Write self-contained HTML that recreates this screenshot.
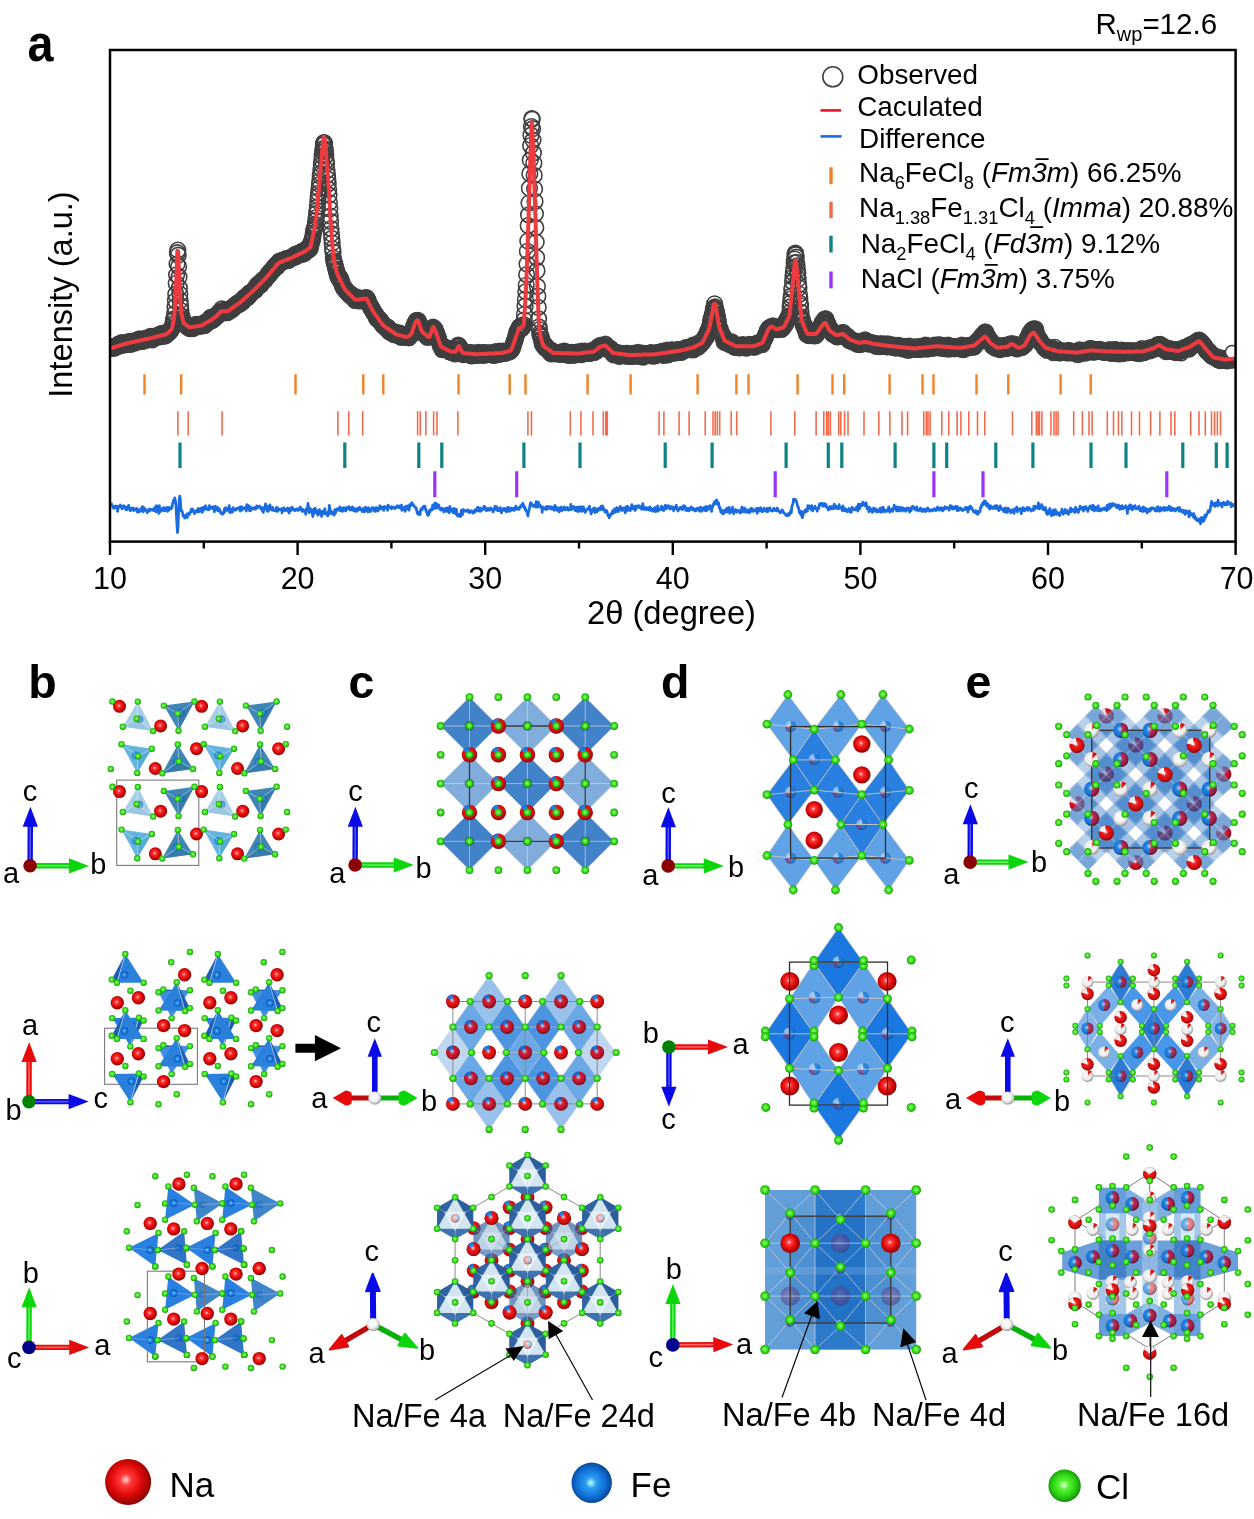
<!DOCTYPE html>
<html><head><meta charset="utf-8"><title>figure</title><style>html,body{margin:0;padding:0;background:#fff}svg{display:block;will-change:transform}</style></head>
<body>
<svg width="1254" height="1519" viewBox="0 0 1254 1519">
<defs>
<radialGradient id="na" cx="45%" cy="45%" r="55%"><stop offset="0" stop-color="#ffd8d8"/><stop offset=".22" stop-color="#ff3a3a"/><stop offset=".6" stop-color="#e20a0a"/><stop offset="1" stop-color="#8e0000"/></radialGradient>
<radialGradient id="cl" cx="48%" cy="48%" r="54%"><stop offset="0" stop-color="#f2ffe2"/><stop offset=".25" stop-color="#5cf53a"/><stop offset=".65" stop-color="#2cd412"/><stop offset="1" stop-color="#15860a"/></radialGradient>
<radialGradient id="fe" cx="48%" cy="50%" r="54%"><stop offset="0" stop-color="#c8ffff"/><stop offset=".25" stop-color="#2b9cf2"/><stop offset=".65" stop-color="#0f6fd6"/><stop offset="1" stop-color="#073f8e"/></radialGradient>
<radialGradient id="wh" cx="45%" cy="42%" r="58%"><stop offset="0" stop-color="#ffffff"/><stop offset=".55" stop-color="#f2f2f2"/><stop offset=".85" stop-color="#c4c4c4"/><stop offset="1" stop-color="#8a8a8a"/></radialGradient>
<radialGradient id="pu" cx="45%" cy="45%" r="55%"><stop offset="0" stop-color="#8a6aa8"/><stop offset=".6" stop-color="#63408a"/><stop offset="1" stop-color="#43306e"/></radialGradient>
<radialGradient id="sh" cx="45%" cy="42%" r="58%"><stop offset="0" stop-color="#fff" stop-opacity=".75"/><stop offset=".3" stop-color="#fff" stop-opacity=".12"/><stop offset=".62" stop-color="#000" stop-opacity="0"/><stop offset="1" stop-color="#000" stop-opacity=".42"/></radialGradient>
</defs>
<rect width="1254" height="1519" fill="#fff"/>
<marker id="om" markerWidth="22" markerHeight="22" refX="11" refY="11" markerUnits="userSpaceOnUse"><circle cx="11" cy="11" r="7.8" fill="none" stroke="#3f3f3f" stroke-width="1.6"/></marker>
<clipPath id="plotclip"><rect x="110" y="50" width="1126" height="491"/></clipPath><g clip-path="url(#plotclip)">
<polyline points="111.0,348.2 111.4,348.4 111.8,347.7 112.2,347.0 112.6,347.3 113.0,346.7 113.4,347.5 113.8,348.5 114.2,346.8 114.6,346.5 115.0,347.4 115.4,347.2 115.8,346.8 116.2,345.8 116.6,346.4 117.0,347.0 117.4,345.0 117.8,345.7 118.2,344.3 118.6,344.7 119.0,344.1 119.4,345.4 119.8,344.3 120.2,345.6 120.6,345.4 121.0,344.9 121.4,342.7 121.8,344.4 122.2,344.7 122.6,344.7 123.0,343.1 123.4,343.9 123.8,343.3 124.2,343.4 124.6,344.9 125.0,343.1 125.4,343.7 125.8,344.4 126.2,343.0 126.6,343.4 127.0,343.5 127.4,343.3 127.8,342.1 128.2,343.2 128.6,344.2 129.0,341.5 129.4,343.6 129.8,342.9 130.2,342.1 130.6,344.4 131.0,343.2 131.4,341.3 131.8,342.4 132.2,342.7 132.6,342.0 133.0,342.7 133.4,341.9 133.8,342.5 134.2,343.1 134.6,341.1 135.0,341.8 135.4,341.1 135.8,341.6 136.2,340.3 136.6,340.7 137.0,341.0 137.4,341.9 137.8,342.0 138.2,339.7 138.6,340.1 139.0,341.3 139.4,338.9 139.8,340.1 140.2,340.4 140.6,341.5 141.0,340.9 141.4,339.9 141.8,339.8 142.2,339.8 142.6,341.3 143.0,339.5 143.4,339.5 143.8,340.0 144.2,339.5 144.6,339.3 145.0,338.4 145.4,339.3 145.8,338.8 146.2,340.2 146.6,339.7 147.0,339.0 147.4,339.5 147.8,338.5 148.2,339.7 148.6,338.6 149.0,339.1 149.4,337.3 149.8,338.7 150.2,336.8 150.6,336.4 151.0,337.8 151.4,337.2 151.8,338.0 152.2,339.8 152.6,337.0 153.0,337.0 153.4,337.7 153.8,337.8 154.2,337.1 154.6,337.0 155.0,337.7 155.4,337.5 155.8,336.0 156.2,336.7 156.6,336.7 157.0,335.7 157.4,336.7 157.8,335.6 158.2,337.2 158.6,336.4 159.0,336.2 159.4,335.5 159.8,335.8 160.2,334.0 160.6,334.7 161.0,335.9 161.4,333.6 161.8,336.2 162.2,333.7 162.6,335.9 163.0,334.4 163.4,335.7 163.8,335.0 164.2,333.4 164.6,335.8 165.0,335.9 165.4,334.5 165.8,334.2 166.2,334.1 166.6,333.1 167.0,334.6 167.4,332.8 167.8,332.9 168.2,331.8 168.6,331.6 169.0,330.6 169.4,332.5 169.8,330.9 170.2,331.5 170.6,330.3 171.0,329.3 171.4,329.3 171.8,328.5 172.2,327.8 172.6,325.5 173.0,323.5 173.4,320.5 173.8,319.0 174.2,319.2 174.6,313.8 175.0,307.2 175.4,300.8 175.8,294.2 176.2,283.3 176.6,274.8 177.0,264.1 177.4,252.7 177.8,250.0 178.2,255.2 178.6,266.6 179.0,277.0 179.4,287.9 179.8,294.2 180.2,300.5 180.6,305.6 181.0,310.6 181.4,316.0 181.8,316.1 182.2,318.3 182.6,319.5 183.0,320.8 183.4,322.1 183.8,323.9 184.2,323.4 184.6,323.8 185.0,324.2 185.4,325.5 185.8,325.4 186.2,325.4 186.6,324.8 187.0,324.4 187.4,326.8 187.8,327.1 188.2,326.4 188.6,327.4 189.0,327.9 189.4,328.1 189.8,328.2 190.2,326.8 190.6,328.6 191.0,326.0 191.4,327.8 191.8,327.5 192.2,327.7 192.6,328.6 193.0,328.2 193.4,325.7 193.8,325.2 194.2,327.4 194.6,325.7 195.0,326.5 195.4,327.2 195.8,324.9 196.2,324.4 196.6,326.5 197.0,326.2 197.4,325.9 197.8,326.1 198.2,325.2 198.6,324.6 199.0,325.7 199.4,324.9 199.8,324.3 200.2,326.1 200.6,325.6 201.0,325.9 201.4,324.6 201.8,324.8 202.2,324.4 202.6,324.2 203.0,325.0 203.4,323.9 203.8,324.6 204.2,324.4 204.6,325.7 205.0,322.3 205.4,324.2 205.8,323.0 206.2,322.9 206.6,321.3 207.0,322.0 207.4,322.8 207.8,321.8 208.2,321.7 208.6,321.2 209.0,322.2 209.4,320.9 209.8,318.7 210.2,319.8 210.6,318.5 211.0,317.1 211.4,319.3 211.8,320.7 212.2,319.3 212.6,318.0 213.0,317.9 213.4,319.6 213.8,318.4 214.2,318.1 214.6,317.8 215.0,317.5 215.4,317.8 215.8,317.2 216.2,316.5 216.6,315.0 217.0,316.0 217.4,314.5 217.8,315.7 218.2,313.2 218.6,313.8 219.0,313.5 219.4,311.9 219.8,314.2 220.2,313.6 220.6,311.5 221.0,312.2 221.4,311.7 221.8,308.9 222.2,311.5 222.6,311.2 223.0,311.4 223.4,310.3 223.8,311.1 224.2,311.1 224.6,312.4 225.0,311.6 225.4,311.3 225.8,312.7 226.2,310.8 226.6,310.9 227.0,309.7 227.4,312.7 227.8,312.0 228.2,311.7 228.6,311.2 229.0,310.4 229.4,310.2 229.8,309.5 230.2,309.3 230.6,309.2 231.0,310.3 231.4,309.1 231.8,308.3 232.2,307.6 232.6,307.2 233.0,309.0 233.4,307.7 233.8,307.0 234.2,306.4 234.6,305.4 235.0,306.1 235.4,306.6 235.8,305.2 236.2,305.1 236.6,304.8 237.0,304.8 237.4,303.0 237.8,303.9 238.2,303.1 238.6,304.4 239.0,302.6 239.4,303.6 239.8,304.1 240.2,302.2 240.6,301.6 241.0,301.9 241.4,301.4 241.8,300.2 242.2,301.1 242.6,302.1 243.0,299.7 243.4,299.4 243.8,298.3 244.2,299.2 244.6,297.4 245.0,297.2 245.4,299.0 245.8,296.6 246.2,298.1 246.6,298.1 247.0,296.6 247.4,296.5 247.8,297.4 248.2,295.1 248.6,294.4 249.0,293.4 249.4,294.3 249.8,295.2 250.2,294.4 250.6,292.3 251.0,292.0 251.4,292.0 251.8,292.3 252.2,291.5 252.6,291.5 253.0,291.2 253.4,290.3 253.8,290.2 254.2,290.0 254.6,289.3 255.0,289.5 255.4,290.3 255.8,288.7 256.2,287.9 256.6,285.9 257.0,287.3 257.4,284.8 257.8,284.9 258.2,286.6 258.6,286.0 259.0,284.9 259.4,283.1 259.8,283.9 260.2,283.2 260.6,284.0 261.0,285.0 261.4,282.8 261.8,281.5 262.2,280.7 262.6,281.3 263.0,280.8 263.4,279.6 263.8,280.3 264.2,278.8 264.6,280.4 265.0,280.0 265.4,279.6 265.8,277.8 266.2,278.2 266.6,277.1 267.0,276.4 267.4,276.0 267.8,274.6 268.2,274.0 268.6,275.6 269.0,274.2 269.4,274.1 269.8,274.3 270.2,271.4 270.6,271.8 271.0,272.1 271.4,271.9 271.8,270.7 272.2,271.5 272.6,270.3 273.0,268.5 273.4,268.3 273.8,269.4 274.2,268.6 274.6,266.0 275.0,268.4 275.4,267.3 275.8,267.5 276.2,265.4 276.6,265.0 277.0,263.8 277.4,266.6 277.8,263.7 278.2,264.8 278.6,262.4 279.0,262.9 279.4,261.1 279.8,262.1 280.2,263.1 280.6,261.0 281.0,262.9 281.4,262.1 281.8,260.7 282.2,261.0 282.6,260.9 283.0,261.1 283.4,260.5 283.8,260.1 284.2,260.4 284.6,259.6 285.0,259.2 285.4,260.1 285.8,260.8 286.2,258.5 286.6,259.7 287.0,259.0 287.4,258.5 287.8,260.0 288.2,258.6 288.6,260.3 289.0,258.1 289.4,258.9 289.8,258.2 290.2,257.6 290.6,258.6 291.0,257.8 291.4,258.3 291.8,257.6 292.2,256.5 292.6,257.2 293.0,257.1 293.4,257.7 293.8,255.9 294.2,256.5 294.6,254.8 295.0,256.7 295.4,255.0 295.8,254.1 296.2,255.5 296.6,256.4 297.0,253.8 297.4,254.0 297.8,254.2 298.2,253.6 298.6,254.8 299.0,253.5 299.4,253.4 299.8,254.4 300.2,253.0 300.6,253.9 301.0,252.5 301.4,252.1 301.8,251.3 302.2,254.5 302.6,252.3 303.0,252.6 303.4,252.2 303.8,252.2 304.2,251.9 304.6,253.3 305.0,250.3 305.4,249.6 305.8,249.8 306.2,249.3 306.6,250.9 307.0,250.6 307.4,248.8 307.8,248.1 308.2,248.8 308.6,250.1 309.0,246.0 309.4,248.7 309.8,247.0 310.2,248.6 310.6,245.8 311.0,244.9 311.4,241.9 311.8,240.5 312.2,240.7 312.6,238.3 313.0,235.4 313.4,233.1 313.8,230.3 314.2,229.8 314.6,228.3 315.0,226.4 315.4,224.3 315.8,220.4 316.2,217.5 316.6,213.4 317.0,210.5 317.4,206.9 317.8,201.0 318.2,196.4 318.6,193.1 319.0,188.6 319.4,184.5 319.8,181.0 320.2,176.0 320.6,173.4 321.0,168.7 321.4,164.9 321.8,160.4 322.2,155.8 322.6,151.7 323.0,148.7 323.4,144.9 323.8,142.9 324.2,142.6 324.6,144.0 325.0,148.8 325.4,151.1 325.8,155.8 326.2,160.6 326.6,163.7 327.0,170.3 327.4,174.9 327.8,179.2 328.2,183.8 328.6,189.4 329.0,195.2 329.4,202.5 329.8,208.8 330.2,216.0 330.6,221.4 331.0,228.6 331.4,233.7 331.8,238.4 332.2,243.0 332.6,248.8 333.0,251.8 333.4,258.0 333.8,260.6 334.2,262.4 334.6,264.0 335.0,264.6 335.4,266.6 335.8,268.9 336.2,270.3 336.6,271.7 337.0,271.7 337.4,274.9 337.8,276.4 338.2,277.0 338.6,277.1 339.0,276.3 339.4,279.3 339.8,279.1 340.2,277.8 340.6,281.2 341.0,280.3 341.4,281.3 341.8,282.7 342.2,285.2 342.6,284.5 343.0,285.9 343.4,288.0 343.8,288.7 344.2,287.9 344.6,288.6 345.0,288.4 345.4,289.4 345.8,290.8 346.2,291.2 346.6,291.3 347.0,292.5 347.4,291.3 347.8,292.3 348.2,293.5 348.6,293.7 349.0,294.6 349.4,294.4 349.8,294.1 350.2,295.1 350.6,294.3 351.0,294.1 351.4,296.5 351.8,296.4 352.2,297.1 352.6,295.7 353.0,297.3 353.4,297.5 353.8,297.6 354.2,296.8 354.6,298.9 355.0,300.4 355.4,300.1 355.8,299.2 356.2,299.7 356.6,300.3 357.0,297.1 357.4,299.5 357.8,300.0 358.2,300.1 358.6,301.0 359.0,300.4 359.4,299.6 359.8,299.6 360.2,300.0 360.6,298.7 361.0,299.2 361.4,300.0 361.8,300.9 362.2,298.9 362.6,299.0 363.0,299.2 363.4,300.1 363.8,298.9 364.2,300.2 364.6,297.9 365.0,298.6 365.4,298.5 365.8,299.4 366.2,299.6 366.6,297.5 367.0,298.6 367.4,300.5 367.8,300.4 368.2,300.4 368.6,303.5 369.0,303.8 369.4,304.6 369.8,304.5 370.2,306.7 370.6,306.3 371.0,308.3 371.4,307.3 371.8,308.2 372.2,309.9 372.6,309.9 373.0,311.8 373.4,312.1 373.8,311.6 374.2,313.0 374.6,313.2 375.0,314.9 375.4,314.0 375.8,314.8 376.2,316.8 376.6,318.3 377.0,318.6 377.4,317.4 377.8,318.1 378.2,319.9 378.6,318.9 379.0,318.7 379.4,320.3 379.8,321.1 380.2,320.5 380.6,320.3 381.0,321.1 381.4,323.5 381.8,322.8 382.2,323.9 382.6,324.8 383.0,325.6 383.4,325.2 383.8,326.3 384.2,325.3 384.6,326.0 385.0,325.7 385.4,327.9 385.8,327.2 386.2,326.8 386.6,327.4 387.0,327.8 387.4,329.0 387.8,327.2 388.2,327.9 388.6,328.8 389.0,331.7 389.4,330.6 389.8,329.9 390.2,330.9 390.6,332.4 391.0,330.6 391.4,330.8 391.8,332.5 392.2,332.1 392.6,332.5 393.0,331.8 393.4,334.2 393.8,334.3 394.2,333.6 394.6,333.9 395.0,331.8 395.4,334.5 395.8,334.0 396.2,334.7 396.6,335.1 397.0,334.3 397.4,333.1 397.8,335.1 398.2,334.2 398.6,334.7 399.0,334.5 399.4,334.9 399.8,333.2 400.2,336.5 400.6,335.7 401.0,336.6 401.4,337.5 401.8,335.8 402.2,334.3 402.6,335.2 403.0,335.1 403.4,335.8 403.8,336.4 404.2,334.7 404.6,336.9 405.0,335.3 405.4,337.0 405.8,336.8 406.2,336.7 406.6,337.0 407.0,336.6 407.4,336.4 407.8,335.1 408.2,336.3 408.6,337.7 409.0,337.6 409.4,336.7 409.8,335.8 410.2,334.3 410.6,335.9 411.0,334.3 411.4,333.8 411.8,332.8 412.2,331.9 412.6,330.3 413.0,329.3 413.4,327.2 413.8,326.6 414.2,327.8 414.6,324.5 415.0,323.2 415.4,322.9 415.8,322.6 416.2,320.5 416.6,321.0 417.0,321.6 417.4,320.6 417.8,320.4 418.2,322.3 418.6,321.4 419.0,323.3 419.4,323.9 419.8,326.9 420.2,325.0 420.6,327.4 421.0,328.7 421.4,330.9 421.8,331.8 422.2,333.0 422.6,330.6 423.0,333.1 423.4,332.5 423.8,332.5 424.2,333.9 424.6,332.9 425.0,332.2 425.4,334.1 425.8,333.4 426.2,334.5 426.6,335.8 427.0,336.0 427.4,337.5 427.8,336.3 428.2,335.4 428.6,336.4 429.0,336.5 429.4,336.0 429.8,336.6 430.2,334.5 430.6,332.1 431.0,333.3 431.4,331.4 431.8,330.6 432.2,329.2 432.6,328.5 433.0,327.1 433.4,328.1 433.8,328.0 434.2,328.9 434.6,329.9 435.0,329.2 435.4,331.3 435.8,332.1 436.2,333.5 436.6,333.0 437.0,336.7 437.4,336.5 437.8,336.5 438.2,337.3 438.6,339.7 439.0,341.1 439.4,341.8 439.8,343.7 440.2,344.2 440.6,346.4 441.0,345.9 441.4,346.9 441.8,348.0 442.2,349.6 442.6,346.6 443.0,347.3 443.4,347.1 443.8,348.8 444.2,347.3 444.6,348.1 445.0,348.7 445.4,348.0 445.8,348.2 446.2,348.9 446.6,347.6 447.0,348.4 447.4,349.5 447.8,350.2 448.2,350.1 448.6,348.9 449.0,350.3 449.4,351.6 449.8,351.6 450.2,351.2 450.6,350.7 451.0,352.2 451.4,351.2 451.8,350.6 452.2,351.0 452.6,353.0 453.0,351.9 453.4,352.7 453.8,351.3 454.2,352.5 454.6,351.2 455.0,351.6 455.4,353.9 455.8,352.3 456.2,350.8 456.6,350.4 457.0,349.8 457.4,349.6 457.8,347.1 458.2,345.0 458.6,345.7 459.0,346.1 459.4,346.9 459.8,348.8 460.2,348.7 460.6,349.9 461.0,349.0 461.4,351.6 461.8,353.5 462.2,353.0 462.6,353.1 463.0,353.2 463.4,354.7 463.8,352.3 464.2,353.1 464.6,353.6 465.0,353.9 465.4,352.9 465.8,353.6 466.2,353.1 466.6,353.5 467.0,353.3 467.4,352.4 467.8,353.5 468.2,354.3 468.6,352.7 469.0,353.4 469.4,354.2 469.8,352.7 470.2,353.9 470.6,352.8 471.0,354.8 471.4,355.9 471.8,355.7 472.2,353.7 472.6,354.6 473.0,354.1 473.4,354.1 473.8,355.4 474.2,352.9 474.6,355.1 475.0,354.1 475.4,355.5 475.8,354.4 476.2,353.7 476.6,354.5 477.0,354.9 477.4,354.3 477.8,354.7 478.2,353.7 478.6,352.3 479.0,355.0 479.4,354.8 479.8,354.3 480.2,354.2 480.6,355.0 481.0,353.7 481.4,353.4 481.8,353.9 482.2,355.1 482.6,352.7 483.0,355.0 483.4,353.4 483.8,352.9 484.2,355.0 484.6,353.8 485.0,352.7 485.4,353.5 485.8,354.7 486.2,354.9 486.6,353.4 487.0,354.1 487.4,354.4 487.8,353.1 488.2,354.0 488.6,353.7 489.0,353.2 489.4,353.2 489.8,353.7 490.2,353.6 490.6,353.1 491.0,353.2 491.4,354.5 491.8,353.7 492.2,354.3 492.6,354.6 493.0,354.0 493.4,355.5 493.8,352.7 494.2,354.1 494.6,353.1 495.0,355.0 495.4,354.9 495.8,351.6 496.2,352.4 496.6,353.9 497.0,354.0 497.4,353.9 497.8,353.2 498.2,353.6 498.6,353.8 499.0,353.1 499.4,354.1 499.8,351.1 500.2,353.7 500.6,352.1 501.0,353.9 501.4,352.8 501.8,352.2 502.2,353.3 502.6,352.0 503.0,351.9 503.4,351.2 503.8,352.5 504.2,352.8 504.6,353.2 505.0,352.0 505.4,353.0 505.8,352.0 506.2,351.7 506.6,352.2 507.0,352.6 507.4,351.2 507.8,351.2 508.2,351.1 508.6,351.2 509.0,350.2 509.4,351.9 509.8,350.5 510.2,351.1 510.6,349.9 511.0,350.6 511.4,349.8 511.8,348.0 512.2,349.1 512.6,346.5 513.0,346.7 513.4,344.9 513.8,342.4 514.2,341.6 514.6,341.2 515.0,339.8 515.4,338.6 515.8,337.1 516.2,334.5 516.6,334.8 517.0,331.8 517.4,333.0 517.8,330.8 518.2,329.6 518.6,329.1 519.0,329.0 519.4,327.2 519.8,326.7 520.2,327.1 520.6,326.0 521.0,326.8 521.4,328.9 521.8,326.3 522.2,327.6 522.6,325.6 523.0,326.9 523.4,326.1 523.8,324.5 524.2,320.0 524.6,314.3 525.0,306.2 525.4,299.3 525.8,291.6 526.2,285.3 526.6,274.6 527.0,264.0 527.4,251.3 527.8,241.0 528.2,225.6 528.6,214.9 529.0,203.0 529.4,188.2 529.8,173.7 530.2,160.0 530.6,145.6 531.0,135.2 531.4,126.5 531.8,118.6 532.2,119.2 532.6,128.7 533.0,140.1 533.4,152.9 533.8,163.2 534.2,175.4 534.6,189.0 535.0,201.4 535.4,213.8 535.8,227.6 536.2,242.1 536.6,257.6 537.0,270.7 537.4,286.4 537.8,296.2 538.2,307.4 538.6,318.9 539.0,326.9 539.4,329.6 539.8,333.6 540.2,335.5 540.6,335.4 541.0,336.8 541.4,339.2 541.8,339.5 542.2,343.9 542.6,341.9 543.0,344.2 543.4,345.5 543.8,345.9 544.2,346.5 544.6,346.9 545.0,346.8 545.4,348.3 545.8,345.6 546.2,347.9 546.6,347.5 547.0,348.6 547.4,349.0 547.8,348.2 548.2,348.8 548.6,350.4 549.0,350.3 549.4,349.6 549.8,352.4 550.2,352.9 550.6,349.8 551.0,351.7 551.4,354.0 551.8,352.7 552.2,352.5 552.6,352.4 553.0,352.4 553.4,352.8 553.8,352.5 554.2,353.7 554.6,352.7 555.0,352.6 555.4,352.0 555.8,353.0 556.2,352.3 556.6,352.9 557.0,354.0 557.4,353.4 557.8,353.5 558.2,353.4 558.6,353.2 559.0,353.0 559.4,352.8 559.8,353.8 560.2,352.2 560.6,354.4 561.0,353.2 561.4,352.5 561.8,352.7 562.2,352.6 562.6,353.3 563.0,352.5 563.4,354.2 563.8,352.5 564.2,351.2 564.6,352.6 565.0,351.4 565.4,353.2 565.8,354.2 566.2,353.8 566.6,352.1 567.0,352.6 567.4,354.9 567.8,353.6 568.2,353.3 568.6,354.3 569.0,355.5 569.4,354.5 569.8,353.5 570.2,353.7 570.6,353.9 571.0,352.8 571.4,352.4 571.8,353.4 572.2,352.5 572.6,353.3 573.0,353.5 573.4,355.5 573.8,352.6 574.2,353.3 574.6,353.3 575.0,353.8 575.4,354.4 575.8,353.0 576.2,352.7 576.6,352.0 577.0,352.6 577.4,354.0 577.8,353.5 578.2,352.6 578.6,353.2 579.0,353.5 579.4,353.9 579.8,352.8 580.2,353.1 580.6,351.6 581.0,352.2 581.4,354.6 581.8,351.2 582.2,352.8 582.6,353.2 583.0,352.6 583.4,352.2 583.8,352.8 584.2,352.8 584.6,352.7 585.0,351.1 585.4,352.6 585.8,351.9 586.2,352.1 586.6,352.8 587.0,353.1 587.4,353.3 587.8,352.0 588.2,353.2 588.6,353.4 589.0,353.3 589.4,353.5 589.8,352.1 590.2,352.0 590.6,352.8 591.0,350.8 591.4,352.2 591.8,351.5 592.2,351.6 592.6,350.3 593.0,351.0 593.4,351.7 593.8,352.5 594.2,352.3 594.6,351.1 595.0,350.7 595.4,349.8 595.8,350.5 596.2,349.6 596.6,350.1 597.0,350.8 597.4,348.9 597.8,347.2 598.2,347.5 598.6,346.6 599.0,346.6 599.4,348.5 599.8,347.2 600.2,345.4 600.6,347.1 601.0,347.6 601.4,346.0 601.8,345.6 602.2,345.8 602.6,346.3 603.0,346.5 603.4,346.9 603.8,346.9 604.2,346.7 604.6,346.8 605.0,346.1 605.4,344.1 605.8,345.7 606.2,346.5 606.6,346.2 607.0,347.8 607.4,347.0 607.8,346.9 608.2,349.5 608.6,349.2 609.0,349.2 609.4,350.2 609.8,350.7 610.2,350.4 610.6,348.3 611.0,350.3 611.4,350.9 611.8,350.8 612.2,352.3 612.6,353.6 613.0,352.4 613.4,352.0 613.8,354.9 614.2,352.7 614.6,352.1 615.0,353.4 615.4,353.7 615.8,352.7 616.2,354.1 616.6,353.0 617.0,352.6 617.4,353.7 617.8,354.3 618.2,353.0 618.6,354.0 619.0,353.6 619.4,356.3 619.8,353.2 620.2,355.1 620.6,353.9 621.0,353.8 621.4,354.7 621.8,354.9 622.2,355.2 622.6,354.4 623.0,353.7 623.4,353.8 623.8,354.8 624.2,354.9 624.6,355.7 625.0,354.8 625.4,355.4 625.8,355.9 626.2,354.7 626.6,353.3 627.0,353.6 627.4,353.4 627.8,356.2 628.2,354.1 628.6,356.0 629.0,355.5 629.4,356.5 629.8,355.9 630.2,354.9 630.6,354.8 631.0,355.0 631.4,355.1 631.8,354.5 632.2,354.9 632.6,356.4 633.0,353.4 633.4,355.1 633.8,354.1 634.2,355.0 634.6,355.6 635.0,354.8 635.4,355.5 635.8,353.4 636.2,355.8 636.6,354.3 637.0,355.4 637.4,355.0 637.8,352.4 638.2,354.1 638.6,355.0 639.0,356.1 639.4,355.0 639.8,355.0 640.2,353.4 640.6,356.0 641.0,356.3 641.4,354.7 641.8,354.5 642.2,353.2 642.6,355.4 643.0,357.1 643.4,355.3 643.8,355.7 644.2,355.1 644.6,353.7 645.0,355.8 645.4,353.5 645.8,354.4 646.2,354.8 646.6,355.3 647.0,354.9 647.4,354.9 647.8,353.8 648.2,353.3 648.6,354.5 649.0,353.8 649.4,353.3 649.8,353.3 650.2,354.0 650.6,352.8 651.0,353.2 651.4,352.9 651.8,354.6 652.2,354.7 652.6,356.2 653.0,353.0 653.4,353.7 653.8,355.2 654.2,354.1 654.6,354.0 655.0,355.8 655.4,354.0 655.8,353.2 656.2,353.0 656.6,354.4 657.0,354.3 657.4,352.7 657.8,353.0 658.2,354.3 658.6,354.3 659.0,353.2 659.4,354.2 659.8,354.1 660.2,352.0 660.6,353.2 661.0,353.8 661.4,352.9 661.8,351.4 662.2,353.0 662.6,353.9 663.0,354.6 663.4,351.1 663.8,355.4 664.2,351.9 664.6,353.8 665.0,354.0 665.4,353.7 665.8,352.9 666.2,351.6 666.6,353.2 667.0,351.9 667.4,350.2 667.8,355.0 668.2,353.0 668.6,353.9 669.0,351.4 669.4,353.5 669.8,353.6 670.2,353.5 670.6,352.0 671.0,350.9 671.4,351.7 671.8,349.8 672.2,350.2 672.6,351.8 673.0,350.8 673.4,351.4 673.8,351.4 674.2,353.2 674.6,352.6 675.0,351.3 675.4,352.4 675.8,350.5 676.2,350.9 676.6,351.9 677.0,349.9 677.4,350.7 677.8,349.7 678.2,351.0 678.6,352.3 679.0,350.1 679.4,350.9 679.8,349.8 680.2,349.5 680.6,349.4 681.0,351.7 681.4,352.5 681.8,350.7 682.2,349.5 682.6,350.7 683.0,349.6 683.4,350.6 683.8,350.0 684.2,349.9 684.6,350.1 685.0,348.9 685.4,349.0 685.8,347.7 686.2,348.8 686.6,347.8 687.0,348.8 687.4,348.0 687.8,348.9 688.2,349.1 688.6,347.3 689.0,347.7 689.4,347.5 689.8,349.0 690.2,349.7 690.6,348.8 691.0,347.7 691.4,349.2 691.8,346.4 692.2,349.0 692.6,347.0 693.0,345.0 693.4,349.8 693.8,348.6 694.2,346.1 694.6,346.9 695.0,346.4 695.4,346.5 695.8,344.9 696.2,345.4 696.6,346.2 697.0,345.8 697.4,346.5 697.8,345.2 698.2,347.1 698.6,344.1 699.0,344.8 699.4,342.6 699.8,343.0 700.2,345.2 700.6,342.9 701.0,344.0 701.4,343.3 701.8,342.2 702.2,342.5 702.6,341.8 703.0,341.1 703.4,341.4 703.8,340.5 704.2,338.6 704.6,337.5 705.0,337.8 705.4,336.6 705.8,336.8 706.2,337.5 706.6,335.1 707.0,333.5 707.4,332.6 707.8,331.2 708.2,330.4 708.6,329.6 709.0,329.1 709.4,327.5 709.8,326.6 710.2,323.7 710.6,322.0 711.0,319.2 711.4,320.0 711.8,317.1 712.2,316.4 712.6,313.7 713.0,312.6 713.4,309.2 713.8,308.3 714.2,308.3 714.6,303.8 715.0,306.9 715.4,309.1 715.8,309.8 716.2,311.8 716.6,314.1 717.0,314.4 717.4,317.8 717.8,319.1 718.2,321.8 718.6,324.4 719.0,327.0 719.4,328.7 719.8,329.9 720.2,329.1 720.6,333.1 721.0,333.2 721.4,333.7 721.8,333.6 722.2,334.7 722.6,336.3 723.0,337.1 723.4,336.1 723.8,339.3 724.2,342.2 724.6,338.6 725.0,341.7 725.4,341.4 725.8,341.1 726.2,342.7 726.6,340.6 727.0,342.0 727.4,343.4 727.8,342.1 728.2,342.0 728.6,342.7 729.0,342.4 729.4,344.5 729.8,342.4 730.2,344.2 730.6,342.5 731.0,344.4 731.4,343.9 731.8,341.8 732.2,344.4 732.6,343.6 733.0,344.4 733.4,346.4 733.8,344.2 734.2,344.4 734.6,346.9 735.0,345.9 735.4,347.4 735.8,346.4 736.2,345.4 736.6,346.1 737.0,347.3 737.4,347.1 737.8,346.2 738.2,346.2 738.6,346.1 739.0,345.7 739.4,348.0 739.8,346.2 740.2,345.2 740.6,345.8 741.0,346.9 741.4,346.8 741.8,346.1 742.2,345.6 742.6,346.2 743.0,344.7 743.4,345.0 743.8,346.9 744.2,345.8 744.6,346.5 745.0,347.3 745.4,346.8 745.8,346.2 746.2,348.2 746.6,346.8 747.0,345.9 747.4,346.9 747.8,346.6 748.2,345.4 748.6,346.3 749.0,346.0 749.4,344.4 749.8,346.0 750.2,345.9 750.6,345.8 751.0,344.7 751.4,345.9 751.8,346.2 752.2,346.3 752.6,345.1 753.0,346.8 753.4,345.1 753.8,345.9 754.2,347.2 754.6,345.2 755.0,345.2 755.4,346.6 755.8,345.1 756.2,345.0 756.6,345.3 757.0,345.9 757.4,342.8 757.8,343.9 758.2,343.6 758.6,343.4 759.0,343.4 759.4,343.3 759.8,344.2 760.2,343.0 760.6,343.8 761.0,343.9 761.4,342.7 761.8,343.3 762.2,344.6 762.6,343.0 763.0,341.4 763.4,340.9 763.8,339.2 764.2,339.3 764.6,338.9 765.0,336.4 765.4,336.0 765.8,336.3 766.2,333.8 766.6,333.5 767.0,331.4 767.4,330.7 767.8,330.0 768.2,331.6 768.6,328.7 769.0,328.2 769.4,327.8 769.8,327.7 770.2,328.0 770.6,327.2 771.0,328.5 771.4,326.5 771.8,327.7 772.2,326.9 772.6,327.5 773.0,325.9 773.4,327.4 773.8,327.8 774.2,327.9 774.6,326.5 775.0,329.5 775.4,328.7 775.8,328.9 776.2,329.2 776.6,329.1 777.0,329.6 777.4,328.0 777.8,328.2 778.2,329.1 778.6,328.9 779.0,328.3 779.4,328.0 779.8,327.7 780.2,328.3 780.6,329.3 781.0,327.1 781.4,329.3 781.8,328.6 782.2,327.3 782.6,328.3 783.0,326.2 783.4,325.9 783.8,326.0 784.2,326.1 784.6,325.4 785.0,324.4 785.4,324.2 785.8,321.4 786.2,322.9 786.6,320.4 787.0,320.3 787.4,319.7 787.8,318.2 788.2,317.2 788.6,316.6 789.0,316.7 789.4,315.5 789.8,312.3 790.2,306.9 790.6,303.1 791.0,298.8 791.4,295.9 791.8,289.4 792.2,288.0 792.6,281.9 793.0,276.8 793.4,272.8 793.8,268.4 794.2,262.8 794.6,259.0 795.0,254.0 795.4,253.0 795.8,254.7 796.2,257.2 796.6,262.6 797.0,265.8 797.4,270.2 797.8,273.8 798.2,279.0 798.6,284.8 799.0,287.7 799.4,294.3 799.8,298.8 800.2,303.4 800.6,305.8 801.0,312.2 801.4,317.1 801.8,319.1 802.2,321.5 802.6,320.4 803.0,324.2 803.4,324.0 803.8,326.3 804.2,324.9 804.6,328.1 805.0,328.3 805.4,330.2 805.8,329.6 806.2,330.8 806.6,334.3 807.0,332.5 807.4,333.2 807.8,333.8 808.2,333.1 808.6,335.1 809.0,335.6 809.4,333.4 809.8,332.4 810.2,335.1 810.6,335.0 811.0,334.7 811.4,335.0 811.8,333.2 812.2,333.8 812.6,332.8 813.0,332.7 813.4,334.9 813.8,333.4 814.2,336.0 814.6,334.1 815.0,333.4 815.4,334.7 815.8,335.6 816.2,334.3 816.6,332.3 817.0,333.1 817.4,333.4 817.8,331.1 818.2,330.3 818.6,331.2 819.0,329.8 819.4,328.0 819.8,327.9 820.2,326.8 820.6,327.0 821.0,326.1 821.4,326.2 821.8,325.1 822.2,322.3 822.6,323.4 823.0,323.1 823.4,322.1 823.8,322.0 824.2,319.9 824.6,319.0 825.0,320.5 825.4,319.0 825.8,318.8 826.2,322.5 826.6,321.8 827.0,323.1 827.4,323.1 827.8,324.1 828.2,325.3 828.6,327.0 829.0,328.6 829.4,327.1 829.8,330.5 830.2,329.3 830.6,329.8 831.0,331.7 831.4,331.4 831.8,330.5 832.2,333.8 832.6,331.7 833.0,333.0 833.4,333.3 833.8,334.7 834.2,333.3 834.6,334.8 835.0,333.5 835.4,335.5 835.8,334.1 836.2,334.6 836.6,336.7 837.0,335.3 837.4,335.0 837.8,336.9 838.2,335.1 838.6,334.0 839.0,335.3 839.4,333.5 839.8,335.5 840.2,335.5 840.6,333.9 841.0,333.8 841.4,334.4 841.8,334.2 842.2,333.3 842.6,334.6 843.0,332.3 843.4,333.9 843.8,334.3 844.2,334.7 844.6,335.6 845.0,334.5 845.4,336.5 845.8,336.1 846.2,336.0 846.6,335.7 847.0,336.2 847.4,337.9 847.8,337.1 848.2,338.3 848.6,339.6 849.0,339.9 849.4,340.6 849.8,339.2 850.2,338.7 850.6,340.8 851.0,340.3 851.4,341.2 851.8,340.3 852.2,341.5 852.6,341.4 853.0,341.4 853.4,341.4 853.8,341.4 854.2,341.4 854.6,341.6 855.0,342.4 855.4,341.2 855.8,343.4 856.2,341.9 856.6,343.0 857.0,342.2 857.4,342.2 857.8,344.4 858.2,342.5 858.6,341.7 859.0,342.2 859.4,342.5 859.8,344.6 860.2,342.8 860.6,343.4 861.0,341.6 861.4,342.8 861.8,343.0 862.2,343.9 862.6,341.6 863.0,342.7 863.4,342.4 863.8,341.1 864.2,342.0 864.6,341.7 865.0,339.8 865.4,342.4 865.8,342.4 866.2,341.6 866.6,340.9 867.0,343.6 867.4,342.6 867.8,343.3 868.2,343.8 868.6,342.1 869.0,343.4 869.4,342.6 869.8,342.9 870.2,342.9 870.6,343.1 871.0,344.2 871.4,343.4 871.8,343.3 872.2,343.3 872.6,343.9 873.0,342.9 873.4,343.3 873.8,343.9 874.2,343.5 874.6,343.9 875.0,343.5 875.4,346.0 875.8,345.4 876.2,344.7 876.6,344.2 877.0,346.3 877.4,344.7 877.8,344.4 878.2,344.8 878.6,344.8 879.0,345.9 879.4,344.6 879.8,346.6 880.2,343.9 880.6,345.4 881.0,343.9 881.4,346.5 881.8,344.6 882.2,344.9 882.6,345.9 883.0,346.2 883.4,344.1 883.8,344.9 884.2,344.0 884.6,345.4 885.0,345.2 885.4,345.1 885.8,344.8 886.2,345.1 886.6,344.9 887.0,346.0 887.4,347.0 887.8,343.9 888.2,345.6 888.6,345.4 889.0,346.3 889.4,345.0 889.8,345.8 890.2,345.0 890.6,346.6 891.0,346.2 891.4,346.0 891.8,346.5 892.2,346.0 892.6,344.9 893.0,346.8 893.4,346.6 893.8,346.2 894.2,347.3 894.6,347.6 895.0,345.5 895.4,345.8 895.8,348.0 896.2,347.9 896.6,346.0 897.0,345.6 897.4,346.2 897.8,346.3 898.2,345.4 898.6,346.9 899.0,345.8 899.4,345.9 899.8,347.8 900.2,346.4 900.6,347.0 901.0,347.7 901.4,347.9 901.8,346.9 902.2,347.3 902.6,346.5 903.0,348.9 903.4,348.0 903.8,346.4 904.2,347.5 904.6,348.1 905.0,348.0 905.4,349.2 905.8,348.8 906.2,347.2 906.6,347.6 907.0,346.6 907.4,348.0 907.8,348.0 908.2,350.3 908.6,348.0 909.0,346.1 909.4,347.4 909.8,348.1 910.2,346.9 910.6,347.3 911.0,347.8 911.4,348.5 911.8,348.1 912.2,347.5 912.6,349.0 913.0,347.9 913.4,347.9 913.8,347.2 914.2,347.8 914.6,349.1 915.0,347.0 915.4,348.3 915.8,349.0 916.2,348.0 916.6,348.5 917.0,347.2 917.4,349.4 917.8,349.1 918.2,348.3 918.6,346.5 919.0,347.1 919.4,348.9 919.8,349.5 920.2,348.2 920.6,349.0 921.0,347.3 921.4,347.6 921.8,347.7 922.2,348.1 922.6,346.3 923.0,348.5 923.4,348.8 923.8,346.5 924.2,346.3 924.6,347.8 925.0,346.8 925.4,345.2 925.8,348.1 926.2,347.4 926.6,346.8 927.0,349.1 927.4,347.3 927.8,346.4 928.2,347.2 928.6,346.1 929.0,346.3 929.4,347.3 929.8,346.4 930.2,346.5 930.6,348.3 931.0,347.6 931.4,347.5 931.8,347.2 932.2,347.1 932.6,347.9 933.0,346.6 933.4,348.2 933.8,345.7 934.2,346.2 934.6,345.2 935.0,346.1 935.4,346.8 935.8,347.6 936.2,345.7 936.6,346.2 937.0,345.9 937.4,345.6 937.8,345.2 938.2,346.4 938.6,344.8 939.0,346.5 939.4,346.4 939.8,345.8 940.2,345.5 940.6,345.2 941.0,348.2 941.4,345.3 941.8,348.0 942.2,347.1 942.6,346.3 943.0,345.6 943.4,347.6 943.8,348.3 944.2,345.9 944.6,346.5 945.0,347.7 945.4,347.1 945.8,348.7 946.2,346.4 946.6,347.4 947.0,345.8 947.4,348.9 947.8,346.3 948.2,345.0 948.6,347.0 949.0,347.0 949.4,348.8 949.8,346.8 950.2,347.2 950.6,347.7 951.0,348.7 951.4,347.2 951.8,348.2 952.2,347.8 952.6,347.1 953.0,347.5 953.4,347.4 953.8,346.6 954.2,348.6 954.6,346.3 955.0,348.6 955.4,348.4 955.8,347.5 956.2,346.9 956.6,347.4 957.0,348.1 957.4,348.4 957.8,348.0 958.2,348.7 958.6,347.3 959.0,348.0 959.4,346.4 959.8,348.6 960.2,348.0 960.6,347.4 961.0,348.8 961.4,348.3 961.8,345.1 962.2,347.6 962.6,346.2 963.0,348.4 963.4,349.6 963.8,346.8 964.2,347.3 964.6,346.9 965.0,347.4 965.4,347.6 965.8,348.1 966.2,346.0 966.6,348.2 967.0,345.9 967.4,346.9 967.8,347.7 968.2,347.2 968.6,345.7 969.0,345.8 969.4,345.9 969.8,346.3 970.2,347.3 970.6,345.0 971.0,346.5 971.4,346.6 971.8,346.5 972.2,346.3 972.6,347.2 973.0,346.2 973.4,346.4 973.8,346.1 974.2,347.0 974.6,343.4 975.0,345.9 975.4,344.1 975.8,343.7 976.2,342.7 976.6,341.5 977.0,342.4 977.4,341.7 977.8,342.3 978.2,340.1 978.6,342.3 979.0,340.7 979.4,339.8 979.8,338.9 980.2,338.3 980.6,337.5 981.0,337.5 981.4,337.5 981.8,336.8 982.2,335.2 982.6,335.7 983.0,334.7 983.4,335.2 983.8,336.3 984.2,334.7 984.6,333.5 985.0,332.0 985.4,332.2 985.8,332.4 986.2,335.2 986.6,334.5 987.0,335.9 987.4,336.0 987.8,337.3 988.2,339.2 988.6,338.0 989.0,339.1 989.4,339.4 989.8,341.6 990.2,340.6 990.6,341.1 991.0,341.3 991.4,341.7 991.8,343.8 992.2,346.1 992.6,343.2 993.0,345.3 993.4,345.0 993.8,344.2 994.2,345.2 994.6,345.6 995.0,345.5 995.4,348.1 995.8,345.0 996.2,347.3 996.6,347.5 997.0,347.0 997.4,347.9 997.8,348.6 998.2,347.9 998.6,348.1 999.0,348.3 999.4,345.8 999.8,349.0 1000.2,349.6 1000.6,348.4 1001.0,348.4 1001.4,346.2 1001.8,347.3 1002.2,346.6 1002.6,346.8 1003.0,348.1 1003.4,346.5 1003.8,347.0 1004.2,345.4 1004.6,346.9 1005.0,347.1 1005.4,346.3 1005.8,346.3 1006.2,348.6 1006.6,345.7 1007.0,345.8 1007.4,345.8 1007.8,347.3 1008.2,347.9 1008.6,346.1 1009.0,344.9 1009.4,344.9 1009.8,346.0 1010.2,343.9 1010.6,345.8 1011.0,345.5 1011.4,344.1 1011.8,344.7 1012.2,344.9 1012.6,345.9 1013.0,343.8 1013.4,346.0 1013.8,344.8 1014.2,344.7 1014.6,345.7 1015.0,345.6 1015.4,345.2 1015.8,344.9 1016.2,345.7 1016.6,348.1 1017.0,348.8 1017.4,347.8 1017.8,348.5 1018.2,347.2 1018.6,347.7 1019.0,348.0 1019.4,346.6 1019.8,346.5 1020.2,347.3 1020.6,346.8 1021.0,346.0 1021.4,347.1 1021.8,346.4 1022.2,347.3 1022.6,346.2 1023.0,345.8 1023.4,346.0 1023.8,345.5 1024.2,344.8 1024.6,344.6 1025.0,345.0 1025.4,344.0 1025.8,343.8 1026.2,340.3 1026.6,340.6 1027.0,339.7 1027.4,339.3 1027.8,337.9 1028.2,336.9 1028.6,337.2 1029.0,335.7 1029.4,333.6 1029.8,334.9 1030.2,333.8 1030.6,331.8 1031.0,332.6 1031.4,330.7 1031.8,332.0 1032.2,330.4 1032.6,329.5 1033.0,329.6 1033.4,328.9 1033.8,329.7 1034.2,330.0 1034.6,330.6 1035.0,330.8 1035.4,328.8 1035.8,333.0 1036.2,332.1 1036.6,334.8 1037.0,336.5 1037.4,336.5 1037.8,336.7 1038.2,337.7 1038.6,338.5 1039.0,338.8 1039.4,339.4 1039.8,339.7 1040.2,342.1 1040.6,341.6 1041.0,343.0 1041.4,342.5 1041.8,343.3 1042.2,343.6 1042.6,344.7 1043.0,345.5 1043.4,345.5 1043.8,345.1 1044.2,345.5 1044.6,348.2 1045.0,346.9 1045.4,347.3 1045.8,349.2 1046.2,349.0 1046.6,348.6 1047.0,347.9 1047.4,350.5 1047.8,348.8 1048.2,349.1 1048.6,348.6 1049.0,347.5 1049.4,347.7 1049.8,349.4 1050.2,349.5 1050.6,349.0 1051.0,348.3 1051.4,348.2 1051.8,349.3 1052.2,348.4 1052.6,350.6 1053.0,350.9 1053.4,352.6 1053.8,350.9 1054.2,349.7 1054.6,349.6 1055.0,347.3 1055.4,350.0 1055.8,350.5 1056.2,351.6 1056.6,351.4 1057.0,351.5 1057.4,351.3 1057.8,351.8 1058.2,352.6 1058.6,350.4 1059.0,351.0 1059.4,350.2 1059.8,352.9 1060.2,352.7 1060.6,352.2 1061.0,350.5 1061.4,351.7 1061.8,351.4 1062.2,351.7 1062.6,351.5 1063.0,352.2 1063.4,351.4 1063.8,352.5 1064.2,352.0 1064.6,351.5 1065.0,351.7 1065.4,351.4 1065.8,352.6 1066.2,351.6 1066.6,352.2 1067.0,351.6 1067.4,350.6 1067.8,352.8 1068.2,351.1 1068.6,352.7 1069.0,352.5 1069.4,350.6 1069.8,351.3 1070.2,351.7 1070.6,351.4 1071.0,351.1 1071.4,352.9 1071.8,352.0 1072.2,352.6 1072.6,351.9 1073.0,352.6 1073.4,351.7 1073.8,352.4 1074.2,352.9 1074.6,352.5 1075.0,352.0 1075.4,351.5 1075.8,352.7 1076.2,352.8 1076.6,352.3 1077.0,351.9 1077.4,353.0 1077.8,354.7 1078.2,352.2 1078.6,352.7 1079.0,352.6 1079.4,349.9 1079.8,352.3 1080.2,351.5 1080.6,353.3 1081.0,351.8 1081.4,351.2 1081.8,351.7 1082.2,351.9 1082.6,351.2 1083.0,351.6 1083.4,350.4 1083.8,351.3 1084.2,352.2 1084.6,353.2 1085.0,352.0 1085.4,351.5 1085.8,352.3 1086.2,352.0 1086.6,352.6 1087.0,352.0 1087.4,350.8 1087.8,351.1 1088.2,351.0 1088.6,351.0 1089.0,350.9 1089.4,349.9 1089.8,348.7 1090.2,349.9 1090.6,348.6 1091.0,350.4 1091.4,350.3 1091.8,348.8 1092.2,351.0 1092.6,351.2 1093.0,350.5 1093.4,352.0 1093.8,352.2 1094.2,349.4 1094.6,351.5 1095.0,351.0 1095.4,351.0 1095.8,351.5 1096.2,350.0 1096.6,350.2 1097.0,350.0 1097.4,350.1 1097.8,350.7 1098.2,349.5 1098.6,349.9 1099.0,351.4 1099.4,350.9 1099.8,351.3 1100.2,349.3 1100.6,350.3 1101.0,350.6 1101.4,351.1 1101.8,350.6 1102.2,352.0 1102.6,351.1 1103.0,351.2 1103.4,351.3 1103.8,351.9 1104.2,350.9 1104.6,352.3 1105.0,351.8 1105.4,351.5 1105.8,351.4 1106.2,351.9 1106.6,352.3 1107.0,352.3 1107.4,351.8 1107.8,352.3 1108.2,351.6 1108.6,352.6 1109.0,351.5 1109.4,349.6 1109.8,352.7 1110.2,351.6 1110.6,350.5 1111.0,351.4 1111.4,350.8 1111.8,353.5 1112.2,352.0 1112.6,350.2 1113.0,352.1 1113.4,351.3 1113.8,353.3 1114.2,350.7 1114.6,349.6 1115.0,351.7 1115.4,351.4 1115.8,351.3 1116.2,349.8 1116.6,352.1 1117.0,353.2 1117.4,350.0 1117.8,352.8 1118.2,351.2 1118.6,353.9 1119.0,352.2 1119.4,351.6 1119.8,352.8 1120.2,352.3 1120.6,351.3 1121.0,352.5 1121.4,351.4 1121.8,350.2 1122.2,353.7 1122.6,351.5 1123.0,351.3 1123.4,352.2 1123.8,350.5 1124.2,350.7 1124.6,351.4 1125.0,351.4 1125.4,351.9 1125.8,352.9 1126.2,351.4 1126.6,352.3 1127.0,352.4 1127.4,350.8 1127.8,352.0 1128.2,350.9 1128.6,352.7 1129.0,352.2 1129.4,351.8 1129.8,350.5 1130.2,351.8 1130.6,351.0 1131.0,352.4 1131.4,351.6 1131.8,351.0 1132.2,352.5 1132.6,352.3 1133.0,351.1 1133.4,352.7 1133.8,351.4 1134.2,351.4 1134.6,351.7 1135.0,350.9 1135.4,351.2 1135.8,351.4 1136.2,353.0 1136.6,352.9 1137.0,351.3 1137.4,353.0 1137.8,351.5 1138.2,351.9 1138.6,352.3 1139.0,351.8 1139.4,353.7 1139.8,351.7 1140.2,350.4 1140.6,352.6 1141.0,351.1 1141.4,351.2 1141.8,348.7 1142.2,352.3 1142.6,352.1 1143.0,352.1 1143.4,352.1 1143.8,352.7 1144.2,351.0 1144.6,351.7 1145.0,350.1 1145.4,350.3 1145.8,351.5 1146.2,350.8 1146.6,349.1 1147.0,350.5 1147.4,349.9 1147.8,349.2 1148.2,350.2 1148.6,349.3 1149.0,348.2 1149.4,348.5 1149.8,350.9 1150.2,347.9 1150.6,349.3 1151.0,349.5 1151.4,349.4 1151.8,347.6 1152.2,348.3 1152.6,348.6 1153.0,349.1 1153.4,347.7 1153.8,347.1 1154.2,348.9 1154.6,348.9 1155.0,348.0 1155.4,346.8 1155.8,347.5 1156.2,347.0 1156.6,347.4 1157.0,345.2 1157.4,346.2 1157.8,345.7 1158.2,344.6 1158.6,345.5 1159.0,345.2 1159.4,344.7 1159.8,345.6 1160.2,344.3 1160.6,345.8 1161.0,346.5 1161.4,346.7 1161.8,347.6 1162.2,345.9 1162.6,345.9 1163.0,347.7 1163.4,348.2 1163.8,350.0 1164.2,348.9 1164.6,347.9 1165.0,349.7 1165.4,348.3 1165.8,347.9 1166.2,351.6 1166.6,349.6 1167.0,350.0 1167.4,349.9 1167.8,351.1 1168.2,349.8 1168.6,350.7 1169.0,348.7 1169.4,348.5 1169.8,351.1 1170.2,351.2 1170.6,350.4 1171.0,350.2 1171.4,350.2 1171.8,349.5 1172.2,351.5 1172.6,350.8 1173.0,350.7 1173.4,350.6 1173.8,351.3 1174.2,350.9 1174.6,351.2 1175.0,349.5 1175.4,351.1 1175.8,352.6 1176.2,350.3 1176.6,350.7 1177.0,351.6 1177.4,351.8 1177.8,351.5 1178.2,349.5 1178.6,351.3 1179.0,349.6 1179.4,349.8 1179.8,350.9 1180.2,350.0 1180.6,350.8 1181.0,352.8 1181.4,350.5 1181.8,350.3 1182.2,348.7 1182.6,348.8 1183.0,348.3 1183.4,348.6 1183.8,348.0 1184.2,348.2 1184.6,348.5 1185.0,347.6 1185.4,347.1 1185.8,347.0 1186.2,348.5 1186.6,348.0 1187.0,348.7 1187.4,348.6 1187.8,347.2 1188.2,348.0 1188.6,345.9 1189.0,349.1 1189.4,348.0 1189.8,346.6 1190.2,345.5 1190.6,346.6 1191.0,344.4 1191.4,345.1 1191.8,346.2 1192.2,345.4 1192.6,344.6 1193.0,345.6 1193.4,343.6 1193.8,344.5 1194.2,343.6 1194.6,343.0 1195.0,344.0 1195.4,342.4 1195.8,344.7 1196.2,342.3 1196.6,344.3 1197.0,341.3 1197.4,342.6 1197.8,340.7 1198.2,340.3 1198.6,341.4 1199.0,341.7 1199.4,340.1 1199.8,342.7 1200.2,341.4 1200.6,342.7 1201.0,343.4 1201.4,344.1 1201.8,342.4 1202.2,346.0 1202.6,345.5 1203.0,345.1 1203.4,345.0 1203.8,344.9 1204.2,345.7 1204.6,347.9 1205.0,347.6 1205.4,347.3 1205.8,348.3 1206.2,350.7 1206.6,349.4 1207.0,349.7 1207.4,351.9 1207.8,351.5 1208.2,351.6 1208.6,351.5 1209.0,351.1 1209.4,351.9 1209.8,353.0 1210.2,353.7 1210.6,354.6 1211.0,355.3 1211.4,355.4 1211.8,355.9 1212.2,355.2 1212.6,354.7 1213.0,356.6 1213.4,356.4 1213.8,356.8 1214.2,357.2 1214.6,356.5 1215.0,356.7 1215.4,357.6 1215.8,357.9 1216.2,357.3 1216.6,358.4 1217.0,357.8 1217.4,357.2 1217.8,358.2 1218.2,360.0 1218.6,357.7 1219.0,359.5 1219.4,359.7 1219.8,359.9 1220.2,357.9 1220.6,360.6 1221.0,358.9 1221.4,358.7 1221.8,358.8 1222.2,359.6 1222.6,359.2 1223.0,359.1 1223.4,360.4 1223.8,358.7 1224.2,358.5 1224.6,360.2 1225.0,360.2 1225.4,360.5 1225.8,358.5 1226.2,360.4 1226.6,359.8 1227.0,360.9 1227.4,358.2 1227.8,359.5 1228.2,359.0 1228.6,357.7 1229.0,358.5 1229.4,360.1 1229.8,358.6 1230.2,358.3 1230.6,359.7 1231.0,359.8 1231.4,359.7 1231.8,358.1 1232.2,358.7 1232.6,359.6 1233.0,358.1 1233.4,357.9 1233.8,359.3 1234.2,359.9" fill="none" stroke="none" marker-start="url(#om)" marker-mid="url(#om)" marker-end="url(#om)"/>
<circle cx="1232" cy="352" r="6.5" fill="#fff" stroke="#3f3f3f" stroke-width="1.5"/>
<path d="M111.0 348.2 L111.8 348.0 L112.6 347.7 L113.4 347.5 L114.2 347.2 L115.0 347.0 L115.8 346.7 L116.6 346.5 L117.4 346.2 L118.2 346.0 L119.0 345.7 L119.8 345.5 L120.6 345.2 L121.4 345.0 L122.2 344.7 L123.0 344.5 L123.8 344.2 L124.6 344.0 L125.4 343.7 L126.2 343.5 L127.0 343.4 L127.8 343.2 L128.6 343.0 L129.4 342.8 L130.2 342.7 L131.0 342.5 L131.8 342.3 L132.6 342.1 L133.4 342.0 L134.2 341.8 L135.0 341.6 L135.8 341.4 L136.6 341.3 L137.4 341.1 L138.2 340.9 L139.0 340.7 L139.8 340.6 L140.6 340.4 L141.4 340.2 L142.2 340.0 L143.0 339.9 L143.8 339.7 L144.6 339.5 L145.4 339.3 L146.2 339.2 L147.0 339.0 L147.8 338.8 L148.6 338.6 L149.4 338.5 L150.2 338.3 L151.0 338.1 L151.8 337.9 L152.6 337.7 L153.4 337.5 L154.2 337.3 L155.0 337.1 L155.8 336.9 L156.6 336.7 L157.4 336.5 L158.2 336.3 L159.0 336.1 L159.8 335.9 L160.6 335.7 L161.4 335.5 L162.2 335.3 L163.0 335.1 L163.8 334.9 L164.6 334.7 L165.4 334.5 L166.2 334.3 L167.0 333.6 L167.8 332.9 L168.6 332.2 L169.4 331.4 L170.2 330.7 L171.0 329.9 L171.8 329.0 L172.6 325.8 L173.4 321.5 L174.2 317.2 L175.0 307.0 L175.8 291.0 L176.6 272.2 L177.4 250.7 L178.2 251.3 L179.0 273.8 L179.8 291.4 L180.6 304.1 L181.4 313.1 L182.2 317.0 L183.0 320.7 L183.8 323.1 L184.6 323.8 L185.4 324.4 L186.2 325.0 L187.0 325.7 L187.8 326.3 L188.6 326.9 L189.4 327.3 L190.2 327.3 L191.0 327.1 L191.8 327.0 L192.6 326.9 L193.4 326.8 L194.2 326.6 L195.0 326.5 L195.8 326.4 L196.6 326.3 L197.4 326.1 L198.2 326.0 L199.0 325.9 L199.8 325.7 L200.6 325.6 L201.4 325.5 L202.2 325.3 L203.0 324.8 L203.8 324.3 L204.6 323.8 L205.4 323.4 L206.2 322.9 L207.0 322.4 L207.8 321.9 L208.6 321.4 L209.4 320.9 L210.2 320.5 L211.0 320.0 L211.8 319.5 L212.6 319.0 L213.4 318.5 L214.2 318.1 L215.0 317.5 L215.8 316.7 L216.6 315.9 L217.4 315.1 L218.2 314.3 L219.0 313.5 L219.8 312.7 L220.6 311.9 L221.4 311.3 L222.2 311.3 L223.0 311.3 L223.8 311.3 L224.6 311.3 L225.4 311.3 L226.2 311.3 L227.0 311.3 L227.8 311.1 L228.6 310.6 L229.4 310.0 L230.2 309.5 L231.0 308.9 L231.8 308.4 L232.6 307.8 L233.4 307.2 L234.2 306.7 L235.0 306.1 L235.8 305.6 L236.6 305.0 L237.4 304.4 L238.2 303.9 L239.0 303.3 L239.8 302.8 L240.6 302.1 L241.4 301.4 L242.2 300.7 L243.0 300.0 L243.8 299.3 L244.6 298.5 L245.4 297.8 L246.2 297.1 L247.0 296.4 L247.8 295.7 L248.6 294.9 L249.4 294.2 L250.2 293.5 L251.0 292.8 L251.8 292.1 L252.6 291.3 L253.4 290.6 L254.2 289.8 L255.0 289.0 L255.8 288.2 L256.6 287.4 L257.4 286.6 L258.2 285.8 L259.0 285.0 L259.8 284.2 L260.6 283.4 L261.4 282.6 L262.2 281.8 L263.0 281.0 L263.8 280.2 L264.6 279.4 L265.4 278.6 L266.2 277.7 L267.0 276.8 L267.8 275.8 L268.6 274.9 L269.4 273.9 L270.2 272.9 L271.0 272.0 L271.8 271.0 L272.6 270.1 L273.4 269.1 L274.2 268.2 L275.0 267.2 L275.8 266.2 L276.6 265.3 L277.4 264.3 L278.2 263.4 L279.0 262.7 L279.8 262.4 L280.6 262.1 L281.4 261.8 L282.2 261.5 L283.0 261.1 L283.8 260.8 L284.6 260.5 L285.4 260.2 L286.2 259.9 L287.0 259.6 L287.8 259.2 L288.6 258.9 L289.4 258.6 L290.2 258.3 L291.0 258.0 L291.8 257.6 L292.6 257.2 L293.4 256.9 L294.2 256.5 L295.0 256.1 L295.8 255.8 L296.6 255.4 L297.4 255.0 L298.2 254.6 L299.0 254.3 L299.8 253.9 L300.6 253.5 L301.4 253.2 L302.2 252.8 L303.0 252.4 L303.8 252.0 L304.6 251.6 L305.4 251.0 L306.2 250.5 L307.0 249.9 L307.8 249.4 L308.6 248.8 L309.4 248.3 L310.2 247.6 L311.0 245.1 L311.8 241.3 L312.6 237.5 L313.4 233.7 L314.2 229.9 L315.0 226.1 L315.8 220.9 L316.6 212.6 L317.4 204.0 L318.2 195.4 L319.0 186.8 L319.8 178.0 L320.6 169.1 L321.4 160.2 L322.2 151.4 L323.0 143.3 L323.8 136.8 L324.6 139.3 L325.4 146.4 L326.2 155.4 L327.0 165.3 L327.8 175.1 L328.6 186.2 L329.4 199.9 L330.2 213.7 L331.0 226.8 L331.8 237.4 L332.6 247.5 L333.4 257.1 L334.2 261.8 L335.0 265.0 L335.8 268.3 L336.6 271.5 L337.4 274.3 L338.2 276.1 L339.0 277.7 L339.8 279.3 L340.6 280.9 L341.4 282.4 L342.2 284.0 L343.0 285.6 L343.8 287.2 L344.6 288.8 L345.4 290.0 L346.2 290.8 L347.0 291.6 L347.8 292.4 L348.6 293.2 L349.4 294.0 L350.2 294.8 L351.0 295.6 L351.8 296.4 L352.6 297.2 L353.4 298.0 L354.2 298.8 L355.0 299.5 L355.8 299.7 L356.6 299.7 L357.4 299.6 L358.2 299.5 L359.0 299.4 L359.8 299.3 L360.6 299.2 L361.4 299.1 L362.2 299.1 L363.0 299.0 L363.8 298.9 L364.6 298.8 L365.4 298.7 L366.2 298.6 L367.0 299.4 L367.8 301.0 L368.6 302.6 L369.4 304.2 L370.2 305.7 L371.0 307.3 L371.8 308.9 L372.6 310.5 L373.4 311.9 L374.2 313.0 L375.0 314.1 L375.8 315.2 L376.6 316.3 L377.4 317.4 L378.2 318.5 L379.0 319.6 L379.8 320.7 L380.6 321.8 L381.4 322.9 L382.2 324.0 L383.0 325.1 L383.8 325.8 L384.6 326.4 L385.4 326.9 L386.2 327.5 L387.0 328.0 L387.8 328.6 L388.6 329.2 L389.4 329.7 L390.2 330.3 L391.0 330.8 L391.8 331.4 L392.6 331.9 L393.4 332.5 L394.2 333.0 L395.0 333.6 L395.8 334.1 L396.6 334.5 L397.4 334.7 L398.2 334.9 L399.0 335.1 L399.8 335.3 L400.6 335.5 L401.4 335.7 L402.2 335.9 L403.0 336.1 L403.8 336.4 L404.6 336.6 L405.4 336.8 L406.2 337.0 L407.0 337.1 L407.8 336.6 L408.6 336.1 L409.4 335.5 L410.2 334.9 L411.0 334.4 L411.8 333.0 L412.6 330.6 L413.4 328.2 L414.2 325.8 L415.0 323.4 L415.8 321.9 L416.6 321.1 L417.4 320.4 L418.2 320.9 L419.0 323.2 L419.8 325.6 L420.6 328.0 L421.4 330.3 L422.2 331.7 L423.0 332.4 L423.8 333.1 L424.6 333.7 L425.4 334.4 L426.2 335.1 L427.0 335.8 L427.8 336.4 L428.6 337.1 L429.4 337.1 L430.2 335.0 L431.0 332.7 L431.8 330.3 L432.6 328.0 L433.4 326.9 L434.2 328.6 L435.0 330.5 L435.8 332.4 L436.6 334.3 L437.4 336.4 L438.2 338.8 L439.0 341.2 L439.8 343.6 L440.6 345.9 L441.4 346.9 L442.2 347.3 L443.0 347.7 L443.8 348.1 L444.6 348.5 L445.4 348.9 L446.2 349.3 L447.0 349.7 L447.8 350.1 L448.6 350.5 L449.4 350.9 L450.2 351.3 L451.0 351.7 L451.8 351.7 L452.6 351.7 L453.4 351.7 L454.2 351.7 L455.0 351.7 L455.8 351.6 L456.6 350.5 L457.4 348.5 L458.2 346.6 L459.0 346.1 L459.8 347.6 L460.6 349.2 L461.4 350.8 L462.2 352.4 L463.0 353.0 L463.8 353.1 L464.6 353.2 L465.4 353.3 L466.2 353.3 L467.0 353.4 L467.8 353.5 L468.6 353.6 L469.4 353.6 L470.2 353.7 L471.0 353.8 L471.8 353.9 L472.6 353.9 L473.4 354.0 L474.2 354.1 L475.0 354.2 L475.8 354.2 L476.6 354.3 L477.4 354.3 L478.2 354.2 L479.0 354.2 L479.8 354.1 L480.6 354.1 L481.4 354.1 L482.2 354.0 L483.0 354.0 L483.8 353.9 L484.6 353.9 L485.4 353.8 L486.2 353.8 L487.0 353.8 L487.8 353.7 L488.6 353.7 L489.4 353.6 L490.2 353.6 L491.0 353.6 L491.8 353.5 L492.6 353.5 L493.4 353.4 L494.2 353.4 L495.0 353.4 L495.8 353.3 L496.6 353.3 L497.4 353.2 L498.2 353.2 L499.0 353.2 L499.8 353.1 L500.6 353.1 L501.4 353.0 L502.2 352.9 L503.0 352.7 L503.8 352.5 L504.6 352.3 L505.4 352.1 L506.2 351.8 L507.0 351.6 L507.8 351.4 L508.6 351.2 L509.4 350.9 L510.2 350.7 L511.0 350.3 L511.8 348.4 L512.6 346.2 L513.4 344.1 L514.2 341.9 L515.0 339.7 L515.8 337.4 L516.6 335.0 L517.4 332.6 L518.2 330.3 L519.0 328.7 L519.8 328.2 L520.6 327.8 L521.4 327.4 L522.2 327.0 L523.0 326.6 L523.8 324.6 L524.6 312.7 L525.4 299.3 L526.2 284.8 L527.0 263.5 L527.8 240.0 L528.6 216.3 L529.4 190.7 L530.2 163.6 L531.0 139.5 L531.8 122.5 L532.6 134.3 L533.4 155.9 L534.2 178.8 L535.0 202.2 L535.8 229.5 L536.6 258.6 L537.4 285.8 L538.2 307.1 L539.0 325.8 L539.8 332.8 L540.6 336.1 L541.4 339.3 L542.2 342.6 L543.0 345.2 L543.8 346.1 L544.6 346.7 L545.4 347.3 L546.2 347.9 L547.0 348.5 L547.8 349.1 L548.6 349.6 L549.4 350.2 L550.2 350.8 L551.0 351.4 L551.8 352.0 L552.6 352.6 L553.4 353.0 L554.2 353.0 L555.0 353.0 L555.8 353.1 L556.6 353.1 L557.4 353.1 L558.2 353.1 L559.0 353.1 L559.8 353.1 L560.6 353.1 L561.4 353.2 L562.2 353.2 L563.0 353.2 L563.8 353.2 L564.6 353.2 L565.4 353.2 L566.2 353.3 L567.0 353.3 L567.8 353.3 L568.6 353.3 L569.4 353.3 L570.2 353.3 L571.0 353.4 L571.8 353.4 L572.6 353.4 L573.4 353.4 L574.2 353.4 L575.0 353.4 L575.8 353.4 L576.6 353.5 L577.4 353.5 L578.2 353.5 L579.0 353.5 L579.8 353.4 L580.6 353.3 L581.4 353.2 L582.2 353.1 L583.0 353.0 L583.8 352.9 L584.6 352.8 L585.4 352.7 L586.2 352.6 L587.0 352.5 L587.8 352.4 L588.6 352.3 L589.4 352.2 L590.2 352.1 L591.0 352.0 L591.8 351.9 L592.6 351.9 L593.4 351.8 L594.2 351.4 L595.0 350.8 L595.8 350.2 L596.6 349.5 L597.4 348.9 L598.2 348.3 L599.0 347.6 L599.8 347.0 L600.6 346.5 L601.4 346.3 L602.2 346.2 L603.0 346.0 L603.8 345.8 L604.6 345.6 L605.4 345.5 L606.2 346.2 L607.0 347.0 L607.8 347.8 L608.6 348.6 L609.4 349.3 L610.2 350.1 L611.0 350.9 L611.8 351.7 L612.6 352.5 L613.4 353.0 L614.2 353.1 L615.0 353.2 L615.8 353.3 L616.6 353.4 L617.4 353.5 L618.2 353.6 L619.0 353.7 L619.8 353.8 L620.6 353.9 L621.4 354.0 L622.2 354.1 L623.0 354.2 L623.8 354.3 L624.6 354.4 L625.4 354.5 L626.2 354.6 L627.0 354.7 L627.8 354.8 L628.6 354.9 L629.4 355.0 L630.2 355.0 L631.0 355.0 L631.8 354.9 L632.6 354.9 L633.4 354.9 L634.2 354.9 L635.0 354.9 L635.8 354.8 L636.6 354.8 L637.4 354.8 L638.2 354.8 L639.0 354.7 L639.8 354.7 L640.6 354.7 L641.4 354.7 L642.2 354.7 L643.0 354.6 L643.8 354.6 L644.6 354.6 L645.4 354.6 L646.2 354.5 L647.0 354.5 L647.8 354.5 L648.6 354.5 L649.4 354.5 L650.2 354.4 L651.0 354.4 L651.8 354.4 L652.6 354.4 L653.4 354.3 L654.2 354.3 L655.0 354.3 L655.8 354.2 L656.6 354.1 L657.4 354.0 L658.2 353.9 L659.0 353.7 L659.8 353.6 L660.6 353.5 L661.4 353.4 L662.2 353.3 L663.0 353.1 L663.8 353.0 L664.6 352.9 L665.4 352.8 L666.2 352.7 L667.0 352.5 L667.8 352.4 L668.6 352.3 L669.4 352.2 L670.2 352.1 L671.0 351.9 L671.8 351.8 L672.6 351.7 L673.4 351.6 L674.2 351.5 L675.0 351.3 L675.8 351.2 L676.6 351.1 L677.4 351.0 L678.2 350.9 L679.0 350.8 L679.8 350.6 L680.6 350.5 L681.4 350.3 L682.2 350.1 L683.0 349.9 L683.8 349.7 L684.6 349.5 L685.4 349.4 L686.2 349.2 L687.0 349.0 L687.8 348.8 L688.6 348.6 L689.4 348.4 L690.2 348.2 L691.0 348.0 L691.8 347.8 L692.6 347.6 L693.4 347.4 L694.2 347.0 L695.0 346.6 L695.8 346.2 L696.6 345.8 L697.4 345.4 L698.2 345.0 L699.0 344.6 L699.8 344.2 L700.6 343.8 L701.4 343.4 L702.2 342.8 L703.0 341.5 L703.8 339.9 L704.6 338.3 L705.4 336.7 L706.2 335.1 L707.0 333.5 L707.8 331.9 L708.6 330.3 L709.4 327.5 L710.2 323.5 L711.0 319.5 L711.8 315.5 L712.6 311.5 L713.4 307.7 L714.2 303.9 L715.0 303.8 L715.8 307.5 L716.6 311.2 L717.4 316.0 L718.2 321.3 L719.0 326.3 L719.8 329.0 L720.6 330.9 L721.4 332.8 L722.2 334.7 L723.0 336.6 L723.8 338.5 L724.6 340.3 L725.4 341.0 L726.2 341.4 L727.0 341.8 L727.8 342.2 L728.6 342.6 L729.4 343.0 L730.2 343.4 L731.0 343.8 L731.8 344.2 L732.6 344.6 L733.4 345.0 L734.2 345.4 L735.0 345.8 L735.8 346.2 L736.6 346.2 L737.4 346.2 L738.2 346.2 L739.0 346.2 L739.8 346.2 L740.6 346.2 L741.4 346.2 L742.2 346.2 L743.0 346.2 L743.8 346.2 L744.6 346.2 L745.4 346.2 L746.2 346.2 L747.0 346.2 L747.8 346.2 L748.6 346.2 L749.4 346.2 L750.2 346.2 L751.0 346.2 L751.8 346.2 L752.6 346.2 L753.4 346.2 L754.2 346.0 L755.0 345.7 L755.8 345.4 L756.6 345.1 L757.4 344.8 L758.2 344.5 L759.0 344.2 L759.8 343.9 L760.6 343.6 L761.4 343.3 L762.2 343.0 L763.0 341.9 L763.8 340.0 L764.6 338.1 L765.4 336.2 L766.2 334.3 L767.0 332.4 L767.8 330.5 L768.6 329.1 L769.4 328.3 L770.2 327.4 L771.0 326.6 L771.8 326.4 L772.6 326.9 L773.4 327.5 L774.2 328.1 L775.0 328.7 L775.8 329.3 L776.6 329.3 L777.4 329.1 L778.2 328.9 L779.0 328.7 L779.8 328.4 L780.6 328.2 L781.4 328.0 L782.2 327.8 L783.0 327.5 L783.8 327.1 L784.6 325.7 L785.4 324.1 L786.2 322.5 L787.0 320.9 L787.8 319.3 L788.6 317.7 L789.4 315.4 L790.2 308.5 L791.0 300.9 L791.8 293.3 L792.6 285.6 L793.4 277.1 L794.2 268.3 L795.0 260.6 L795.8 260.6 L796.6 268.0 L797.4 275.9 L798.2 283.9 L799.0 292.2 L799.8 300.6 L800.6 309.0 L801.4 317.2 L802.2 321.8 L803.0 323.7 L803.8 325.6 L804.6 327.5 L805.4 329.5 L806.2 331.4 L807.0 333.2 L807.8 334.0 L808.6 334.0 L809.4 334.0 L810.2 334.0 L811.0 334.0 L811.8 334.0 L812.6 334.0 L813.4 334.0 L814.2 334.0 L815.0 334.0 L815.8 334.0 L816.6 333.4 L817.4 332.3 L818.2 331.2 L819.0 330.0 L819.8 328.9 L820.6 327.8 L821.4 326.7 L822.2 325.6 L823.0 324.7 L823.8 323.8 L824.6 322.9 L825.4 322.9 L826.2 324.3 L827.0 325.8 L827.8 327.3 L828.6 328.8 L829.4 330.2 L830.2 331.0 L831.0 331.5 L831.8 332.1 L832.6 332.6 L833.4 333.2 L834.2 333.7 L835.0 334.2 L835.8 334.8 L836.6 335.0 L837.4 334.9 L838.2 334.8 L839.0 334.7 L839.8 334.5 L840.6 334.4 L841.4 334.3 L842.2 334.1 L843.0 334.1 L843.8 334.7 L844.6 335.3 L845.4 336.0 L846.2 336.6 L847.0 337.3 L847.8 337.9 L848.6 338.6 L849.4 339.2 L850.2 339.7 L851.0 340.0 L851.8 340.3 L852.6 340.6 L853.4 340.9 L854.2 341.2 L855.0 341.5 L855.8 341.8 L856.6 342.1 L857.4 342.4 L858.2 342.7 L859.0 342.8 L859.8 342.7 L860.6 342.6 L861.4 342.4 L862.2 342.3 L863.0 342.2 L863.8 342.0 L864.6 341.9 L865.4 341.9 L866.2 342.0 L867.0 342.2 L867.8 342.4 L868.6 342.6 L869.4 342.8 L870.2 343.0 L871.0 343.2 L871.8 343.4 L872.6 343.6 L873.4 343.8 L874.2 344.0 L875.0 344.1 L875.8 344.2 L876.6 344.3 L877.4 344.4 L878.2 344.5 L879.0 344.6 L879.8 344.7 L880.6 344.8 L881.4 344.9 L882.2 345.0 L883.0 345.1 L883.8 345.2 L884.6 345.3 L885.4 345.4 L886.2 345.5 L887.0 345.6 L887.8 345.7 L888.6 345.8 L889.4 345.9 L890.2 346.0 L891.0 346.1 L891.8 346.2 L892.6 346.3 L893.4 346.3 L894.2 346.4 L895.0 346.5 L895.8 346.6 L896.6 346.7 L897.4 346.7 L898.2 346.8 L899.0 346.9 L899.8 347.0 L900.6 347.1 L901.4 347.2 L902.2 347.2 L903.0 347.3 L903.8 347.4 L904.6 347.5 L905.4 347.6 L906.2 347.7 L907.0 347.7 L907.8 347.8 L908.6 347.9 L909.4 348.0 L910.2 348.1 L911.0 348.1 L911.8 348.2 L912.6 348.3 L913.4 348.4 L914.2 348.5 L915.0 348.4 L915.8 348.4 L916.6 348.3 L917.4 348.2 L918.2 348.1 L919.0 348.0 L919.8 347.9 L920.6 347.9 L921.4 347.8 L922.2 347.7 L923.0 347.6 L923.8 347.5 L924.6 347.5 L925.4 347.4 L926.2 347.3 L927.0 347.2 L927.8 347.1 L928.6 347.0 L929.4 347.0 L930.2 346.9 L931.0 346.8 L931.8 346.7 L932.6 346.6 L933.4 346.5 L934.2 346.5 L935.0 346.4 L935.8 346.3 L936.6 346.2 L937.4 346.2 L938.2 346.3 L939.0 346.4 L939.8 346.4 L940.6 346.5 L941.4 346.5 L942.2 346.6 L943.0 346.7 L943.8 346.7 L944.6 346.8 L945.4 346.8 L946.2 346.9 L947.0 346.9 L947.8 347.0 L948.6 347.1 L949.4 347.1 L950.2 347.2 L951.0 347.2 L951.8 347.3 L952.6 347.4 L953.4 347.4 L954.2 347.5 L955.0 347.5 L955.8 347.6 L956.6 347.7 L957.4 347.7 L958.2 347.8 L959.0 347.8 L959.8 347.9 L960.6 347.8 L961.4 347.7 L962.2 347.5 L963.0 347.4 L963.8 347.3 L964.6 347.1 L965.4 347.0 L966.2 346.9 L967.0 346.8 L967.8 346.6 L968.6 346.5 L969.4 346.4 L970.2 346.2 L971.0 346.1 L971.8 346.0 L972.6 345.8 L973.4 345.7 L974.2 345.5 L975.0 344.8 L975.8 344.2 L976.6 343.5 L977.4 342.8 L978.2 342.1 L979.0 341.5 L979.8 340.8 L980.6 340.1 L981.4 339.5 L982.2 338.8 L983.0 338.1 L983.8 337.4 L984.6 336.8 L985.4 336.5 L986.2 337.4 L987.0 338.5 L987.8 339.6 L988.6 340.6 L989.4 341.7 L990.2 342.8 L991.0 343.5 L991.8 344.1 L992.6 344.6 L993.4 345.1 L994.2 345.7 L995.0 346.2 L995.8 346.8 L996.6 347.3 L997.4 347.8 L998.2 347.8 L999.0 347.7 L999.8 347.6 L1000.6 347.5 L1001.4 347.4 L1002.2 347.3 L1003.0 347.3 L1003.8 347.2 L1004.6 347.1 L1005.4 347.0 L1006.2 346.9 L1007.0 346.7 L1007.8 346.2 L1008.6 345.8 L1009.4 345.3 L1010.2 344.8 L1011.0 344.3 L1011.8 344.1 L1012.6 344.5 L1013.4 344.9 L1014.2 345.4 L1015.0 345.8 L1015.8 346.3 L1016.6 346.8 L1017.4 347.2 L1018.2 347.7 L1019.0 347.7 L1019.8 347.4 L1020.6 347.1 L1021.4 346.8 L1022.2 346.5 L1023.0 346.2 L1023.8 345.9 L1024.6 345.3 L1025.4 344.0 L1026.2 342.5 L1027.0 341.0 L1027.8 339.6 L1028.6 338.1 L1029.4 336.6 L1030.2 335.3 L1031.0 334.5 L1031.8 333.8 L1032.6 333.2 L1033.4 332.6 L1034.2 332.7 L1035.0 334.0 L1035.8 335.3 L1036.6 336.6 L1037.4 337.9 L1038.2 339.2 L1039.0 340.3 L1039.8 341.2 L1040.6 342.1 L1041.4 343.0 L1042.2 344.0 L1043.0 344.9 L1043.8 345.8 L1044.6 346.7 L1045.4 347.6 L1046.2 348.1 L1047.0 348.3 L1047.8 348.5 L1048.6 348.7 L1049.4 348.9 L1050.2 349.1 L1051.0 349.4 L1051.8 349.6 L1052.6 349.8 L1053.4 350.0 L1054.2 350.2 L1055.0 350.5 L1055.8 350.7 L1056.6 350.9 L1057.4 351.1 L1058.2 351.3 L1059.0 351.4 L1059.8 351.5 L1060.6 351.5 L1061.4 351.6 L1062.2 351.6 L1063.0 351.7 L1063.8 351.7 L1064.6 351.8 L1065.4 351.8 L1066.2 351.9 L1067.0 351.9 L1067.8 352.0 L1068.6 352.0 L1069.4 352.1 L1070.2 352.2 L1071.0 352.2 L1071.8 352.3 L1072.6 352.3 L1073.4 352.4 L1074.2 352.4 L1075.0 352.5 L1075.8 352.5 L1076.6 352.6 L1077.4 352.6 L1078.2 352.4 L1079.0 352.3 L1079.8 352.2 L1080.6 352.0 L1081.4 351.9 L1082.2 351.8 L1083.0 351.7 L1083.8 351.5 L1084.6 351.4 L1085.4 351.3 L1086.2 351.1 L1087.0 351.0 L1087.8 350.9 L1088.6 350.7 L1089.4 350.6 L1090.2 350.5 L1091.0 350.4 L1091.8 350.3 L1092.6 350.4 L1093.4 350.5 L1094.2 350.5 L1095.0 350.6 L1095.8 350.7 L1096.6 350.7 L1097.4 350.8 L1098.2 350.8 L1099.0 350.9 L1099.8 351.0 L1100.6 351.0 L1101.4 351.1 L1102.2 351.2 L1103.0 351.2 L1103.8 351.3 L1104.6 351.3 L1105.4 351.4 L1106.2 351.4 L1107.0 351.4 L1107.8 351.5 L1108.6 351.5 L1109.4 351.5 L1110.2 351.5 L1111.0 351.5 L1111.8 351.6 L1112.6 351.6 L1113.4 351.6 L1114.2 351.6 L1115.0 351.7 L1115.8 351.7 L1116.6 351.7 L1117.4 351.7 L1118.2 351.7 L1119.0 351.8 L1119.8 351.8 L1120.6 351.8 L1121.4 351.8 L1122.2 351.8 L1123.0 351.9 L1123.8 351.9 L1124.6 351.9 L1125.4 351.9 L1126.2 351.8 L1127.0 351.8 L1127.8 351.8 L1128.6 351.8 L1129.4 351.8 L1130.2 351.7 L1131.0 351.7 L1131.8 351.7 L1132.6 351.7 L1133.4 351.7 L1134.2 351.6 L1135.0 351.6 L1135.8 351.6 L1136.6 351.6 L1137.4 351.5 L1138.2 351.5 L1139.0 351.5 L1139.8 351.5 L1140.6 351.5 L1141.4 351.4 L1142.2 351.4 L1143.0 351.3 L1143.8 351.1 L1144.6 350.9 L1145.4 350.7 L1146.2 350.4 L1147.0 350.2 L1147.8 349.9 L1148.6 349.7 L1149.4 349.5 L1150.2 349.2 L1151.0 349.0 L1151.8 348.7 L1152.6 348.5 L1153.4 348.3 L1154.2 348.0 L1155.0 347.6 L1155.8 347.1 L1156.6 346.6 L1157.4 346.1 L1158.2 345.6 L1159.0 345.1 L1159.8 345.3 L1160.6 345.8 L1161.4 346.4 L1162.2 347.0 L1163.0 347.5 L1163.8 348.1 L1164.6 348.7 L1165.4 349.1 L1166.2 349.2 L1167.0 349.4 L1167.8 349.5 L1168.6 349.6 L1169.4 349.7 L1170.2 349.8 L1171.0 350.0 L1171.8 350.1 L1172.6 350.2 L1173.4 350.3 L1174.2 350.4 L1175.0 350.5 L1175.8 350.7 L1176.6 350.8 L1177.4 350.9 L1178.2 350.9 L1179.0 350.7 L1179.8 350.4 L1180.6 350.1 L1181.4 349.8 L1182.2 349.5 L1183.0 349.2 L1183.8 349.0 L1184.6 348.7 L1185.4 348.4 L1186.2 348.1 L1187.0 347.8 L1187.8 347.5 L1188.6 347.2 L1189.4 346.9 L1190.2 346.5 L1191.0 346.0 L1191.8 345.5 L1192.6 345.0 L1193.4 344.5 L1194.2 344.0 L1195.0 343.5 L1195.8 343.0 L1196.6 342.5 L1197.4 342.0 L1198.2 341.5 L1199.0 341.1 L1199.8 341.6 L1200.6 342.6 L1201.4 343.6 L1202.2 344.5 L1203.0 345.5 L1203.8 346.5 L1204.6 347.4 L1205.4 348.4 L1206.2 349.3 L1207.0 350.2 L1207.8 351.1 L1208.6 352.0 L1209.4 352.9 L1210.2 353.9 L1211.0 354.8 L1211.8 355.7 L1212.6 356.6 L1213.4 357.3 L1214.2 357.5 L1215.0 357.7 L1215.8 357.8 L1216.6 358.0 L1217.4 358.1 L1218.2 358.3 L1219.0 358.4 L1219.8 358.6 L1220.6 358.7 L1221.4 358.9 L1222.2 359.1 L1223.0 359.2 L1223.8 359.4 L1224.6 359.5 L1225.4 359.6 L1226.2 359.5 L1227.0 359.4 L1227.8 359.3 L1228.6 359.2 L1229.4 359.1 L1230.2 359.0 L1231.0 358.9 L1231.8 358.8 L1232.6 358.7 L1233.4 358.6 L1234.2 358.5" fill="none" stroke="#ee3b40" stroke-width="4" stroke-linejoin="round"/>
</g>
<path d="M144.5 374.2V394.6M181.2 374.2V394.6M295.5 374.2V394.6M363.3 374.2V394.6M383.3 374.2V394.6M458.5 374.2V394.6M509.7 374.2V394.6M525.5 374.2V394.6M587.6 374.2V394.6M630.6 374.2V394.6M697.6 374.2V394.6M736.4 374.2V394.6M748.5 374.2V394.6M797.6 374.2V394.6M832.5 374.2V394.6M844.2 374.2V394.6M889.6 374.2V394.6M922.5 374.2V394.6M933.5 374.2V394.6M976.5 374.2V394.6M1008.3 374.2V394.6M1060.6 374.2V394.6M1090.7 374.2V394.6" stroke="#f08228" stroke-width="2.4" fill="none"/>
<path d="M177.9 411.2V435.6M188.2 411.2V435.6M222.1 411.2V435.6M337.9 411.2V435.6M348.8 411.2V435.6M362.7 411.2V435.6M417.6 411.2V435.6M420.3 411.2V435.6M425.8 411.2V435.6M433.6 411.2V435.6M437.0 411.2V435.6M457.9 411.2V435.6M527.9 411.2V435.6M531.5 411.2V435.6M570.3 411.2V435.6M580.9 411.2V435.6M593.0 411.2V435.6M603.3 411.2V435.6M605.8 411.2V435.6M607.3 411.2V435.6M659.1 411.2V435.6M663.9 411.2V435.6M679.1 411.2V435.6M689.1 411.2V435.6M705.2 411.2V435.6M713.0 411.2V435.6M715.2 411.2V435.6M717.3 411.2V435.6M719.7 411.2V435.6M731.2 411.2V435.6M736.7 411.2V435.6M770.9 411.2V435.6M794.8 411.2V435.6M816.1 411.2V435.6M823.8 411.2V435.6M826.6 411.2V435.6M828.3 411.2V435.6M830.4 411.2V435.6M838.7 411.2V435.6M840.8 411.2V435.6M844.6 411.2V435.6M848.0 411.2V435.6M864.0 411.2V435.6M878.8 411.2V435.6M889.9 411.2V435.6M902.0 411.2V435.6M907.6 411.2V435.6M923.8 411.2V435.6M926.3 411.2V435.6M928.0 411.2V435.6M930.1 411.2V435.6M941.8 411.2V435.6M948.8 411.2V435.6M957.1 411.2V435.6M960.9 411.2V435.6M968.8 411.2V435.6M977.5 411.2V435.6M984.8 411.2V435.6M1012.5 411.2V435.6M1031.8 411.2V435.6M1036.3 411.2V435.6M1038.1 411.2V435.6M1039.5 411.2V435.6M1041.9 411.2V435.6M1050.9 411.2V435.6M1054.0 411.2V435.6M1056.1 411.2V435.6M1058.1 411.2V435.6M1073.7 411.2V435.6M1082.4 411.2V435.6M1089.0 411.2V435.6M1092.1 411.2V435.6M1107.3 411.2V435.6M1113.5 411.2V435.6M1118.4 411.2V435.6M1121.8 411.2V435.6M1131.5 411.2V435.6M1139.5 411.2V435.6M1150.6 411.2V435.6M1159.9 411.2V435.6M1171.0 411.2V435.6M1174.8 411.2V435.6M1190.7 411.2V435.6M1199.0 411.2V435.6M1205.3 411.2V435.6M1211.5 411.2V435.6M1214.6 411.2V435.6M1217.4 411.2V435.6M1220.5 411.2V435.6" stroke="#f4684a" stroke-width="1.55" fill="none"/>
<path d="M180.0 442.5V468M344.8 442.5V468M418.8 442.5V468M441.8 442.5V468M523.9 442.5V468M580.0 442.5V468M665.2 442.5V468M712.1 442.5V468M786.1 442.5V468M828.3 442.5V468M841.8 442.5V468M895.1 442.5V468M933.9 442.5V468M946.7 442.5V468M995.8 442.5V468M1032.9 442.5V468M1091.0 442.5V468M1126.0 442.5V468M1182.8 442.5V468M1216.3 442.5V468M1227.1 442.5V468" stroke="#0f8282" stroke-width="3.2" fill="none"/>
<path d="M434.8 471.3V497.3M516.7 471.3V497.3M775.2 471.3V497.3M933.9 471.3V497.3M983.0 471.3V497.3M1166.8 471.3V497.3" stroke="#9b33ff" stroke-width="3.2" fill="none"/>
<path d="M111.0 506.0 L111.5 503.8 L112.1 505.5 L112.6 506.1 L113.2 507.3 L113.7 508.4 L114.3 507.3 L114.8 506.4 L115.4 507.7 L115.9 506.0 L116.5 507.3 L117.0 506.4 L117.6 511.4 L118.1 508.6 L118.7 506.2 L119.2 505.9 L119.8 506.8 L120.3 505.0 L120.9 506.4 L121.4 506.4 L122.0 508.9 L122.5 507.0 L123.1 506.5 L123.6 505.7 L124.2 506.0 L124.7 507.7 L125.3 507.6 L125.8 509.7 L126.4 507.1 L126.9 509.7 L127.5 508.6 L128.0 508.3 L128.6 505.3 L129.1 506.5 L129.7 509.6 L130.2 510.7 L130.8 509.0 L131.3 509.9 L131.9 508.2 L132.4 508.4 L133.0 508.0 L133.5 510.6 L134.1 509.7 L134.6 508.9 L135.2 508.8 L135.7 510.2 L136.3 510.0 L136.8 508.3 L137.4 512.2 L137.9 510.0 L138.5 509.7 L139.0 512.0 L139.6 511.3 L140.1 509.7 L140.7 510.7 L141.2 508.3 L141.8 509.0 L142.3 506.6 L142.9 511.8 L143.4 507.2 L144.0 511.1 L144.5 508.8 L145.1 508.6 L145.6 509.8 L146.2 510.4 L146.7 511.0 L147.3 512.7 L147.8 510.5 L148.4 511.3 L148.9 509.1 L149.5 511.0 L150.0 510.2 L150.6 509.2 L151.1 509.7 L151.7 509.7 L152.2 510.1 L152.8 510.4 L153.3 509.0 L153.9 508.6 L154.4 510.8 L155.0 507.1 L155.5 508.7 L156.1 511.9 L156.6 505.5 L157.2 508.5 L157.7 510.5 L158.3 507.0 L158.8 513.3 L159.4 505.5 L159.9 511.6 L160.5 511.7 L161.0 510.8 L161.6 509.1 L162.1 509.9 L162.7 508.0 L163.2 510.6 L163.8 507.7 L164.3 509.0 L164.9 510.9 L165.4 507.8 L166.0 508.9 L166.5 509.8 L167.1 507.5 L167.6 511.3 L168.2 510.1 L168.7 507.4 L169.3 509.6 L169.8 508.4 L170.4 508.4 L170.9 509.0 L171.5 506.8 L172.0 507.7 L172.6 503.1 L173.1 503.2 L173.7 499.5 L174.2 499.7 L174.8 497.9 L175.3 500.2 L175.9 504.2 L176.4 515.4 L177.0 525.8 L177.5 532.6 L178.1 526.3 L178.6 512.2 L179.2 499.6 L179.7 496.2 L180.3 499.0 L180.8 507.4 L181.4 511.2 L181.9 510.9 L182.5 512.2 L183.0 516.2 L183.6 515.4 L184.1 515.4 L184.7 518.2 L185.2 516.4 L185.8 516.8 L186.3 516.5 L186.9 513.9 L187.4 517.6 L188.0 513.8 L188.5 513.9 L189.1 512.9 L189.6 514.3 L190.2 512.5 L190.7 512.1 L191.3 509.2 L191.8 511.3 L192.4 509.0 L192.9 511.5 L193.5 511.5 L194.0 510.8 L194.6 513.8 L195.1 511.5 L195.7 511.5 L196.2 510.8 L196.8 510.2 L197.3 511.8 L197.9 512.0 L198.4 508.3 L199.0 511.7 L199.5 510.8 L200.1 511.4 L200.6 510.6 L201.2 508.0 L201.7 508.0 L202.3 512.4 L202.8 510.0 L203.4 507.4 L203.9 510.0 L204.5 508.8 L205.0 506.5 L205.6 505.8 L206.1 506.8 L206.7 509.5 L207.2 509.0 L207.8 508.6 L208.3 509.4 L208.9 509.8 L209.4 505.7 L210.0 508.4 L210.5 507.6 L211.1 506.9 L211.6 508.0 L212.2 508.6 L212.7 508.3 L213.3 506.6 L213.8 508.0 L214.4 511.8 L214.9 507.2 L215.5 506.2 L216.0 509.2 L216.6 509.8 L217.1 509.7 L217.7 507.5 L218.2 511.0 L218.8 508.8 L219.3 508.8 L219.9 510.3 L220.4 511.7 L221.0 513.6 L221.5 513.8 L222.1 513.0 L222.6 514.3 L223.2 512.6 L223.7 513.2 L224.3 509.1 L224.8 508.3 L225.4 511.3 L225.9 507.7 L226.5 509.1 L227.0 509.3 L227.6 508.7 L228.1 508.7 L228.7 511.4 L229.2 505.6 L229.8 510.7 L230.3 512.8 L230.9 509.4 L231.4 509.3 L232.0 510.4 L232.5 512.1 L233.1 507.5 L233.6 509.4 L234.2 509.0 L234.7 510.1 L235.3 509.4 L235.8 510.2 L236.4 508.5 L236.9 509.2 L237.5 508.0 L238.0 508.0 L238.6 508.7 L239.1 508.7 L239.7 507.1 L240.2 511.1 L240.8 508.5 L241.3 506.6 L241.9 510.2 L242.4 507.4 L243.0 509.2 L243.5 508.3 L244.1 508.7 L244.6 508.5 L245.2 507.3 L245.7 508.1 L246.3 511.1 L246.8 504.6 L247.4 508.0 L247.9 508.5 L248.5 506.2 L249.0 505.6 L249.6 510.9 L250.1 507.0 L250.7 510.7 L251.2 508.3 L251.8 507.6 L252.3 508.1 L252.9 508.3 L253.4 509.1 L254.0 508.0 L254.5 507.5 L255.1 507.6 L255.6 509.3 L256.2 508.5 L256.7 505.8 L257.3 506.4 L257.8 507.8 L258.4 506.4 L258.9 506.8 L259.5 506.0 L260.0 507.1 L260.6 508.1 L261.1 509.0 L261.7 507.6 L262.2 510.8 L262.8 507.6 L263.3 512.5 L263.9 509.3 L264.4 508.6 L265.0 507.2 L265.5 503.8 L266.1 507.9 L266.6 508.4 L267.2 511.1 L267.7 506.3 L268.3 511.3 L268.8 508.1 L269.4 509.6 L269.9 504.8 L270.5 508.9 L271.0 508.3 L271.6 509.9 L272.1 509.1 L272.7 507.3 L273.2 510.5 L273.8 510.2 L274.3 510.1 L274.9 510.8 L275.4 511.0 L276.0 509.3 L276.5 507.4 L277.1 507.4 L277.6 511.5 L278.2 510.6 L278.7 509.7 L279.3 509.0 L279.8 509.7 L280.4 509.7 L280.9 509.2 L281.5 508.6 L282.0 512.9 L282.6 510.0 L283.1 508.8 L283.7 507.7 L284.2 508.6 L284.8 510.7 L285.3 510.8 L285.9 509.3 L286.4 509.7 L287.0 509.1 L287.5 507.9 L288.1 511.5 L288.6 510.1 L289.2 513.2 L289.7 508.3 L290.3 509.2 L290.8 510.7 L291.4 509.0 L291.9 507.2 L292.5 507.9 L293.0 509.4 L293.6 509.8 L294.1 509.1 L294.7 510.7 L295.2 510.7 L295.8 509.6 L296.3 509.2 L296.9 508.7 L297.4 509.9 L298.0 510.5 L298.5 509.2 L299.1 509.8 L299.6 508.6 L300.2 507.0 L300.7 507.6 L301.3 510.3 L301.8 509.8 L302.4 511.5 L302.9 509.3 L303.5 510.5 L304.0 511.2 L304.6 510.8 L305.1 511.1 L305.7 514.3 L306.2 509.1 L306.8 508.6 L307.3 510.1 L307.9 503.4 L308.4 505.8 L309.0 512.7 L309.5 510.7 L310.1 508.3 L310.6 512.1 L311.2 511.8 L311.7 509.8 L312.3 513.3 L312.8 516.6 L313.4 512.2 L313.9 509.0 L314.5 513.3 L315.0 508.0 L315.6 509.6 L316.1 509.6 L316.7 511.0 L317.2 513.1 L317.8 515.1 L318.3 514.7 L318.9 513.5 L319.4 509.6 L320.0 511.0 L320.5 514.0 L321.1 511.6 L321.6 516.5 L322.2 511.4 L322.7 513.9 L323.3 513.7 L323.8 512.5 L324.4 510.2 L324.9 508.6 L325.5 514.0 L326.0 513.2 L326.6 513.4 L327.1 513.4 L327.7 516.0 L328.2 511.7 L328.8 514.5 L329.3 505.3 L329.9 509.8 L330.4 510.1 L331.0 510.5 L331.5 513.8 L332.1 513.9 L332.6 512.7 L333.2 512.4 L333.7 512.1 L334.3 515.2 L334.8 509.7 L335.4 513.2 L335.9 511.2 L336.5 510.2 L337.0 509.0 L337.6 509.7 L338.1 508.6 L338.7 510.2 L339.2 510.4 L339.8 506.9 L340.3 509.9 L340.9 510.8 L341.4 510.0 L342.0 508.2 L342.5 511.5 L343.1 508.5 L343.6 507.6 L344.2 507.8 L344.7 509.4 L345.3 510.8 L345.8 511.0 L346.4 509.6 L346.9 507.4 L347.5 508.2 L348.0 507.8 L348.6 508.9 L349.1 506.5 L349.7 509.3 L350.2 510.1 L350.8 508.9 L351.3 509.8 L351.9 507.7 L352.4 506.9 L353.0 508.1 L353.5 510.8 L354.1 510.7 L354.6 508.5 L355.2 511.0 L355.7 508.7 L356.3 511.5 L356.8 510.0 L357.4 508.6 L357.9 510.5 L358.5 508.2 L359.0 507.9 L359.6 507.2 L360.1 509.8 L360.7 509.4 L361.2 509.4 L361.8 508.9 L362.3 511.7 L362.9 508.9 L363.4 508.5 L364.0 511.5 L364.5 511.8 L365.1 510.2 L365.6 507.1 L366.2 508.8 L366.7 510.6 L367.3 509.7 L367.8 512.0 L368.4 507.6 L368.9 510.7 L369.5 508.7 L370.0 511.6 L370.6 509.5 L371.1 511.1 L371.7 508.6 L372.2 507.4 L372.8 507.8 L373.3 508.6 L373.9 507.9 L374.4 511.2 L375.0 511.3 L375.5 509.7 L376.1 507.6 L376.6 509.0 L377.2 508.0 L377.7 511.2 L378.3 509.4 L378.8 509.6 L379.4 508.2 L379.9 505.7 L380.5 507.5 L381.0 506.9 L381.6 509.0 L382.1 508.5 L382.7 507.1 L383.2 507.7 L383.8 510.5 L384.3 506.7 L384.9 506.6 L385.4 507.6 L386.0 506.8 L386.5 507.2 L387.1 508.6 L387.6 510.3 L388.2 505.0 L388.7 507.6 L389.3 507.6 L389.8 507.4 L390.4 507.2 L390.9 506.9 L391.5 508.9 L392.0 506.7 L392.6 507.2 L393.1 507.3 L393.7 507.5 L394.2 507.1 L394.8 508.8 L395.3 507.3 L395.9 507.6 L396.4 507.3 L397.0 505.9 L397.5 506.1 L398.1 505.8 L398.6 507.7 L399.2 506.4 L399.7 505.9 L400.3 507.9 L400.8 508.4 L401.4 505.0 L401.9 510.3 L402.5 507.8 L403.0 507.7 L403.6 509.5 L404.1 508.0 L404.7 507.1 L405.2 511.3 L405.8 506.3 L406.3 507.7 L406.9 509.0 L407.4 505.9 L408.0 507.1 L408.5 507.5 L409.1 510.1 L409.6 504.7 L410.2 505.5 L410.7 506.0 L411.3 504.7 L411.8 502.5 L412.4 504.7 L412.9 504.2 L413.5 504.9 L414.0 506.3 L414.6 506.8 L415.1 506.9 L415.7 508.2 L416.2 507.9 L416.8 511.2 L417.3 513.4 L417.9 513.4 L418.4 514.3 L419.0 512.2 L419.5 514.7 L420.1 514.4 L420.6 509.6 L421.2 509.9 L421.7 508.2 L422.3 509.7 L422.8 507.8 L423.4 506.7 L423.9 506.1 L424.5 506.9 L425.0 506.1 L425.6 509.9 L426.1 509.4 L426.7 512.8 L427.2 513.4 L427.8 515.5 L428.3 513.8 L428.9 514.7 L429.4 510.7 L430.0 511.9 L430.5 509.7 L431.1 509.6 L431.6 508.9 L432.2 509.8 L432.7 505.0 L433.3 508.1 L433.8 504.9 L434.4 508.4 L434.9 503.2 L435.5 504.3 L436.0 503.2 L436.6 508.3 L437.1 504.3 L437.7 506.8 L438.2 506.4 L438.8 505.0 L439.3 507.6 L439.9 509.4 L440.4 508.3 L441.0 510.2 L441.5 508.3 L442.1 509.0 L442.6 508.4 L443.2 509.6 L443.7 512.0 L444.3 509.7 L444.8 509.5 L445.4 508.4 L445.9 508.2 L446.5 511.6 L447.0 507.9 L447.6 508.2 L448.1 509.5 L448.7 509.1 L449.2 512.8 L449.8 506.4 L450.3 510.5 L450.9 511.1 L451.4 508.5 L452.0 509.3 L452.5 511.0 L453.1 512.9 L453.6 509.2 L454.2 508.4 L454.7 512.5 L455.3 513.7 L455.8 511.4 L456.4 509.2 L456.9 515.4 L457.5 513.7 L458.0 516.2 L458.6 514.9 L459.1 514.5 L459.7 514.2 L460.2 516.7 L460.8 516.0 L461.3 510.0 L461.9 511.2 L462.4 514.8 L463.0 511.2 L463.5 509.5 L464.1 511.4 L464.6 511.2 L465.2 511.1 L465.7 510.5 L466.3 510.7 L466.8 510.5 L467.4 511.6 L467.9 509.9 L468.5 510.6 L469.0 510.8 L469.6 512.9 L470.1 511.5 L470.7 510.7 L471.2 511.6 L471.8 511.4 L472.3 512.3 L472.9 511.4 L473.4 513.3 L474.0 512.5 L474.5 510.4 L475.1 509.8 L475.6 511.6 L476.2 511.0 L476.7 510.0 L477.3 507.9 L477.8 507.3 L478.4 510.5 L478.9 511.1 L479.5 511.1 L480.0 507.9 L480.6 511.3 L481.1 508.9 L481.7 510.2 L482.2 510.2 L482.8 508.4 L483.3 508.7 L483.9 506.4 L484.4 508.1 L485.0 506.7 L485.5 510.1 L486.1 509.5 L486.6 510.8 L487.2 509.9 L487.7 508.4 L488.3 509.9 L488.8 508.8 L489.4 510.3 L489.9 509.9 L490.5 507.9 L491.0 509.4 L491.6 509.5 L492.1 509.0 L492.7 510.8 L493.2 512.1 L493.8 509.0 L494.3 509.0 L494.9 506.2 L495.4 509.4 L496.0 509.0 L496.5 506.5 L497.1 510.2 L497.6 510.6 L498.2 508.7 L498.7 509.3 L499.3 508.4 L499.8 511.0 L500.4 507.6 L500.9 509.5 L501.5 512.9 L502.0 510.1 L502.6 510.7 L503.1 509.8 L503.7 508.3 L504.2 510.0 L504.8 510.6 L505.3 508.5 L505.9 510.5 L506.4 511.9 L507.0 511.6 L507.5 507.6 L508.1 508.5 L508.6 507.5 L509.2 511.5 L509.7 510.8 L510.3 510.9 L510.8 508.5 L511.4 508.0 L511.9 509.8 L512.5 509.8 L513.0 508.3 L513.6 509.7 L514.1 510.4 L514.7 509.7 L515.2 507.8 L515.8 506.1 L516.3 508.8 L516.9 509.3 L517.4 508.6 L518.0 508.2 L518.5 507.6 L519.1 509.4 L519.6 507.9 L520.2 507.7 L520.7 505.5 L521.3 505.4 L521.8 506.1 L522.4 503.9 L522.9 503.3 L523.5 504.8 L524.0 507.4 L524.6 506.7 L525.1 509.8 L525.7 509.1 L526.2 510.9 L526.8 511.2 L527.3 513.4 L527.9 516.0 L528.4 512.6 L529.0 510.7 L529.5 507.9 L530.1 504.5 L530.6 502.7 L531.2 502.8 L531.7 504.2 L532.3 505.0 L532.8 506.2 L533.4 506.4 L533.9 505.4 L534.5 506.0 L535.0 504.6 L535.6 507.0 L536.1 501.7 L536.7 504.0 L537.2 507.4 L537.8 503.1 L538.3 502.0 L538.9 504.0 L539.4 506.6 L540.0 505.1 L540.5 507.0 L541.1 506.8 L541.6 506.6 L542.2 512.3 L542.7 507.9 L543.3 507.2 L543.8 507.4 L544.4 508.8 L544.9 508.9 L545.5 509.5 L546.0 508.6 L546.6 506.3 L547.1 509.3 L547.7 508.1 L548.2 508.2 L548.8 506.5 L549.3 507.9 L549.9 507.7 L550.4 508.8 L551.0 506.7 L551.5 509.0 L552.1 509.2 L552.6 507.3 L553.2 508.1 L553.7 507.8 L554.3 510.4 L554.8 505.3 L555.4 508.6 L555.9 506.6 L556.5 508.5 L557.0 510.4 L557.6 508.2 L558.1 509.3 L558.7 507.8 L559.2 512.0 L559.8 510.4 L560.3 510.7 L560.9 507.0 L561.4 507.3 L562.0 510.6 L562.5 508.6 L563.1 508.5 L563.6 509.4 L564.2 506.9 L564.7 509.9 L565.3 508.8 L565.8 509.4 L566.4 507.7 L566.9 509.4 L567.5 507.6 L568.0 510.0 L568.6 510.2 L569.1 509.9 L569.7 509.3 L570.2 509.4 L570.8 504.4 L571.3 509.7 L571.9 508.0 L572.4 508.5 L573.0 508.0 L573.5 506.3 L574.1 507.6 L574.6 509.4 L575.2 510.5 L575.7 507.5 L576.3 507.1 L576.8 510.6 L577.4 507.1 L577.9 511.6 L578.5 508.6 L579.0 507.2 L579.6 510.1 L580.1 511.2 L580.7 506.6 L581.2 511.1 L581.8 508.4 L582.3 511.1 L582.9 508.4 L583.4 506.7 L584.0 509.9 L584.5 510.6 L585.1 512.4 L585.6 511.9 L586.2 510.5 L586.7 509.1 L587.3 508.8 L587.8 509.2 L588.4 508.5 L588.9 509.4 L589.5 506.1 L590.0 510.3 L590.6 510.1 L591.1 514.0 L591.7 511.4 L592.2 509.6 L592.8 511.3 L593.3 508.6 L593.9 509.6 L594.4 507.8 L595.0 512.7 L595.5 511.5 L596.1 508.8 L596.6 510.3 L597.2 511.7 L597.7 510.8 L598.3 510.4 L598.8 508.2 L599.4 508.2 L599.9 508.9 L600.5 509.7 L601.0 506.7 L601.6 506.0 L602.1 509.3 L602.7 506.2 L603.2 509.4 L603.8 508.5 L604.3 510.0 L604.9 512.0 L605.4 511.2 L606.0 512.2 L606.5 510.5 L607.1 511.6 L607.6 514.3 L608.2 516.1 L608.7 516.2 L609.3 517.8 L609.8 514.7 L610.4 514.3 L610.9 515.2 L611.5 513.3 L612.0 512.7 L612.6 510.8 L613.1 513.4 L613.7 509.9 L614.2 511.9 L614.8 508.7 L615.3 512.2 L615.9 508.8 L616.4 511.5 L617.0 507.7 L617.5 509.3 L618.1 511.7 L618.6 508.6 L619.2 509.9 L619.7 509.0 L620.3 506.3 L620.8 510.1 L621.4 510.3 L621.9 508.0 L622.5 510.4 L623.0 508.4 L623.6 508.0 L624.1 509.5 L624.7 508.5 L625.2 512.9 L625.8 507.1 L626.3 510.5 L626.9 510.8 L627.4 506.3 L628.0 506.6 L628.5 510.0 L629.1 508.4 L629.6 509.6 L630.2 510.7 L630.7 508.3 L631.3 507.2 L631.8 504.6 L632.4 508.8 L632.9 507.0 L633.5 508.8 L634.0 508.5 L634.6 506.0 L635.1 510.5 L635.7 509.4 L636.2 508.9 L636.8 505.8 L637.3 506.9 L637.9 506.6 L638.4 506.7 L639.0 505.7 L639.5 508.0 L640.1 507.7 L640.6 507.9 L641.2 506.7 L641.7 509.4 L642.3 507.9 L642.8 503.6 L643.4 506.9 L643.9 507.9 L644.5 509.6 L645.0 507.8 L645.6 508.0 L646.1 507.5 L646.7 509.7 L647.2 508.1 L647.8 508.0 L648.3 507.9 L648.9 510.0 L649.4 508.4 L650.0 506.8 L650.5 510.3 L651.1 508.3 L651.6 509.9 L652.2 509.9 L652.7 511.2 L653.3 510.9 L653.8 508.5 L654.4 509.0 L654.9 507.3 L655.5 511.7 L656.0 509.8 L656.6 511.1 L657.1 508.5 L657.7 505.8 L658.2 511.1 L658.8 508.9 L659.3 508.9 L659.9 508.7 L660.4 509.5 L661.0 509.2 L661.5 506.0 L662.1 509.9 L662.6 507.4 L663.2 507.4 L663.7 510.6 L664.3 509.4 L664.8 507.4 L665.4 505.1 L665.9 508.1 L666.5 508.6 L667.0 507.6 L667.6 505.8 L668.1 506.5 L668.7 505.8 L669.2 507.9 L669.8 508.8 L670.3 509.1 L670.9 506.5 L671.4 507.9 L672.0 508.4 L672.5 506.8 L673.1 507.4 L673.6 510.8 L674.2 508.0 L674.7 509.0 L675.3 507.0 L675.8 507.8 L676.4 505.2 L676.9 507.8 L677.5 509.6 L678.0 511.0 L678.6 509.7 L679.1 509.0 L679.7 508.1 L680.2 507.2 L680.8 507.9 L681.3 509.1 L681.9 507.1 L682.4 509.7 L683.0 506.9 L683.5 505.7 L684.1 506.9 L684.6 506.0 L685.2 506.5 L685.7 510.3 L686.3 508.4 L686.8 509.0 L687.4 510.5 L687.9 510.7 L688.5 508.0 L689.0 510.8 L689.6 509.4 L690.1 508.9 L690.7 509.6 L691.2 506.8 L691.8 507.8 L692.3 508.8 L692.9 509.9 L693.4 508.4 L694.0 508.7 L694.5 510.4 L695.1 511.0 L695.6 510.1 L696.2 510.8 L696.7 508.3 L697.3 508.4 L697.8 509.3 L698.4 508.3 L698.9 508.0 L699.5 511.2 L700.0 508.4 L700.6 507.2 L701.1 509.3 L701.7 511.3 L702.2 508.6 L702.8 510.3 L703.3 507.8 L703.9 507.7 L704.4 507.3 L705.0 508.1 L705.5 511.0 L706.1 506.5 L706.6 510.7 L707.2 506.7 L707.7 507.8 L708.3 509.4 L708.8 509.0 L709.4 508.5 L709.9 505.6 L710.5 508.5 L711.0 506.3 L711.6 511.5 L712.1 507.0 L712.7 507.0 L713.2 504.2 L713.8 504.2 L714.3 501.8 L714.9 504.0 L715.4 501.0 L716.0 501.7 L716.5 499.8 L717.1 500.6 L717.6 504.5 L718.2 502.7 L718.7 503.1 L719.3 508.1 L719.8 507.2 L720.4 509.3 L720.9 512.2 L721.5 510.1 L722.0 513.0 L722.6 510.7 L723.1 514.0 L723.7 513.6 L724.2 510.7 L724.8 510.8 L725.3 509.7 L725.9 511.0 L726.4 512.2 L727.0 508.2 L727.5 511.6 L728.1 508.1 L728.6 508.8 L729.2 507.4 L729.7 513.3 L730.3 510.2 L730.8 510.6 L731.4 509.2 L731.9 511.9 L732.5 507.2 L733.0 510.5 L733.6 513.8 L734.1 510.0 L734.7 510.6 L735.2 511.7 L735.8 509.5 L736.3 510.8 L736.9 512.2 L737.4 511.1 L738.0 511.4 L738.5 510.3 L739.1 511.4 L739.6 511.0 L740.2 513.1 L740.7 512.0 L741.3 510.5 L741.8 507.2 L742.4 511.9 L742.9 512.0 L743.5 509.5 L744.0 507.8 L744.6 509.1 L745.1 512.1 L745.7 509.1 L746.2 510.0 L746.8 511.0 L747.3 512.4 L747.9 510.5 L748.4 510.3 L749.0 509.6 L749.5 512.8 L750.1 512.0 L750.6 510.2 L751.2 508.2 L751.7 509.0 L752.3 511.0 L752.8 509.0 L753.4 511.4 L753.9 510.6 L754.5 510.4 L755.0 510.9 L755.6 510.6 L756.1 508.6 L756.7 509.3 L757.2 513.3 L757.8 508.0 L758.3 509.0 L758.9 511.3 L759.4 509.5 L760.0 508.5 L760.5 507.7 L761.1 510.5 L761.6 511.2 L762.2 511.8 L762.7 509.8 L763.3 511.3 L763.8 508.2 L764.4 510.0 L764.9 508.8 L765.5 510.1 L766.0 511.0 L766.6 511.5 L767.1 508.4 L767.7 511.8 L768.2 509.3 L768.8 508.5 L769.3 509.8 L769.9 507.9 L770.4 510.1 L771.0 510.6 L771.5 509.9 L772.1 511.1 L772.6 509.8 L773.2 510.4 L773.7 508.2 L774.3 510.5 L774.8 509.2 L775.4 509.8 L775.9 510.4 L776.5 510.9 L777.0 508.1 L777.6 508.3 L778.1 510.2 L778.7 511.4 L779.2 511.3 L779.8 512.2 L780.3 512.9 L780.9 511.8 L781.4 511.1 L782.0 509.8 L782.5 510.2 L783.1 511.3 L783.6 512.8 L784.2 513.2 L784.7 513.4 L785.3 513.7 L785.8 515.3 L786.4 515.1 L786.9 515.6 L787.5 515.7 L788.0 514.4 L788.6 513.4 L789.1 515.2 L789.7 514.4 L790.2 512.3 L790.8 510.7 L791.3 513.0 L791.9 506.4 L792.4 505.0 L793.0 503.4 L793.5 499.2 L794.1 499.4 L794.6 501.0 L795.2 499.5 L795.7 499.7 L796.3 501.0 L796.8 502.2 L797.4 505.7 L797.9 506.2 L798.5 507.8 L799.0 510.3 L799.6 513.0 L800.1 513.2 L800.7 514.5 L801.2 511.0 L801.8 516.0 L802.3 517.7 L802.9 515.9 L803.4 513.0 L804.0 511.6 L804.5 512.6 L805.1 510.0 L805.6 511.9 L806.2 509.4 L806.7 511.1 L807.3 511.2 L807.8 505.7 L808.4 508.9 L808.9 507.2 L809.5 506.0 L810.0 507.1 L810.6 507.6 L811.1 509.5 L811.7 505.6 L812.2 509.5 L812.8 510.9 L813.3 508.8 L813.9 508.7 L814.4 507.9 L815.0 506.1 L815.5 508.6 L816.1 508.3 L816.6 508.7 L817.2 511.3 L817.7 508.2 L818.3 507.4 L818.8 508.7 L819.4 503.9 L819.9 503.7 L820.5 504.4 L821.0 503.5 L821.6 505.1 L822.1 503.3 L822.7 506.3 L823.2 506.0 L823.8 505.0 L824.3 503.6 L824.9 505.6 L825.4 506.4 L826.0 504.2 L826.5 506.9 L827.1 507.9 L827.6 507.6 L828.2 510.0 L828.7 509.8 L829.3 506.9 L829.8 508.4 L830.4 506.9 L830.9 508.9 L831.5 506.5 L832.0 508.9 L832.6 507.8 L833.1 508.4 L833.7 506.3 L834.2 504.0 L834.8 508.6 L835.3 505.5 L835.9 507.7 L836.4 506.3 L837.0 506.8 L837.5 508.7 L838.1 506.7 L838.6 508.6 L839.2 504.6 L839.7 508.4 L840.3 507.0 L840.8 507.5 L841.4 507.9 L841.9 508.7 L842.5 510.8 L843.0 505.8 L843.6 508.8 L844.1 507.9 L844.7 510.9 L845.2 508.7 L845.8 510.3 L846.3 509.2 L846.9 511.0 L847.4 511.8 L848.0 509.8 L848.5 510.6 L849.1 508.5 L849.6 511.2 L850.2 512.0 L850.7 509.9 L851.3 512.3 L851.8 507.4 L852.4 507.5 L852.9 508.0 L853.5 509.1 L854.0 509.7 L854.6 509.3 L855.1 509.1 L855.7 510.0 L856.2 508.0 L856.8 506.6 L857.3 506.3 L857.9 511.1 L858.4 504.0 L859.0 506.8 L859.5 508.8 L860.1 506.8 L860.6 504.2 L861.2 504.9 L861.7 505.6 L862.3 505.6 L862.8 502.0 L863.4 504.3 L863.9 503.5 L864.5 504.9 L865.0 505.7 L865.6 503.7 L866.1 502.7 L866.7 506.1 L867.2 509.0 L867.8 508.1 L868.3 508.0 L868.9 511.9 L869.4 507.2 L870.0 510.6 L870.5 508.7 L871.1 509.9 L871.6 510.1 L872.2 512.4 L872.7 508.8 L873.3 509.5 L873.8 508.0 L874.4 511.2 L874.9 509.8 L875.5 511.2 L876.0 508.9 L876.6 510.0 L877.1 512.1 L877.7 510.3 L878.2 511.5 L878.8 511.4 L879.3 510.1 L879.9 508.3 L880.4 512.1 L881.0 510.8 L881.5 512.0 L882.1 507.5 L882.6 508.0 L883.2 507.3 L883.7 509.1 L884.3 512.0 L884.8 511.2 L885.4 510.3 L885.9 510.5 L886.5 511.4 L887.0 509.8 L887.6 510.8 L888.1 510.3 L888.7 506.8 L889.2 509.5 L889.8 512.1 L890.3 509.4 L890.9 509.7 L891.4 509.0 L892.0 509.1 L892.5 511.5 L893.1 509.4 L893.6 508.2 L894.2 505.1 L894.7 508.9 L895.3 506.8 L895.8 507.0 L896.4 510.9 L896.9 510.7 L897.5 506.8 L898.0 510.9 L898.6 510.4 L899.1 508.5 L899.7 510.8 L900.2 507.3 L900.8 507.9 L901.3 507.6 L901.9 508.1 L902.4 511.1 L903.0 507.8 L903.5 508.1 L904.1 508.5 L904.6 510.2 L905.2 509.5 L905.7 511.3 L906.3 508.9 L906.8 508.0 L907.4 509.2 L907.9 509.9 L908.5 508.3 L909.0 510.0 L909.6 512.1 L910.1 508.3 L910.7 508.9 L911.2 510.6 L911.8 507.3 L912.3 506.8 L912.9 506.2 L913.4 508.4 L914.0 508.5 L914.5 507.6 L915.1 508.1 L915.6 510.2 L916.2 509.9 L916.7 506.8 L917.3 509.3 L917.8 509.8 L918.4 511.0 L918.9 509.8 L919.5 509.4 L920.0 509.9 L920.6 508.0 L921.1 510.7 L921.7 509.9 L922.2 511.5 L922.8 509.3 L923.3 510.1 L923.9 509.3 L924.4 509.1 L925.0 511.7 L925.5 509.9 L926.1 511.2 L926.6 508.8 L927.2 510.6 L927.7 507.8 L928.3 509.6 L928.8 509.4 L929.4 511.0 L929.9 510.3 L930.5 509.7 L931.0 511.1 L931.6 510.1 L932.1 510.5 L932.7 510.8 L933.2 509.4 L933.8 509.0 L934.3 509.8 L934.9 508.6 L935.4 509.8 L936.0 510.7 L936.5 510.3 L937.1 508.3 L937.6 506.9 L938.2 508.7 L938.7 508.5 L939.3 510.3 L939.8 508.0 L940.4 508.2 L940.9 509.5 L941.5 507.7 L942.0 508.1 L942.6 510.9 L943.1 510.5 L943.7 509.2 L944.2 508.6 L944.8 506.7 L945.3 509.0 L945.9 508.2 L946.4 508.4 L947.0 507.3 L947.5 508.1 L948.1 507.8 L948.6 508.6 L949.2 510.2 L949.7 508.6 L950.3 505.6 L950.8 506.7 L951.4 505.8 L951.9 507.0 L952.5 509.1 L953.0 508.8 L953.6 507.4 L954.1 508.7 L954.7 507.2 L955.2 506.3 L955.8 506.3 L956.3 507.2 L956.9 510.6 L957.4 506.5 L958.0 510.4 L958.5 510.6 L959.1 508.4 L959.6 508.6 L960.2 507.8 L960.7 508.7 L961.3 509.8 L961.8 508.8 L962.4 510.3 L962.9 510.6 L963.5 509.4 L964.0 509.4 L964.6 508.8 L965.1 509.4 L965.7 507.2 L966.2 509.5 L966.8 509.2 L967.3 507.6 L967.9 512.1 L968.4 507.4 L969.0 507.6 L969.5 509.3 L970.1 506.0 L970.6 507.8 L971.2 506.8 L971.7 507.7 L972.3 509.1 L972.8 510.0 L973.4 511.5 L973.9 511.3 L974.5 512.3 L975.0 511.8 L975.6 510.6 L976.1 513.3 L976.7 511.2 L977.2 511.1 L977.8 514.4 L978.3 513.1 L978.9 511.9 L979.4 512.2 L980.0 511.6 L980.5 507.3 L981.1 507.9 L981.6 504.9 L982.2 505.4 L982.7 502.9 L983.3 504.9 L983.8 503.0 L984.4 500.9 L984.9 502.4 L985.5 501.3 L986.0 504.1 L986.6 505.8 L987.1 506.1 L987.7 503.5 L988.2 506.3 L988.8 507.9 L989.3 507.7 L989.9 509.1 L990.4 505.5 L991.0 508.3 L991.5 506.5 L992.1 507.8 L992.6 508.2 L993.2 508.6 L993.7 506.8 L994.3 508.0 L994.8 506.0 L995.4 505.7 L995.9 508.7 L996.5 507.9 L997.0 505.6 L997.6 506.8 L998.1 508.2 L998.7 510.6 L999.2 509.9 L999.8 509.6 L1000.3 505.8 L1000.9 508.4 L1001.4 509.4 L1002.0 509.3 L1002.5 509.5 L1003.1 508.6 L1003.6 511.6 L1004.2 511.3 L1004.7 509.0 L1005.3 507.8 L1005.8 512.4 L1006.4 508.6 L1006.9 511.3 L1007.5 512.4 L1008.0 508.2 L1008.6 510.1 L1009.1 509.2 L1009.7 510.6 L1010.2 510.4 L1010.8 512.8 L1011.3 510.9 L1011.9 510.0 L1012.4 511.7 L1013.0 509.7 L1013.5 509.6 L1014.1 513.5 L1014.6 508.9 L1015.2 509.4 L1015.7 510.2 L1016.3 508.6 L1016.8 507.0 L1017.4 511.8 L1017.9 509.0 L1018.5 509.4 L1019.0 509.6 L1019.6 508.7 L1020.1 508.5 L1020.7 510.3 L1021.2 513.7 L1021.8 511.1 L1022.3 511.1 L1022.9 507.7 L1023.4 509.9 L1024.0 508.1 L1024.5 511.0 L1025.1 509.5 L1025.6 509.9 L1026.2 509.6 L1026.7 508.9 L1027.3 507.4 L1027.8 510.5 L1028.4 507.6 L1028.9 507.8 L1029.5 509.1 L1030.0 508.5 L1030.6 509.9 L1031.1 511.0 L1031.7 509.8 L1032.2 509.7 L1032.8 509.3 L1033.3 510.4 L1033.9 506.2 L1034.4 509.3 L1035.0 507.1 L1035.5 506.4 L1036.1 507.9 L1036.6 506.9 L1037.2 507.9 L1037.7 508.3 L1038.3 502.8 L1038.8 506.0 L1039.4 508.9 L1039.9 507.2 L1040.5 508.2 L1041.0 506.5 L1041.6 504.5 L1042.1 505.5 L1042.7 508.7 L1043.2 509.6 L1043.8 507.6 L1044.3 508.8 L1044.9 510.1 L1045.4 507.5 L1046.0 509.9 L1046.5 513.2 L1047.1 514.3 L1047.6 511.0 L1048.2 514.1 L1048.7 510.7 L1049.3 510.5 L1049.8 508.5 L1050.4 513.4 L1050.9 511.5 L1051.5 515.7 L1052.0 512.8 L1052.6 512.7 L1053.1 509.8 L1053.7 514.9 L1054.2 512.1 L1054.8 512.5 L1055.3 509.5 L1055.9 514.3 L1056.4 514.4 L1057.0 512.1 L1057.5 513.2 L1058.1 513.6 L1058.6 514.5 L1059.2 513.2 L1059.7 515.6 L1060.3 512.7 L1060.8 512.1 L1061.4 512.3 L1061.9 509.1 L1062.5 511.6 L1063.0 514.3 L1063.6 513.1 L1064.1 511.3 L1064.7 513.0 L1065.2 509.3 L1065.8 511.8 L1066.3 512.9 L1066.9 513.0 L1067.4 510.7 L1068.0 513.1 L1068.5 514.4 L1069.1 510.8 L1069.6 512.4 L1070.2 508.8 L1070.7 508.0 L1071.3 511.7 L1071.8 510.7 L1072.4 510.8 L1072.9 509.5 L1073.5 509.8 L1074.0 511.3 L1074.6 512.5 L1075.1 509.5 L1075.7 507.2 L1076.2 511.5 L1076.8 510.4 L1077.3 510.4 L1077.9 509.5 L1078.4 512.6 L1079.0 509.2 L1079.5 509.8 L1080.1 506.1 L1080.6 508.0 L1081.2 507.7 L1081.7 508.7 L1082.3 509.2 L1082.8 507.5 L1083.4 511.2 L1083.9 507.0 L1084.5 507.9 L1085.0 508.9 L1085.6 506.6 L1086.1 509.3 L1086.7 509.4 L1087.2 508.1 L1087.8 511.4 L1088.3 508.6 L1088.9 508.9 L1089.4 507.1 L1090.0 506.0 L1090.5 507.6 L1091.1 508.1 L1091.6 508.0 L1092.2 509.8 L1092.7 505.1 L1093.3 507.0 L1093.8 506.0 L1094.4 510.8 L1094.9 508.0 L1095.5 508.1 L1096.0 507.2 L1096.6 510.3 L1097.1 508.3 L1097.7 509.3 L1098.2 505.9 L1098.8 510.8 L1099.3 509.6 L1099.9 509.9 L1100.4 510.9 L1101.0 508.7 L1101.5 508.8 L1102.1 510.0 L1102.6 509.6 L1103.2 508.5 L1103.7 508.8 L1104.3 507.9 L1104.8 509.5 L1105.4 509.7 L1105.9 508.1 L1106.5 510.7 L1107.0 505.3 L1107.6 507.0 L1108.1 509.6 L1108.7 506.1 L1109.2 504.0 L1109.8 508.3 L1110.3 506.8 L1110.9 504.0 L1111.4 506.8 L1112.0 504.0 L1112.5 503.5 L1113.1 505.3 L1113.6 504.9 L1114.2 504.1 L1114.7 505.3 L1115.3 504.5 L1115.8 506.3 L1116.4 506.4 L1116.9 507.7 L1117.5 506.1 L1118.0 504.9 L1118.6 505.0 L1119.1 506.8 L1119.7 509.5 L1120.2 508.5 L1120.8 506.3 L1121.3 508.8 L1121.9 505.6 L1122.4 508.9 L1123.0 506.8 L1123.5 508.5 L1124.1 508.3 L1124.6 506.9 L1125.2 507.8 L1125.7 505.7 L1126.3 507.2 L1126.8 508.9 L1127.4 513.5 L1127.9 508.4 L1128.5 507.4 L1129.0 505.8 L1129.6 508.9 L1130.1 504.9 L1130.7 506.2 L1131.2 508.0 L1131.8 505.7 L1132.3 509.9 L1132.9 509.2 L1133.4 506.8 L1134.0 506.9 L1134.5 505.8 L1135.1 505.7 L1135.6 508.6 L1136.2 508.9 L1136.7 508.6 L1137.3 508.5 L1137.8 507.4 L1138.4 508.8 L1138.9 506.2 L1139.5 508.5 L1140.0 510.8 L1140.6 510.6 L1141.1 508.0 L1141.7 508.3 L1142.2 510.9 L1142.8 511.6 L1143.3 506.8 L1143.9 508.4 L1144.4 509.5 L1145.0 511.1 L1145.5 508.0 L1146.1 510.3 L1146.6 509.0 L1147.2 513.1 L1147.7 510.2 L1148.3 509.4 L1148.8 509.1 L1149.4 511.3 L1149.9 510.7 L1150.5 508.1 L1151.0 510.1 L1151.6 507.8 L1152.1 508.7 L1152.7 507.9 L1153.2 507.8 L1153.8 508.8 L1154.3 508.4 L1154.9 510.6 L1155.4 511.0 L1156.0 509.5 L1156.5 508.1 L1157.1 511.0 L1157.6 506.7 L1158.2 506.9 L1158.7 510.8 L1159.3 510.7 L1159.8 511.2 L1160.4 509.3 L1160.9 507.7 L1161.5 508.8 L1162.0 510.4 L1162.6 508.4 L1163.1 508.4 L1163.7 507.4 L1164.2 507.7 L1164.8 510.7 L1165.3 510.1 L1165.9 507.6 L1166.4 507.7 L1167.0 508.5 L1167.5 510.1 L1168.1 507.5 L1168.6 509.0 L1169.2 506.0 L1169.7 507.3 L1170.3 509.9 L1170.8 510.6 L1171.4 507.5 L1171.9 508.1 L1172.5 510.4 L1173.0 508.7 L1173.6 508.4 L1174.1 510.1 L1174.7 509.6 L1175.2 511.0 L1175.8 510.6 L1176.3 508.6 L1176.9 509.3 L1177.4 509.4 L1178.0 507.6 L1178.5 508.2 L1179.1 511.2 L1179.6 507.5 L1180.2 511.4 L1180.7 510.5 L1181.3 510.0 L1181.8 511.1 L1182.4 511.2 L1182.9 512.5 L1183.5 510.3 L1184.0 510.7 L1184.6 510.9 L1185.1 514.4 L1185.7 513.2 L1186.2 510.7 L1186.8 511.8 L1187.3 511.5 L1187.9 512.9 L1188.4 513.5 L1189.0 516.9 L1189.5 510.9 L1190.1 515.5 L1190.6 514.8 L1191.2 513.4 L1191.7 514.5 L1192.3 514.2 L1192.8 515.3 L1193.4 517.0 L1193.9 513.6 L1194.5 518.2 L1195.0 516.1 L1195.6 519.4 L1196.1 518.3 L1196.7 520.1 L1197.2 519.6 L1197.8 520.9 L1198.3 519.8 L1198.9 518.9 L1199.4 521.5 L1200.0 521.7 L1200.5 523.9 L1201.1 517.6 L1201.6 520.0 L1202.2 521.5 L1202.7 517.5 L1203.3 518.3 L1203.8 521.1 L1204.4 519.2 L1204.9 514.9 L1205.5 517.5 L1206.0 516.4 L1206.6 515.0 L1207.1 513.7 L1207.7 512.8 L1208.2 510.6 L1208.8 510.7 L1209.3 512.1 L1209.9 510.9 L1210.4 508.2 L1211.0 504.7 L1211.5 501.4 L1212.1 504.3 L1212.6 505.1 L1213.2 505.1 L1213.7 504.6 L1214.3 503.2 L1214.8 506.6 L1215.4 503.2 L1215.9 505.3 L1216.5 503.7 L1217.0 502.3 L1217.6 506.2 L1218.1 500.2 L1218.7 502.7 L1219.2 504.6 L1219.8 503.4 L1220.3 505.0 L1220.9 503.7 L1221.4 503.2 L1222.0 507.1 L1222.5 503.5 L1223.1 503.6 L1223.6 502.2 L1224.2 502.7 L1224.7 504.8 L1225.3 504.7 L1225.8 503.9 L1226.4 502.8 L1226.9 504.9 L1227.5 501.4 L1228.0 503.4 L1228.6 503.6 L1229.1 502.7 L1229.7 504.3 L1230.2 503.1 L1230.8 502.9 L1231.3 506.8 L1231.9 505.3 L1232.4 506.0 L1233.0 504.3 L1233.5 505.7 L1234.1 505.5" fill="none" stroke="#1b6be0" stroke-width="2.7" stroke-linejoin="round"/>
<rect x="110" y="50" width="1125.6" height="491.6" fill="none" stroke="#000" stroke-width="2.5"/>
<path d="M110.0 541.6V555M297.6 541.6V555M485.2 541.6V555M672.8 541.6V555M860.4 541.6V555M1048.0 541.6V555M1235.6 541.6V555M203.8 541.6V548.5M391.4 541.6V548.5M579.0 541.6V548.5M766.6 541.6V548.5M954.2 541.6V548.5M1141.8 541.6V548.5" stroke="#000" stroke-width="2.4" fill="none"/>
<text x="110.0" y="588.7" font-size="30.5" text-anchor="middle" font-family="Liberation Sans, Arial, Helvetica, sans-serif">10</text>
<text x="297.6" y="588.7" font-size="30.5" text-anchor="middle" font-family="Liberation Sans, Arial, Helvetica, sans-serif">20</text>
<text x="485.2" y="588.7" font-size="30.5" text-anchor="middle" font-family="Liberation Sans, Arial, Helvetica, sans-serif">30</text>
<text x="672.8" y="588.7" font-size="30.5" text-anchor="middle" font-family="Liberation Sans, Arial, Helvetica, sans-serif">40</text>
<text x="860.4" y="588.7" font-size="30.5" text-anchor="middle" font-family="Liberation Sans, Arial, Helvetica, sans-serif">50</text>
<text x="1048.0" y="588.7" font-size="30.5" text-anchor="middle" font-family="Liberation Sans, Arial, Helvetica, sans-serif">60</text>
<text x="1236.6" y="588.7" font-size="30.5" text-anchor="middle" font-family="Liberation Sans, Arial, Helvetica, sans-serif">70</text>
<text x="671.5" y="624" font-size="32.7" text-anchor="middle" font-family="Liberation Sans, Arial, Helvetica, sans-serif">2θ (degree)</text>
<text transform="translate(71.8 294.5) rotate(-90)" font-size="32.6" text-anchor="middle" font-family="Liberation Sans, Arial, Helvetica, sans-serif">Intensity (a.u.)</text>
<text x="27.6" y="61" font-size="51.5" textLength="26" lengthAdjust="spacingAndGlyphs" font-weight="bold" font-family="Liberation Sans, Arial, Helvetica, sans-serif">a</text>
<text x="1095.5" y="33.8" font-size="29.5" font-family="Liberation Sans, Arial, Helvetica, sans-serif">R<tspan font-size="20" dy="7">wp</tspan><tspan dy="-7">=12.6</tspan></text>
<circle cx="832.8" cy="76.8" r="10" fill="#fff" stroke="#3f3f3f" stroke-width="1.6"/>
<path d="M820.5 110.4H841" stroke="#f0141e" stroke-width="2.6"/>
<path d="M820.5 136.4H841.6" stroke="#1b6be0" stroke-width="2.6"/>
<path d="M831 167.3V184.1" stroke="#f08228" stroke-width="3.4"/>
<path d="M831 201.7V218.2" stroke="#f4684a" stroke-width="3.4"/>
<path d="M831 235.7V252.5" stroke="#0f8282" stroke-width="3.4"/>
<path d="M831 271.5V288.3" stroke="#9b33ff" stroke-width="3.4"/>
<text x="857.2" y="83.8" font-size="27.9" font-family="Liberation Sans, Arial, Helvetica, sans-serif">Observed</text>
<text x="857.2" y="116.4" font-size="27.9" font-family="Liberation Sans, Arial, Helvetica, sans-serif">Caculated</text>
<text x="859" y="148" font-size="27.9" font-family="Liberation Sans, Arial, Helvetica, sans-serif">Difference</text>
<text x="859" y="182" font-size="27.9" font-family="Liberation Sans, Arial, Helvetica, sans-serif">Na<tspan font-size="18.3" dy="7">6</tspan><tspan dy="-7">FeCl</tspan><tspan font-size="18.3" dy="7">8</tspan><tspan dy="-7"> (</tspan><tspan font-style="italic">Fm3m</tspan>) 66.25%</text>
<text x="859" y="217.1" font-size="27.9" font-family="Liberation Sans, Arial, Helvetica, sans-serif">Na<tspan font-size="18.3" dy="7">1.38</tspan><tspan dy="-7">Fe</tspan><tspan font-size="18.3" dy="7">1.31</tspan><tspan dy="-7">Cl</tspan><tspan font-size="18.3" dy="7">4</tspan><tspan dy="-7"> (</tspan><tspan font-style="italic">Imma</tspan>) 20.88%</text>
<text x="860.7" y="253.2" font-size="27.9" font-family="Liberation Sans, Arial, Helvetica, sans-serif">Na<tspan font-size="18.3" dy="7">2</tspan><tspan dy="-7">FeCl</tspan><tspan font-size="18.3" dy="7">4</tspan><tspan dy="-7"> (</tspan><tspan font-style="italic">Fd3m</tspan>) 9.12%</text>
<text x="860.7" y="288.3" font-size="27.9" font-family="Liberation Sans, Arial, Helvetica, sans-serif">NaCl (<tspan font-style="italic">Fm3m</tspan>) 3.75%</text>
<path d="M1035.6 159.2H1048.6M1030.2 227.2H1043.2M984.7 264.9H997.7" stroke="#000" stroke-width="1.8"/>
<g id="pb1"><rect x="116.7" y="780.1" width="82.1" height="85.3" fill="none" stroke="#7a7a7a" stroke-width="1.1"/>
<polygon points="137.8,787.0 122.8,812.0 153.1,816.5" fill="#a6cfe6"/>
<polygon points="122.8,812.0 153.1,816.5 136.7,804.0" fill="#8fc0dc" fill-opacity="0.55"/>
<circle cx="139.4" cy="804.5" r="3.8" fill="url(#fe)" opacity="0.55"/>
<path d="M136.7 804.0L137.8 787.0M136.7 804.0L122.8 812.0M136.7 804.0L153.1 816.5" stroke="#ffffff" stroke-width="0.7" fill="none" stroke-opacity="0.6"/>
<polygon points="163.8,791.0 194.4,786.8 178.5,816.0" fill="#3f86b8"/>
<polygon points="194.4,786.8 178.5,816.0 177.7,798.9" fill="#2f72a6" fill-opacity="0.55"/>
<circle cx="180.7" cy="798.5" r="3.8" fill="url(#fe)" opacity="0.55"/>
<path d="M177.7 798.9L163.8 791.0M177.7 798.9L194.4 786.8M177.7 798.9L178.5 816.0" stroke="#ffffff" stroke-width="0.7" fill="none" stroke-opacity="0.6"/>
<polygon points="121.5,829.6 151.8,834.0 137.2,858.3" fill="#63b4de"/>
<polygon points="151.8,834.0 137.2,858.3 138.0,841.5" fill="#4da4d2" fill-opacity="0.55"/>
<circle cx="135.7" cy="840.7" r="3.8" fill="url(#fe)" opacity="0.55"/>
<path d="M138.0 841.5L121.5 829.6M138.0 841.5L151.8 834.0M138.0 841.5L137.2 858.3" stroke="#ffffff" stroke-width="0.7" fill="none" stroke-opacity="0.6"/>
<polygon points="177.8,829.9 162.2,858.6 193.0,854.3" fill="#3f86b8"/>
<polygon points="162.2,858.6 193.0,854.3 178.9,846.8" fill="#2f72a6" fill-opacity="0.55"/>
<circle cx="176.4" cy="847.1" r="3.8" fill="url(#fe)" opacity="0.55"/>
<path d="M178.9 846.8L177.8 829.9M178.9 846.8L162.2 858.6M178.9 846.8L193.0 854.3" stroke="#ffffff" stroke-width="0.7" fill="none" stroke-opacity="0.6"/>
<polygon points="219.9,787.0 204.9,812.0 235.2,816.5" fill="#a6cfe6"/>
<polygon points="204.9,812.0 235.2,816.5 218.8,804.0" fill="#8fc0dc" fill-opacity="0.55"/>
<circle cx="221.5" cy="804.5" r="3.8" fill="url(#fe)" opacity="0.55"/>
<path d="M218.8 804.0L219.9 787.0M218.8 804.0L204.9 812.0M218.8 804.0L235.2 816.5" stroke="#ffffff" stroke-width="0.7" fill="none" stroke-opacity="0.6"/>
<polygon points="245.9,791.0 276.6,786.8 260.6,816.0" fill="#3f86b8"/>
<polygon points="276.6,786.8 260.6,816.0 259.8,798.9" fill="#2f72a6" fill-opacity="0.55"/>
<circle cx="262.8" cy="798.5" r="3.8" fill="url(#fe)" opacity="0.55"/>
<path d="M259.8 798.9L245.9 791.0M259.8 798.9L276.6 786.8M259.8 798.9L260.6 816.0" stroke="#ffffff" stroke-width="0.7" fill="none" stroke-opacity="0.6"/>
<polygon points="203.7,829.6 234.0,834.0 219.3,858.3" fill="#63b4de"/>
<polygon points="234.0,834.0 219.3,858.3 220.1,841.5" fill="#4da4d2" fill-opacity="0.55"/>
<circle cx="217.9" cy="840.7" r="3.8" fill="url(#fe)" opacity="0.55"/>
<path d="M220.1 841.5L203.7 829.6M220.1 841.5L234.0 834.0M220.1 841.5L219.3 858.3" stroke="#ffffff" stroke-width="0.7" fill="none" stroke-opacity="0.6"/>
<polygon points="260.0,829.9 244.3,858.6 275.1,854.3" fill="#3f86b8"/>
<polygon points="244.3,858.6 275.1,854.3 261.1,846.8" fill="#2f72a6" fill-opacity="0.55"/>
<circle cx="258.5" cy="847.1" r="3.8" fill="url(#fe)" opacity="0.55"/>
<path d="M261.1 846.8L260.0 829.9M261.1 846.8L244.3 858.6M261.1 846.8L275.1 854.3" stroke="#ffffff" stroke-width="0.7" fill="none" stroke-opacity="0.6"/>
<polygon points="137.8,701.6 122.8,726.7 153.1,731.1" fill="#a6cfe6"/>
<polygon points="122.8,726.7 153.1,731.1 136.7,718.7" fill="#8fc0dc" fill-opacity="0.55"/>
<circle cx="139.4" cy="719.2" r="3.8" fill="url(#fe)" opacity="0.55"/>
<path d="M136.7 718.7L137.8 701.6M136.7 718.7L122.8 726.7M136.7 718.7L153.1 731.1" stroke="#ffffff" stroke-width="0.7" fill="none" stroke-opacity="0.6"/>
<polygon points="163.8,705.6 194.4,701.5 178.5,730.7" fill="#3f86b8"/>
<polygon points="194.4,701.5 178.5,730.7 177.7,713.6" fill="#2f72a6" fill-opacity="0.55"/>
<circle cx="180.7" cy="713.1" r="3.8" fill="url(#fe)" opacity="0.55"/>
<path d="M177.7 713.6L163.8 705.6M177.7 713.6L194.4 701.5M177.7 713.6L178.5 730.7" stroke="#ffffff" stroke-width="0.7" fill="none" stroke-opacity="0.6"/>
<polygon points="121.5,744.2 151.8,748.7 137.2,772.9" fill="#63b4de"/>
<polygon points="151.8,748.7 137.2,772.9 138.0,756.2" fill="#4da4d2" fill-opacity="0.55"/>
<circle cx="135.7" cy="755.4" r="3.8" fill="url(#fe)" opacity="0.55"/>
<path d="M138.0 756.2L121.5 744.2M138.0 756.2L151.8 748.7M138.0 756.2L137.2 772.9" stroke="#ffffff" stroke-width="0.7" fill="none" stroke-opacity="0.6"/>
<polygon points="177.8,744.5 162.2,773.3 193.0,768.9" fill="#3f86b8"/>
<polygon points="162.2,773.3 193.0,768.9 178.9,761.5" fill="#2f72a6" fill-opacity="0.55"/>
<circle cx="176.4" cy="761.8" r="3.8" fill="url(#fe)" opacity="0.55"/>
<path d="M178.9 761.5L177.8 744.5M178.9 761.5L162.2 773.3M178.9 761.5L193.0 768.9" stroke="#ffffff" stroke-width="0.7" fill="none" stroke-opacity="0.6"/>
<polygon points="219.9,701.6 204.9,726.7 235.2,731.1" fill="#a6cfe6"/>
<polygon points="204.9,726.7 235.2,731.1 218.8,718.7" fill="#8fc0dc" fill-opacity="0.55"/>
<circle cx="221.5" cy="719.2" r="3.8" fill="url(#fe)" opacity="0.55"/>
<path d="M218.8 718.7L219.9 701.6M218.8 718.7L204.9 726.7M218.8 718.7L235.2 731.1" stroke="#ffffff" stroke-width="0.7" fill="none" stroke-opacity="0.6"/>
<polygon points="245.9,705.6 276.6,701.5 260.6,730.7" fill="#3f86b8"/>
<polygon points="276.6,701.5 260.6,730.7 259.8,713.6" fill="#2f72a6" fill-opacity="0.55"/>
<circle cx="262.8" cy="713.1" r="3.8" fill="url(#fe)" opacity="0.55"/>
<path d="M259.8 713.6L245.9 705.6M259.8 713.6L276.6 701.5M259.8 713.6L260.6 730.7" stroke="#ffffff" stroke-width="0.7" fill="none" stroke-opacity="0.6"/>
<polygon points="203.7,744.2 234.0,748.7 219.3,772.9" fill="#63b4de"/>
<polygon points="234.0,748.7 219.3,772.9 220.1,756.2" fill="#4da4d2" fill-opacity="0.55"/>
<circle cx="217.9" cy="755.4" r="3.8" fill="url(#fe)" opacity="0.55"/>
<path d="M220.1 756.2L203.7 744.2M220.1 756.2L234.0 748.7M220.1 756.2L219.3 772.9" stroke="#ffffff" stroke-width="0.7" fill="none" stroke-opacity="0.6"/>
<polygon points="260.0,744.5 244.3,773.3 275.1,768.9" fill="#3f86b8"/>
<polygon points="244.3,773.3 275.1,768.9 261.1,761.5" fill="#2f72a6" fill-opacity="0.55"/>
<circle cx="258.5" cy="761.8" r="3.8" fill="url(#fe)" opacity="0.55"/>
<path d="M261.1 761.5L260.0 744.5M261.1 761.5L244.3 773.3M261.1 761.5L275.1 768.9" stroke="#ffffff" stroke-width="0.7" fill="none" stroke-opacity="0.6"/>
<circle cx="119.5" cy="791.6" r="6.5" fill="url(#na)"/>
<circle cx="160.6" cy="811.2" r="6.5" fill="url(#na)"/>
<circle cx="155.3" cy="853.8" r="6.5" fill="url(#na)"/>
<circle cx="196.5" cy="834.0" r="6.5" fill="url(#na)"/>
<circle cx="201.6" cy="791.6" r="6.5" fill="url(#na)"/>
<circle cx="242.7" cy="811.2" r="6.5" fill="url(#na)"/>
<circle cx="237.5" cy="853.8" r="6.5" fill="url(#na)"/>
<circle cx="278.6" cy="834.0" r="6.5" fill="url(#na)"/>
<circle cx="119.5" cy="706.3" r="6.5" fill="url(#na)"/>
<circle cx="160.6" cy="725.9" r="6.5" fill="url(#na)"/>
<circle cx="155.3" cy="768.5" r="6.5" fill="url(#na)"/>
<circle cx="196.5" cy="748.7" r="6.5" fill="url(#na)"/>
<circle cx="201.6" cy="706.3" r="6.5" fill="url(#na)"/>
<circle cx="242.7" cy="725.9" r="6.5" fill="url(#na)"/>
<circle cx="237.5" cy="768.5" r="6.5" fill="url(#na)"/>
<circle cx="278.6" cy="748.7" r="6.5" fill="url(#na)"/>
<circle cx="137.8" cy="787.0" r="3.2" fill="url(#cl)"/>
<circle cx="122.8" cy="812.0" r="3.2" fill="url(#cl)"/>
<circle cx="153.1" cy="816.5" r="3.2" fill="url(#cl)"/>
<circle cx="136.7" cy="804.0" r="3.2" fill="url(#cl)"/>
<circle cx="163.8" cy="791.0" r="3.2" fill="url(#cl)"/>
<circle cx="194.4" cy="786.8" r="3.2" fill="url(#cl)"/>
<circle cx="178.5" cy="816.0" r="3.2" fill="url(#cl)"/>
<circle cx="177.7" cy="798.9" r="3.2" fill="url(#cl)"/>
<circle cx="121.5" cy="829.6" r="3.2" fill="url(#cl)"/>
<circle cx="151.8" cy="834.0" r="3.2" fill="url(#cl)"/>
<circle cx="137.2" cy="858.3" r="3.2" fill="url(#cl)"/>
<circle cx="138.0" cy="841.5" r="3.2" fill="url(#cl)"/>
<circle cx="177.8" cy="829.9" r="3.2" fill="url(#cl)"/>
<circle cx="162.2" cy="858.6" r="3.2" fill="url(#cl)"/>
<circle cx="193.0" cy="854.3" r="3.2" fill="url(#cl)"/>
<circle cx="178.9" cy="846.8" r="3.2" fill="url(#cl)"/>
<circle cx="219.9" cy="787.0" r="3.2" fill="url(#cl)"/>
<circle cx="204.9" cy="812.0" r="3.2" fill="url(#cl)"/>
<circle cx="235.2" cy="816.5" r="3.2" fill="url(#cl)"/>
<circle cx="218.8" cy="804.0" r="3.2" fill="url(#cl)"/>
<circle cx="245.9" cy="791.0" r="3.2" fill="url(#cl)"/>
<circle cx="276.6" cy="786.8" r="3.2" fill="url(#cl)"/>
<circle cx="260.6" cy="816.0" r="3.2" fill="url(#cl)"/>
<circle cx="259.8" cy="798.9" r="3.2" fill="url(#cl)"/>
<circle cx="203.7" cy="829.6" r="3.2" fill="url(#cl)"/>
<circle cx="234.0" cy="834.0" r="3.2" fill="url(#cl)"/>
<circle cx="219.3" cy="858.3" r="3.2" fill="url(#cl)"/>
<circle cx="220.1" cy="841.5" r="3.2" fill="url(#cl)"/>
<circle cx="260.0" cy="829.9" r="3.2" fill="url(#cl)"/>
<circle cx="244.3" cy="858.6" r="3.2" fill="url(#cl)"/>
<circle cx="275.1" cy="854.3" r="3.2" fill="url(#cl)"/>
<circle cx="261.1" cy="846.8" r="3.2" fill="url(#cl)"/>
<circle cx="137.8" cy="701.6" r="3.2" fill="url(#cl)"/>
<circle cx="122.8" cy="726.7" r="3.2" fill="url(#cl)"/>
<circle cx="153.1" cy="731.1" r="3.2" fill="url(#cl)"/>
<circle cx="136.7" cy="718.7" r="3.2" fill="url(#cl)"/>
<circle cx="163.8" cy="705.6" r="3.2" fill="url(#cl)"/>
<circle cx="194.4" cy="701.5" r="3.2" fill="url(#cl)"/>
<circle cx="178.5" cy="730.7" r="3.2" fill="url(#cl)"/>
<circle cx="177.7" cy="713.6" r="3.2" fill="url(#cl)"/>
<circle cx="121.5" cy="744.2" r="3.2" fill="url(#cl)"/>
<circle cx="151.8" cy="748.7" r="3.2" fill="url(#cl)"/>
<circle cx="137.2" cy="772.9" r="3.2" fill="url(#cl)"/>
<circle cx="138.0" cy="756.2" r="3.2" fill="url(#cl)"/>
<circle cx="177.8" cy="744.5" r="3.2" fill="url(#cl)"/>
<circle cx="162.2" cy="773.3" r="3.2" fill="url(#cl)"/>
<circle cx="193.0" cy="768.9" r="3.2" fill="url(#cl)"/>
<circle cx="178.9" cy="761.5" r="3.2" fill="url(#cl)"/>
<circle cx="219.9" cy="701.6" r="3.2" fill="url(#cl)"/>
<circle cx="204.9" cy="726.7" r="3.2" fill="url(#cl)"/>
<circle cx="235.2" cy="731.1" r="3.2" fill="url(#cl)"/>
<circle cx="218.8" cy="718.7" r="3.2" fill="url(#cl)"/>
<circle cx="245.9" cy="705.6" r="3.2" fill="url(#cl)"/>
<circle cx="276.6" cy="701.5" r="3.2" fill="url(#cl)"/>
<circle cx="260.6" cy="730.7" r="3.2" fill="url(#cl)"/>
<circle cx="259.8" cy="713.6" r="3.2" fill="url(#cl)"/>
<circle cx="203.7" cy="744.2" r="3.2" fill="url(#cl)"/>
<circle cx="234.0" cy="748.7" r="3.2" fill="url(#cl)"/>
<circle cx="219.3" cy="772.9" r="3.2" fill="url(#cl)"/>
<circle cx="220.1" cy="756.2" r="3.2" fill="url(#cl)"/>
<circle cx="260.0" cy="744.5" r="3.2" fill="url(#cl)"/>
<circle cx="244.3" cy="773.3" r="3.2" fill="url(#cl)"/>
<circle cx="275.1" cy="768.9" r="3.2" fill="url(#cl)"/>
<circle cx="261.1" cy="761.5" r="3.2" fill="url(#cl)"/>
<circle cx="112.4" cy="786.8" r="3.2" fill="url(#cl)"/>
<circle cx="287.1" cy="812.0" r="3.2" fill="url(#cl)"/>
<circle cx="285.8" cy="829.6" r="3.2" fill="url(#cl)"/>
<circle cx="112.4" cy="701.5" r="3.2" fill="url(#cl)"/>
<circle cx="287.1" cy="726.7" r="3.2" fill="url(#cl)"/>
<circle cx="285.8" cy="744.2" r="3.2" fill="url(#cl)"/>
<circle cx="110.8" cy="768.9" r="3.2" fill="url(#cl)"/></g>
<g id="pb2"><rect x="104.6" y="1028.2" width="92.8" height="56.1" fill="none" stroke="#7a7a7a" stroke-width="1.1"/>
<polygon points="125.3,954.0 116.9,982.7 143.6,982.7" fill="#2b80dc"/><polygon points="125.3,954.0 111.7,979.6 116.9,982.7" fill="#1a5fb4"/><circle cx="124.5" cy="974.8" r="3.8" fill="url(#fe)" opacity="0.8"/><path d="M125.3 954.0L116.9 982.7" stroke="#ffffff" stroke-width="0.7" fill="none" stroke-opacity="0.7"/>
<polygon points="112.2,1018.1 138.9,1017.7 130.4,1046.4" fill="#2b80dc"/><polygon points="138.9,1017.7 143.6,1020.5 130.4,1046.4" fill="#1a5fb4"/><circle cx="131.4" cy="1025.5" r="3.8" fill="url(#fe)" opacity="0.8"/><path d="M138.9 1017.7L130.4 1046.4" stroke="#ffffff" stroke-width="0.7" fill="none" stroke-opacity="0.7"/>
<polygon points="125.3,1010.2 116.9,1038.9 143.6,1038.9" fill="#2b80dc"/><polygon points="125.3,1010.2 111.7,1035.7 116.9,1038.9" fill="#1a5fb4"/><circle cx="124.5" cy="1030.9" r="3.8" fill="url(#fe)" opacity="0.8"/><path d="M125.3 1010.2L116.9 1038.9" stroke="#ffffff" stroke-width="0.7" fill="none" stroke-opacity="0.7"/>
<polygon points="112.2,1074.0 138.9,1073.5 130.4,1102.2" fill="#2b80dc"/><polygon points="138.9,1073.5 143.6,1076.4 130.4,1102.2" fill="#1a5fb4"/><circle cx="131.4" cy="1081.3" r="3.8" fill="url(#fe)" opacity="0.8"/><path d="M138.9 1073.5L130.4 1102.2" stroke="#ffffff" stroke-width="0.7" fill="none" stroke-opacity="0.7"/>
<polygon points="158.5,992.3 189.9,990.2 171.6,1018.1" fill="#3f8fe4"/><polygon points="158.5,992.3 163.3,989.4 189.9,990.2" fill="#1a5fb4"/><polygon points="176.7,982.3 158.5,1010.5 185.1,1011.0" fill="#2b80dc"/><polygon points="176.7,982.3 185.1,1011.0 189.9,1008.1" fill="#1a5fb4"/><circle cx="177.5" cy="1003.0" r="3.8" fill="url(#fe)" opacity="0.8"/><path d="M176.7 982.3L185.1 1011.0" stroke="#ffffff" stroke-width="0.7" fill="none" stroke-opacity="0.7"/>
<polygon points="158.5,1048.1 189.9,1046.1 171.6,1074.0" fill="#3f8fe4"/><polygon points="158.5,1048.1 163.3,1045.3 189.9,1046.1" fill="#1a5fb4"/><polygon points="176.7,1038.1 158.5,1066.3 185.1,1066.8" fill="#2b80dc"/><polygon points="176.7,1038.1 185.1,1066.8 189.9,1063.9" fill="#1a5fb4"/><circle cx="177.5" cy="1058.8" r="3.8" fill="url(#fe)" opacity="0.8"/><path d="M176.7 1038.1L185.1 1066.8" stroke="#ffffff" stroke-width="0.7" fill="none" stroke-opacity="0.7"/>
<polygon points="217.8,954.0 209.4,982.7 236.1,982.7" fill="#2b80dc"/><polygon points="217.8,954.0 204.3,979.6 209.4,982.7" fill="#1a5fb4"/><circle cx="217.0" cy="974.8" r="3.8" fill="url(#fe)" opacity="0.8"/><path d="M217.8 954.0L209.4 982.7" stroke="#ffffff" stroke-width="0.7" fill="none" stroke-opacity="0.7"/>
<polygon points="204.7,1018.1 231.4,1017.7 222.9,1046.4" fill="#2b80dc"/><polygon points="231.4,1017.7 236.1,1020.5 222.9,1046.4" fill="#1a5fb4"/><circle cx="223.9" cy="1025.5" r="3.8" fill="url(#fe)" opacity="0.8"/><path d="M231.4 1017.7L222.9 1046.4" stroke="#ffffff" stroke-width="0.7" fill="none" stroke-opacity="0.7"/>
<polygon points="217.8,1010.2 209.4,1038.9 236.1,1038.9" fill="#2b80dc"/><polygon points="217.8,1010.2 204.3,1035.7 209.4,1038.9" fill="#1a5fb4"/><circle cx="217.0" cy="1030.9" r="3.8" fill="url(#fe)" opacity="0.8"/><path d="M217.8 1010.2L209.4 1038.9" stroke="#ffffff" stroke-width="0.7" fill="none" stroke-opacity="0.7"/>
<polygon points="204.7,1074.0 231.4,1073.5 222.9,1102.2" fill="#2b80dc"/><polygon points="231.4,1073.5 236.1,1076.4 222.9,1102.2" fill="#1a5fb4"/><circle cx="223.9" cy="1081.3" r="3.8" fill="url(#fe)" opacity="0.8"/><path d="M231.4 1073.5L222.9 1102.2" stroke="#ffffff" stroke-width="0.7" fill="none" stroke-opacity="0.7"/>
<polygon points="251.0,992.3 282.4,990.2 264.1,1018.1" fill="#3f8fe4"/><polygon points="251.0,992.3 255.8,989.4 282.4,990.2" fill="#1a5fb4"/><polygon points="269.2,982.3 251.0,1010.5 277.6,1011.0" fill="#2b80dc"/><polygon points="269.2,982.3 277.6,1011.0 282.4,1008.1" fill="#1a5fb4"/><circle cx="270.0" cy="1003.0" r="3.8" fill="url(#fe)" opacity="0.8"/><path d="M269.2 982.3L277.6 1011.0" stroke="#ffffff" stroke-width="0.7" fill="none" stroke-opacity="0.7"/>
<polygon points="251.0,1048.1 282.4,1046.1 264.1,1074.0" fill="#3f8fe4"/><polygon points="251.0,1048.1 255.8,1045.3 282.4,1046.1" fill="#1a5fb4"/><polygon points="269.2,1038.1 251.0,1066.3 277.6,1066.8" fill="#2b80dc"/><polygon points="269.2,1038.1 277.6,1066.8 282.4,1063.9" fill="#1a5fb4"/><circle cx="270.0" cy="1058.8" r="3.8" fill="url(#fe)" opacity="0.8"/><path d="M269.2 1038.1L277.6 1066.8" stroke="#ffffff" stroke-width="0.7" fill="none" stroke-opacity="0.7"/>
<circle cx="138.4" cy="997.7" r="6.7" fill="url(#na)"/>
<circle cx="117.3" cy="1002.7" r="6.7" fill="url(#na)"/>
<circle cx="138.4" cy="1053.7" r="6.7" fill="url(#na)"/>
<circle cx="117.3" cy="1058.8" r="6.7" fill="url(#na)"/>
<circle cx="184.6" cy="974.8" r="6.7" fill="url(#na)"/>
<circle cx="163.6" cy="1025.6" r="6.7" fill="url(#na)"/>
<circle cx="184.6" cy="1030.6" r="6.7" fill="url(#na)"/>
<circle cx="163.6" cy="1081.6" r="6.7" fill="url(#na)"/>
<circle cx="230.9" cy="997.7" r="6.7" fill="url(#na)"/>
<circle cx="209.8" cy="1002.7" r="6.7" fill="url(#na)"/>
<circle cx="230.9" cy="1053.7" r="6.7" fill="url(#na)"/>
<circle cx="209.8" cy="1058.8" r="6.7" fill="url(#na)"/>
<circle cx="277.1" cy="974.8" r="6.7" fill="url(#na)"/>
<circle cx="256.1" cy="1025.6" r="6.7" fill="url(#na)"/>
<circle cx="277.1" cy="1030.6" r="6.7" fill="url(#na)"/>
<circle cx="256.1" cy="1081.6" r="6.7" fill="url(#na)"/>
<circle cx="125.3" cy="954.0" r="3.2" fill="url(#cl)"/>
<circle cx="111.7" cy="979.6" r="3.2" fill="url(#cl)"/>
<circle cx="116.9" cy="982.7" r="3.2" fill="url(#cl)"/>
<circle cx="143.6" cy="982.7" r="3.2" fill="url(#cl)"/>
<circle cx="112.2" cy="1018.1" r="3.2" fill="url(#cl)"/>
<circle cx="138.9" cy="1017.7" r="3.2" fill="url(#cl)"/>
<circle cx="143.6" cy="1020.5" r="3.2" fill="url(#cl)"/>
<circle cx="130.4" cy="1046.4" r="3.2" fill="url(#cl)"/>
<circle cx="125.3" cy="1010.2" r="3.2" fill="url(#cl)"/>
<circle cx="111.7" cy="1035.7" r="3.2" fill="url(#cl)"/>
<circle cx="116.9" cy="1038.9" r="3.2" fill="url(#cl)"/>
<circle cx="143.6" cy="1038.9" r="3.2" fill="url(#cl)"/>
<circle cx="112.2" cy="1074.0" r="3.2" fill="url(#cl)"/>
<circle cx="138.9" cy="1073.5" r="3.2" fill="url(#cl)"/>
<circle cx="143.6" cy="1076.4" r="3.2" fill="url(#cl)"/>
<circle cx="130.4" cy="1102.2" r="3.2" fill="url(#cl)"/>
<circle cx="130.4" cy="990.7" r="3.2" fill="url(#cl)"/>
<circle cx="125.3" cy="1066.0" r="3.2" fill="url(#cl)"/>
<circle cx="158.5" cy="992.3" r="3.2" fill="url(#cl)"/>
<circle cx="163.3" cy="989.4" r="3.2" fill="url(#cl)"/>
<circle cx="189.9" cy="990.2" r="3.2" fill="url(#cl)"/>
<circle cx="158.5" cy="1048.1" r="3.2" fill="url(#cl)"/>
<circle cx="163.3" cy="1045.3" r="3.2" fill="url(#cl)"/>
<circle cx="189.9" cy="1046.1" r="3.2" fill="url(#cl)"/>
<circle cx="189.9" cy="952.0" r="3.2" fill="url(#cl)"/>
<circle cx="171.2" cy="962.3" r="3.2" fill="url(#cl)"/>
<circle cx="176.7" cy="1094.2" r="3.2" fill="url(#cl)"/>
<circle cx="158.5" cy="1104.3" r="3.2" fill="url(#cl)"/>
<circle cx="217.8" cy="954.0" r="3.2" fill="url(#cl)"/>
<circle cx="204.3" cy="979.6" r="3.2" fill="url(#cl)"/>
<circle cx="209.4" cy="982.7" r="3.2" fill="url(#cl)"/>
<circle cx="236.1" cy="982.7" r="3.2" fill="url(#cl)"/>
<circle cx="204.7" cy="1018.1" r="3.2" fill="url(#cl)"/>
<circle cx="231.4" cy="1017.7" r="3.2" fill="url(#cl)"/>
<circle cx="236.1" cy="1020.5" r="3.2" fill="url(#cl)"/>
<circle cx="222.9" cy="1046.4" r="3.2" fill="url(#cl)"/>
<circle cx="217.8" cy="1010.2" r="3.2" fill="url(#cl)"/>
<circle cx="204.3" cy="1035.7" r="3.2" fill="url(#cl)"/>
<circle cx="209.4" cy="1038.9" r="3.2" fill="url(#cl)"/>
<circle cx="236.1" cy="1038.9" r="3.2" fill="url(#cl)"/>
<circle cx="204.7" cy="1074.0" r="3.2" fill="url(#cl)"/>
<circle cx="231.4" cy="1073.5" r="3.2" fill="url(#cl)"/>
<circle cx="236.1" cy="1076.4" r="3.2" fill="url(#cl)"/>
<circle cx="222.9" cy="1102.2" r="3.2" fill="url(#cl)"/>
<circle cx="222.9" cy="990.7" r="3.2" fill="url(#cl)"/>
<circle cx="217.8" cy="1066.0" r="3.2" fill="url(#cl)"/>
<circle cx="251.0" cy="992.3" r="3.2" fill="url(#cl)"/>
<circle cx="255.8" cy="989.4" r="3.2" fill="url(#cl)"/>
<circle cx="282.4" cy="990.2" r="3.2" fill="url(#cl)"/>
<circle cx="251.0" cy="1048.1" r="3.2" fill="url(#cl)"/>
<circle cx="255.8" cy="1045.3" r="3.2" fill="url(#cl)"/>
<circle cx="282.4" cy="1046.1" r="3.2" fill="url(#cl)"/>
<circle cx="282.4" cy="952.0" r="3.2" fill="url(#cl)"/>
<circle cx="263.7" cy="962.3" r="3.2" fill="url(#cl)"/>
<circle cx="269.2" cy="1094.2" r="3.2" fill="url(#cl)"/>
<circle cx="251.0" cy="1104.3" r="3.2" fill="url(#cl)"/>
<circle cx="176.7" cy="982.3" r="3.2" fill="url(#cl)"/>
<circle cx="158.5" cy="1010.5" r="3.2" fill="url(#cl)"/>
<circle cx="185.1" cy="1011.0" r="3.2" fill="url(#cl)"/>
<circle cx="189.9" cy="1008.1" r="3.2" fill="url(#cl)"/>
<circle cx="171.6" cy="1018.1" r="3.2" fill="url(#cl)"/>
<circle cx="176.7" cy="1038.1" r="3.2" fill="url(#cl)"/>
<circle cx="158.5" cy="1066.3" r="3.2" fill="url(#cl)"/>
<circle cx="185.1" cy="1066.8" r="3.2" fill="url(#cl)"/>
<circle cx="189.9" cy="1063.9" r="3.2" fill="url(#cl)"/>
<circle cx="171.6" cy="1074.0" r="3.2" fill="url(#cl)"/>
<circle cx="269.2" cy="982.3" r="3.2" fill="url(#cl)"/>
<circle cx="251.0" cy="1010.5" r="3.2" fill="url(#cl)"/>
<circle cx="277.6" cy="1011.0" r="3.2" fill="url(#cl)"/>
<circle cx="282.4" cy="1008.1" r="3.2" fill="url(#cl)"/>
<circle cx="264.1" cy="1018.1" r="3.2" fill="url(#cl)"/>
<circle cx="269.2" cy="1038.1" r="3.2" fill="url(#cl)"/>
<circle cx="251.0" cy="1066.3" r="3.2" fill="url(#cl)"/>
<circle cx="277.6" cy="1066.8" r="3.2" fill="url(#cl)"/>
<circle cx="282.4" cy="1063.9" r="3.2" fill="url(#cl)"/>
<circle cx="264.1" cy="1074.0" r="3.2" fill="url(#cl)"/></g>
<g id="pb3"><polygon points="168.3,1186.4 165.1,1219.7 194.9,1204.7" fill="#2a80e0"/>
<circle cx="173.7" cy="1203.0" r="3.8" fill="url(#fe)" opacity="0.9"/>
<path d="M173.7 1203.0L194.9 1204.7" stroke="#fff" stroke-width="0.6" fill="none" stroke-opacity="0.4"/>
<circle cx="202.1" cy="1204.7" r="3.8" fill="url(#fe)"/>
<polygon points="193.8,1187.8 196.8,1221.3 222.8,1203.4" fill="#2f7bc8" fill-opacity="0.92"/>
<path d="M202.1 1204.7L222.8 1203.4" stroke="#fff" stroke-width="0.6" fill="none" stroke-opacity="0.5"/>
<polygon points="129.0,1247.8 158.5,1232.9 155.3,1266.4" fill="#2a80e0"/>
<circle cx="150.2" cy="1250.0" r="3.8" fill="url(#fe)" opacity="0.9"/>
<path d="M150.2 1250.0L129.0 1247.8" stroke="#fff" stroke-width="0.6" fill="none" stroke-opacity="0.4"/>
<circle cx="178.9" cy="1247.8" r="3.8" fill="url(#fe)"/>
<polygon points="157.7,1250.0 184.1,1231.3 186.9,1264.8" fill="#1a66c2" fill-opacity="0.9"/>
<path d="M178.9 1247.8L157.7 1250.0" stroke="#fff" stroke-width="0.6" fill="none" stroke-opacity="0.5"/>
<polygon points="225.4,1186.4 222.2,1219.7 252.0,1204.7" fill="#2a80e0"/>
<circle cx="230.8" cy="1203.0" r="3.8" fill="url(#fe)" opacity="0.9"/>
<path d="M230.8 1203.0L252.0 1204.7" stroke="#fff" stroke-width="0.6" fill="none" stroke-opacity="0.4"/>
<circle cx="259.2" cy="1204.7" r="3.8" fill="url(#fe)"/>
<polygon points="250.9,1187.8 253.9,1221.3 280.2,1203.4" fill="#2f7bc8" fill-opacity="0.92"/>
<path d="M259.2 1204.7L280.2 1203.4" stroke="#fff" stroke-width="0.6" fill="none" stroke-opacity="0.5"/>
<polygon points="186.1,1247.8 215.6,1232.9 212.4,1266.4" fill="#2a80e0"/>
<circle cx="207.3" cy="1250.0" r="3.8" fill="url(#fe)" opacity="0.9"/>
<path d="M207.3 1250.0L186.1 1247.8" stroke="#fff" stroke-width="0.6" fill="none" stroke-opacity="0.4"/>
<circle cx="236.0" cy="1247.8" r="3.8" fill="url(#fe)"/>
<polygon points="214.8,1250.0 241.1,1231.3 244.0,1264.8" fill="#1a66c2" fill-opacity="0.9"/>
<path d="M236.0 1247.8L214.8 1250.0" stroke="#fff" stroke-width="0.6" fill="none" stroke-opacity="0.5"/>
<polygon points="168.3,1276.5 165.1,1309.8 194.9,1294.8" fill="#2a80e0"/>
<circle cx="173.7" cy="1293.1" r="3.8" fill="url(#fe)" opacity="0.9"/>
<path d="M173.7 1293.1L194.9 1294.8" stroke="#fff" stroke-width="0.6" fill="none" stroke-opacity="0.4"/>
<circle cx="202.1" cy="1294.8" r="3.8" fill="url(#fe)"/>
<polygon points="193.8,1277.9 196.8,1311.4 222.8,1293.5" fill="#2f7bc8" fill-opacity="0.92"/>
<path d="M202.1 1294.8L222.8 1293.5" stroke="#fff" stroke-width="0.6" fill="none" stroke-opacity="0.5"/>
<polygon points="129.0,1337.9 158.5,1323.0 155.3,1356.5" fill="#2a80e0"/>
<circle cx="150.2" cy="1340.1" r="3.8" fill="url(#fe)" opacity="0.9"/>
<path d="M150.2 1340.1L129.0 1337.9" stroke="#fff" stroke-width="0.6" fill="none" stroke-opacity="0.4"/>
<circle cx="178.9" cy="1337.9" r="3.8" fill="url(#fe)"/>
<polygon points="157.7,1340.1 184.1,1321.5 186.9,1354.9" fill="#1a66c2" fill-opacity="0.9"/>
<path d="M178.9 1337.9L157.7 1340.1" stroke="#fff" stroke-width="0.6" fill="none" stroke-opacity="0.5"/>
<polygon points="225.4,1276.5 222.2,1309.8 252.0,1294.8" fill="#2a80e0"/>
<circle cx="230.8" cy="1293.1" r="3.8" fill="url(#fe)" opacity="0.9"/>
<path d="M230.8 1293.1L252.0 1294.8" stroke="#fff" stroke-width="0.6" fill="none" stroke-opacity="0.4"/>
<circle cx="259.2" cy="1294.8" r="3.8" fill="url(#fe)"/>
<polygon points="250.9,1277.9 253.9,1311.4 280.2,1293.5" fill="#2f7bc8" fill-opacity="0.92"/>
<path d="M259.2 1294.8L280.2 1293.5" stroke="#fff" stroke-width="0.6" fill="none" stroke-opacity="0.5"/>
<polygon points="186.1,1337.9 215.6,1323.0 212.4,1356.5" fill="#2a80e0"/>
<circle cx="207.3" cy="1340.1" r="3.8" fill="url(#fe)" opacity="0.9"/>
<path d="M207.3 1340.1L186.1 1337.9" stroke="#fff" stroke-width="0.6" fill="none" stroke-opacity="0.4"/>
<circle cx="236.0" cy="1337.9" r="3.8" fill="url(#fe)"/>
<polygon points="214.8,1340.1 241.1,1321.5 244.0,1354.9" fill="#1a66c2" fill-opacity="0.9"/>
<path d="M236.0 1337.9L214.8 1340.1" stroke="#fff" stroke-width="0.6" fill="none" stroke-opacity="0.5"/>
<rect x="147.4" y="1271.2" width="57.1" height="90.6" fill="none" stroke="#7a7a7a" stroke-width="1.1"/>
<circle cx="178.9" cy="1184.0" r="6.7" fill="url(#na)"/>
<circle cx="150.2" cy="1223.4" r="6.7" fill="url(#na)"/>
<circle cx="173.7" cy="1228.9" r="6.7" fill="url(#na)"/>
<circle cx="236.0" cy="1184.0" r="6.7" fill="url(#na)"/>
<circle cx="207.3" cy="1223.4" r="6.7" fill="url(#na)"/>
<circle cx="230.8" cy="1228.9" r="6.7" fill="url(#na)"/>
<circle cx="178.9" cy="1274.1" r="6.7" fill="url(#na)"/>
<circle cx="150.2" cy="1313.5" r="6.7" fill="url(#na)"/>
<circle cx="173.7" cy="1319.1" r="6.7" fill="url(#na)"/>
<circle cx="236.0" cy="1274.1" r="6.7" fill="url(#na)"/>
<circle cx="207.3" cy="1313.5" r="6.7" fill="url(#na)"/>
<circle cx="230.8" cy="1319.1" r="6.7" fill="url(#na)"/>
<circle cx="202.1" cy="1268.5" r="6.7" fill="url(#na)"/>
<circle cx="259.2" cy="1268.5" r="6.7" fill="url(#na)"/>
<circle cx="202.1" cy="1358.6" r="6.7" fill="url(#na)"/>
<circle cx="259.2" cy="1358.6" r="6.7" fill="url(#na)"/>
<circle cx="168.3" cy="1186.4" r="3.2" fill="url(#cl)"/>
<circle cx="165.1" cy="1219.7" r="3.2" fill="url(#cl)"/>
<circle cx="194.9" cy="1204.7" r="3.2" fill="url(#cl)"/>
<circle cx="165.1" cy="1203.4" r="3.2" fill="url(#cl)"/>
<circle cx="193.8" cy="1187.8" r="3.2" fill="url(#cl)"/>
<circle cx="196.8" cy="1221.3" r="3.2" fill="url(#cl)"/>
<circle cx="222.8" cy="1203.4" r="3.2" fill="url(#cl)"/>
<circle cx="129.0" cy="1247.8" r="3.2" fill="url(#cl)"/>
<circle cx="158.5" cy="1232.9" r="3.2" fill="url(#cl)"/>
<circle cx="155.3" cy="1266.4" r="3.2" fill="url(#cl)"/>
<circle cx="157.7" cy="1250.0" r="3.2" fill="url(#cl)"/>
<circle cx="157.7" cy="1250.0" r="3.2" fill="url(#cl)"/>
<circle cx="184.1" cy="1231.3" r="3.2" fill="url(#cl)"/>
<circle cx="186.9" cy="1264.8" r="3.2" fill="url(#cl)"/>
<circle cx="186.4" cy="1248.4" r="3.2" fill="url(#cl)"/>
<circle cx="155.3" cy="1176.3" r="3.2" fill="url(#cl)"/>
<circle cx="186.9" cy="1174.7" r="3.2" fill="url(#cl)"/>
<circle cx="225.4" cy="1186.4" r="3.2" fill="url(#cl)"/>
<circle cx="222.2" cy="1219.7" r="3.2" fill="url(#cl)"/>
<circle cx="252.0" cy="1204.7" r="3.2" fill="url(#cl)"/>
<circle cx="222.2" cy="1203.4" r="3.2" fill="url(#cl)"/>
<circle cx="250.9" cy="1187.8" r="3.2" fill="url(#cl)"/>
<circle cx="253.9" cy="1221.3" r="3.2" fill="url(#cl)"/>
<circle cx="280.2" cy="1203.4" r="3.2" fill="url(#cl)"/>
<circle cx="186.1" cy="1247.8" r="3.2" fill="url(#cl)"/>
<circle cx="215.6" cy="1232.9" r="3.2" fill="url(#cl)"/>
<circle cx="212.4" cy="1266.4" r="3.2" fill="url(#cl)"/>
<circle cx="214.8" cy="1250.0" r="3.2" fill="url(#cl)"/>
<circle cx="214.8" cy="1250.0" r="3.2" fill="url(#cl)"/>
<circle cx="241.1" cy="1231.3" r="3.2" fill="url(#cl)"/>
<circle cx="244.0" cy="1264.8" r="3.2" fill="url(#cl)"/>
<circle cx="243.5" cy="1248.4" r="3.2" fill="url(#cl)"/>
<circle cx="212.4" cy="1176.3" r="3.2" fill="url(#cl)"/>
<circle cx="244.0" cy="1174.7" r="3.2" fill="url(#cl)"/>
<circle cx="137.5" cy="1205.0" r="3.2" fill="url(#cl)"/>
<circle cx="126.8" cy="1231.3" r="3.2" fill="url(#cl)"/>
<circle cx="241.1" cy="1231.3" r="3.2" fill="url(#cl)"/>
<circle cx="243.5" cy="1248.4" r="3.2" fill="url(#cl)"/>
<circle cx="271.9" cy="1250.0" r="3.2" fill="url(#cl)"/>
<circle cx="244.3" cy="1264.8" r="3.2" fill="url(#cl)"/>
<circle cx="168.3" cy="1276.5" r="3.2" fill="url(#cl)"/>
<circle cx="165.1" cy="1309.8" r="3.2" fill="url(#cl)"/>
<circle cx="194.9" cy="1294.8" r="3.2" fill="url(#cl)"/>
<circle cx="165.1" cy="1293.5" r="3.2" fill="url(#cl)"/>
<circle cx="193.8" cy="1277.9" r="3.2" fill="url(#cl)"/>
<circle cx="196.8" cy="1311.4" r="3.2" fill="url(#cl)"/>
<circle cx="222.8" cy="1293.5" r="3.2" fill="url(#cl)"/>
<circle cx="129.0" cy="1337.9" r="3.2" fill="url(#cl)"/>
<circle cx="158.5" cy="1323.0" r="3.2" fill="url(#cl)"/>
<circle cx="155.3" cy="1356.5" r="3.2" fill="url(#cl)"/>
<circle cx="157.7" cy="1340.1" r="3.2" fill="url(#cl)"/>
<circle cx="157.7" cy="1340.1" r="3.2" fill="url(#cl)"/>
<circle cx="184.1" cy="1321.5" r="3.2" fill="url(#cl)"/>
<circle cx="186.9" cy="1354.9" r="3.2" fill="url(#cl)"/>
<circle cx="186.4" cy="1338.5" r="3.2" fill="url(#cl)"/>
<circle cx="155.3" cy="1266.4" r="3.2" fill="url(#cl)"/>
<circle cx="186.9" cy="1264.8" r="3.2" fill="url(#cl)"/>
<circle cx="225.4" cy="1276.5" r="3.2" fill="url(#cl)"/>
<circle cx="222.2" cy="1309.8" r="3.2" fill="url(#cl)"/>
<circle cx="252.0" cy="1294.8" r="3.2" fill="url(#cl)"/>
<circle cx="222.2" cy="1293.5" r="3.2" fill="url(#cl)"/>
<circle cx="250.9" cy="1277.9" r="3.2" fill="url(#cl)"/>
<circle cx="253.9" cy="1311.4" r="3.2" fill="url(#cl)"/>
<circle cx="280.2" cy="1293.5" r="3.2" fill="url(#cl)"/>
<circle cx="186.1" cy="1337.9" r="3.2" fill="url(#cl)"/>
<circle cx="215.6" cy="1323.0" r="3.2" fill="url(#cl)"/>
<circle cx="212.4" cy="1356.5" r="3.2" fill="url(#cl)"/>
<circle cx="214.8" cy="1340.1" r="3.2" fill="url(#cl)"/>
<circle cx="214.8" cy="1340.1" r="3.2" fill="url(#cl)"/>
<circle cx="241.1" cy="1321.5" r="3.2" fill="url(#cl)"/>
<circle cx="244.0" cy="1354.9" r="3.2" fill="url(#cl)"/>
<circle cx="243.5" cy="1338.5" r="3.2" fill="url(#cl)"/>
<circle cx="212.4" cy="1266.4" r="3.2" fill="url(#cl)"/>
<circle cx="244.0" cy="1264.8" r="3.2" fill="url(#cl)"/>
<circle cx="137.5" cy="1295.1" r="3.2" fill="url(#cl)"/>
<circle cx="126.8" cy="1321.5" r="3.2" fill="url(#cl)"/>
<circle cx="241.1" cy="1321.5" r="3.2" fill="url(#cl)"/>
<circle cx="243.5" cy="1338.5" r="3.2" fill="url(#cl)"/>
<circle cx="271.9" cy="1340.1" r="3.2" fill="url(#cl)"/>
<circle cx="244.3" cy="1354.9" r="3.2" fill="url(#cl)"/>
<circle cx="282.6" cy="1276.5" r="3.2" fill="url(#cl)"/>
<circle cx="193.8" cy="1368.0" r="3.2" fill="url(#cl)"/>
<circle cx="225.4" cy="1366.6" r="3.2" fill="url(#cl)"/>
<circle cx="250.9" cy="1368.0" r="3.2" fill="url(#cl)"/>
<circle cx="282.6" cy="1366.6" r="3.2" fill="url(#cl)"/>
<circle cx="155.3" cy="1356.5" r="3.2" fill="url(#cl)"/>
<circle cx="186.9" cy="1354.9" r="3.2" fill="url(#cl)"/>
<circle cx="212.4" cy="1356.5" r="3.2" fill="url(#cl)"/>
<circle cx="244.3" cy="1354.9" r="3.2" fill="url(#cl)"/></g>
<g id="pc1"><polygon points="527.4,697.1 556.3,726.0 527.4,754.8 498.4,726.0" fill="#7aa9da" fill-opacity="0.95" stroke="#c9c4bf" stroke-width="0.5" stroke-linejoin="round"/>
<polygon points="469.5,754.8 498.4,783.6 469.5,812.5 440.6,783.6" fill="#7aa9da" fill-opacity="0.95" stroke="#c9c4bf" stroke-width="0.5" stroke-linejoin="round"/>
<polygon points="585.2,754.8 614.1,783.6 585.2,812.5 556.3,783.6" fill="#7aa9da" fill-opacity="0.95" stroke="#c9c4bf" stroke-width="0.5" stroke-linejoin="round"/>
<polygon points="527.4,812.5 556.3,841.3 527.4,870.1 498.4,841.3" fill="#7aa9da" fill-opacity="0.95" stroke="#c9c4bf" stroke-width="0.5" stroke-linejoin="round"/>
<polygon points="469.5,697.1 498.4,726.0 469.5,754.8 440.6,726.0" fill="#3b7ec6" fill-opacity="0.97" stroke="#c9c4bf" stroke-width="0.5" stroke-linejoin="round"/>
<polygon points="585.2,697.1 614.1,726.0 585.2,754.8 556.3,726.0" fill="#3b7ec6" fill-opacity="0.97" stroke="#c9c4bf" stroke-width="0.5" stroke-linejoin="round"/>
<polygon points="527.4,754.8 556.3,783.6 527.4,812.5 498.4,783.6" fill="#3b7ec6" fill-opacity="0.97" stroke="#c9c4bf" stroke-width="0.5" stroke-linejoin="round"/>
<polygon points="469.5,812.5 498.4,841.3 469.5,870.1 440.6,841.3" fill="#3b7ec6" fill-opacity="0.97" stroke="#c9c4bf" stroke-width="0.5" stroke-linejoin="round"/>
<polygon points="585.2,812.5 614.1,841.3 585.2,870.1 556.3,841.3" fill="#3b7ec6" fill-opacity="0.97" stroke="#c9c4bf" stroke-width="0.5" stroke-linejoin="round"/>
<path d="M440.6 726.0L498.4 726.0M469.5 697.1L469.5 754.8M556.3 726.0L614.1 726.0M585.2 697.1L585.2 754.8M498.4 783.6L556.3 783.6M527.4 754.8L527.4 812.5M440.6 841.3L498.4 841.3M469.5 812.5L469.5 870.1M556.3 841.3L614.1 841.3M585.2 812.5L585.2 870.1M498.4 726.0L556.3 726.0M527.4 697.1L527.4 754.8M440.6 783.6L498.4 783.6M469.5 754.8L469.5 812.5M556.3 783.6L614.1 783.6M585.2 754.8L585.2 812.5M498.4 841.3L556.3 841.3M527.4 812.5L527.4 870.1" stroke="#d8d8d8" stroke-width="0.9" fill="none" stroke-opacity="0.75"/>
<path d="M498.4 726.0L556.3 726.0M498.4 841.3L556.3 841.3M469.5 754.8L469.5 812.5M585.2 754.8L585.2 812.5" stroke="#3a3a3a" stroke-width="1.3" fill="none"/>
<circle cx="498.4" cy="726.0" r="7.7" fill="#e60f0f"/><path d="M498.4 726.0L491.9 721.9A7.7 7.7 0 0 1 498.2 718.3Z" fill="#1a7ce0"/><circle cx="498.4" cy="726.0" r="7.7" fill="url(#sh)"/>
<circle cx="556.3" cy="726.0" r="7.7" fill="#e60f0f"/><path d="M556.3 726.0L549.8 721.9A7.7 7.7 0 0 1 556.0 718.3Z" fill="#1a7ce0"/><circle cx="556.3" cy="726.0" r="7.7" fill="url(#sh)"/>
<circle cx="469.5" cy="754.8" r="7.7" fill="#e60f0f"/><path d="M469.5 754.8L463.0 750.7A7.7 7.7 0 0 1 469.2 747.1Z" fill="#1a7ce0"/><circle cx="469.5" cy="754.8" r="7.7" fill="url(#sh)"/>
<circle cx="498.4" cy="754.8" r="7.7" fill="#e60f0f"/><path d="M498.4 754.8L491.9 750.7A7.7 7.7 0 0 1 498.2 747.1Z" fill="#1a7ce0"/><circle cx="498.4" cy="754.8" r="7.7" fill="url(#sh)"/>
<circle cx="527.4" cy="754.8" r="7.7" fill="#e60f0f"/><path d="M527.4 754.8L520.8 750.7A7.7 7.7 0 0 1 527.1 747.1Z" fill="#1a7ce0"/><circle cx="527.4" cy="754.8" r="7.7" fill="url(#sh)"/>
<circle cx="556.3" cy="754.8" r="7.7" fill="#e60f0f"/><path d="M556.3 754.8L549.8 750.7A7.7 7.7 0 0 1 556.0 747.1Z" fill="#1a7ce0"/><circle cx="556.3" cy="754.8" r="7.7" fill="url(#sh)"/>
<circle cx="585.2" cy="754.8" r="7.7" fill="#e60f0f"/><path d="M585.2 754.8L578.7 750.7A7.7 7.7 0 0 1 584.9 747.1Z" fill="#1a7ce0"/><circle cx="585.2" cy="754.8" r="7.7" fill="url(#sh)"/>
<circle cx="498.4" cy="783.6" r="7.7" fill="#e60f0f"/><path d="M498.4 783.6L491.9 779.6A7.7 7.7 0 0 1 498.2 775.9Z" fill="#1a7ce0"/><circle cx="498.4" cy="783.6" r="7.7" fill="url(#sh)"/>
<circle cx="556.3" cy="783.6" r="7.7" fill="#e60f0f"/><path d="M556.3 783.6L549.8 779.6A7.7 7.7 0 0 1 556.0 775.9Z" fill="#1a7ce0"/><circle cx="556.3" cy="783.6" r="7.7" fill="url(#sh)"/>
<circle cx="469.5" cy="812.5" r="7.7" fill="#e60f0f"/><path d="M469.5 812.5L463.0 808.4A7.7 7.7 0 0 1 469.2 804.8Z" fill="#1a7ce0"/><circle cx="469.5" cy="812.5" r="7.7" fill="url(#sh)"/>
<circle cx="498.4" cy="812.5" r="7.7" fill="#e60f0f"/><path d="M498.4 812.5L491.9 808.4A7.7 7.7 0 0 1 498.2 804.8Z" fill="#1a7ce0"/><circle cx="498.4" cy="812.5" r="7.7" fill="url(#sh)"/>
<circle cx="527.4" cy="812.5" r="7.7" fill="#e60f0f"/><path d="M527.4 812.5L520.8 808.4A7.7 7.7 0 0 1 527.1 804.8Z" fill="#1a7ce0"/><circle cx="527.4" cy="812.5" r="7.7" fill="url(#sh)"/>
<circle cx="556.3" cy="812.5" r="7.7" fill="#e60f0f"/><path d="M556.3 812.5L549.8 808.4A7.7 7.7 0 0 1 556.0 804.8Z" fill="#1a7ce0"/><circle cx="556.3" cy="812.5" r="7.7" fill="url(#sh)"/>
<circle cx="585.2" cy="812.5" r="7.7" fill="#e60f0f"/><path d="M585.2 812.5L578.7 808.4A7.7 7.7 0 0 1 584.9 804.8Z" fill="#1a7ce0"/><circle cx="585.2" cy="812.5" r="7.7" fill="url(#sh)"/>
<circle cx="498.4" cy="841.3" r="7.7" fill="#e60f0f"/><path d="M498.4 841.3L491.9 837.2A7.7 7.7 0 0 1 498.2 833.6Z" fill="#1a7ce0"/><circle cx="498.4" cy="841.3" r="7.7" fill="url(#sh)"/>
<circle cx="556.3" cy="841.3" r="7.7" fill="#e60f0f"/><path d="M556.3 841.3L549.8 837.2A7.7 7.7 0 0 1 556.0 833.6Z" fill="#1a7ce0"/><circle cx="556.3" cy="841.3" r="7.7" fill="url(#sh)"/>
<circle cx="469.5" cy="726.0" r="4.9" fill="#4a3a7a" opacity=".55"/>
<circle cx="585.2" cy="726.0" r="4.9" fill="#4a3a7a" opacity=".55"/>
<circle cx="527.4" cy="783.6" r="4.9" fill="#4a3a7a" opacity=".55"/>
<circle cx="469.5" cy="841.3" r="4.9" fill="#4a3a7a" opacity=".55"/>
<circle cx="585.2" cy="841.3" r="4.9" fill="#4a3a7a" opacity=".55"/>
<circle cx="527.4" cy="726.0" r="4.9" fill="#4a3a7a" opacity=".55"/>
<circle cx="469.5" cy="783.6" r="4.9" fill="#4a3a7a" opacity=".55"/>
<circle cx="585.2" cy="783.6" r="4.9" fill="#4a3a7a" opacity=".55"/>
<circle cx="527.4" cy="841.3" r="4.9" fill="#4a3a7a" opacity=".55"/>
<circle cx="469.5" cy="697.1" r="3.9" fill="url(#cl)"/>
<circle cx="498.4" cy="697.1" r="3.9" fill="url(#cl)"/>
<circle cx="527.4" cy="697.1" r="3.9" fill="url(#cl)"/>
<circle cx="556.3" cy="697.1" r="3.9" fill="url(#cl)"/>
<circle cx="585.2" cy="697.1" r="3.9" fill="url(#cl)"/>
<circle cx="440.6" cy="726.0" r="3.9" fill="url(#cl)"/>
<circle cx="469.5" cy="726.0" r="3.9" fill="url(#cl)"/>
<circle cx="498.4" cy="726.0" r="3.9" fill="url(#cl)"/>
<circle cx="527.4" cy="726.0" r="3.9" fill="url(#cl)"/>
<circle cx="556.3" cy="726.0" r="3.9" fill="url(#cl)"/>
<circle cx="585.2" cy="726.0" r="3.9" fill="url(#cl)"/>
<circle cx="614.1" cy="726.0" r="3.9" fill="url(#cl)"/>
<circle cx="440.6" cy="754.8" r="3.9" fill="url(#cl)"/>
<circle cx="469.5" cy="754.8" r="3.9" fill="url(#cl)"/>
<circle cx="498.4" cy="754.8" r="3.9" fill="url(#cl)"/>
<circle cx="527.4" cy="754.8" r="3.9" fill="url(#cl)"/>
<circle cx="556.3" cy="754.8" r="3.9" fill="url(#cl)"/>
<circle cx="585.2" cy="754.8" r="3.9" fill="url(#cl)"/>
<circle cx="614.1" cy="754.8" r="3.9" fill="url(#cl)"/>
<circle cx="440.6" cy="783.6" r="3.9" fill="url(#cl)"/>
<circle cx="469.5" cy="783.6" r="3.9" fill="url(#cl)"/>
<circle cx="498.4" cy="783.6" r="3.9" fill="url(#cl)"/>
<circle cx="527.4" cy="783.6" r="3.9" fill="url(#cl)"/>
<circle cx="556.3" cy="783.6" r="3.9" fill="url(#cl)"/>
<circle cx="585.2" cy="783.6" r="3.9" fill="url(#cl)"/>
<circle cx="614.1" cy="783.6" r="3.9" fill="url(#cl)"/>
<circle cx="440.6" cy="812.5" r="3.9" fill="url(#cl)"/>
<circle cx="469.5" cy="812.5" r="3.9" fill="url(#cl)"/>
<circle cx="498.4" cy="812.5" r="3.9" fill="url(#cl)"/>
<circle cx="527.4" cy="812.5" r="3.9" fill="url(#cl)"/>
<circle cx="556.3" cy="812.5" r="3.9" fill="url(#cl)"/>
<circle cx="585.2" cy="812.5" r="3.9" fill="url(#cl)"/>
<circle cx="614.1" cy="812.5" r="3.9" fill="url(#cl)"/>
<circle cx="440.6" cy="841.3" r="3.9" fill="url(#cl)"/>
<circle cx="469.5" cy="841.3" r="3.9" fill="url(#cl)"/>
<circle cx="498.4" cy="841.3" r="3.9" fill="url(#cl)"/>
<circle cx="527.4" cy="841.3" r="3.9" fill="url(#cl)"/>
<circle cx="556.3" cy="841.3" r="3.9" fill="url(#cl)"/>
<circle cx="585.2" cy="841.3" r="3.9" fill="url(#cl)"/>
<circle cx="614.1" cy="841.3" r="3.9" fill="url(#cl)"/>
<circle cx="469.5" cy="870.1" r="3.9" fill="url(#cl)"/>
<circle cx="498.4" cy="870.1" r="3.9" fill="url(#cl)"/>
<circle cx="527.4" cy="870.1" r="3.9" fill="url(#cl)"/>
<circle cx="556.3" cy="870.1" r="3.9" fill="url(#cl)"/>
<circle cx="585.2" cy="870.1" r="3.9" fill="url(#cl)"/></g>
<g id="pc2"><polygon points="452.9,1026.8 471.1,1052.5 452.9,1078.2 434.7,1052.5" fill="#b7d4f1" fill-opacity="0.9" stroke="#b9c6d6" stroke-width="0.5" stroke-linejoin="round"/>
<polygon points="597.2,1026.8 615.4,1052.5 597.2,1078.2 579.1,1052.5" fill="#b7d4f1" fill-opacity="0.9" stroke="#b9c6d6" stroke-width="0.5" stroke-linejoin="round"/>
<polygon points="489.1,975.8 507.3,1001.5 489.1,1027.1 470.9,1001.5" fill="#8dbbea" fill-opacity="0.9" stroke="#b9c6d6" stroke-width="0.5" stroke-linejoin="round"/>
<polygon points="561.0,975.8 579.2,1001.5 561.0,1027.1 542.9,1001.5" fill="#8dbbea" fill-opacity="0.9" stroke="#b9c6d6" stroke-width="0.5" stroke-linejoin="round"/>
<polygon points="489.1,1078.2 507.3,1103.9 489.1,1129.5 470.9,1103.9" fill="#8dbbea" fill-opacity="0.9" stroke="#b9c6d6" stroke-width="0.5" stroke-linejoin="round"/>
<polygon points="561.0,1078.2 579.2,1103.9 561.0,1129.5 542.9,1103.9" fill="#8dbbea" fill-opacity="0.9" stroke="#b9c6d6" stroke-width="0.5" stroke-linejoin="round"/>
<polygon points="470.9,1001.3 489.1,1027.0 470.9,1052.7 452.8,1027.0" fill="#5b9fe3" fill-opacity="0.9" stroke="#b9c6d6" stroke-width="0.5" stroke-linejoin="round"/>
<polygon points="579.1,1001.3 597.2,1027.0 579.1,1052.7 560.9,1027.0" fill="#5b9fe3" fill-opacity="0.9" stroke="#b9c6d6" stroke-width="0.5" stroke-linejoin="round"/>
<polygon points="470.9,1052.7 489.1,1078.3 470.9,1104.0 452.8,1078.3" fill="#5b9fe3" fill-opacity="0.9" stroke="#b9c6d6" stroke-width="0.5" stroke-linejoin="round"/>
<polygon points="579.1,1052.7 597.2,1078.3 579.1,1104.0 560.9,1078.3" fill="#5b9fe3" fill-opacity="0.9" stroke="#b9c6d6" stroke-width="0.5" stroke-linejoin="round"/>
<polygon points="525.2,1026.8 543.3,1052.5 525.2,1078.2 507.0,1052.5" fill="#5b9fe3" fill-opacity="0.9" stroke="#b9c6d6" stroke-width="0.5" stroke-linejoin="round"/>
<polygon points="507.1,1001.3 525.3,1027.0 507.1,1052.7 489.0,1027.0" fill="#3b8ade" fill-opacity="0.9" stroke="#b9c6d6" stroke-width="0.5" stroke-linejoin="round"/>
<polygon points="543.2,1001.3 561.4,1027.0 543.2,1052.7 525.0,1027.0" fill="#3b8ade" fill-opacity="0.9" stroke="#b9c6d6" stroke-width="0.5" stroke-linejoin="round"/>
<polygon points="507.1,1052.7 525.3,1078.3 507.1,1104.0 489.0,1078.3" fill="#3b8ade" fill-opacity="0.9" stroke="#b9c6d6" stroke-width="0.5" stroke-linejoin="round"/>
<polygon points="543.2,1052.7 561.4,1078.3 543.2,1104.0 525.0,1078.3" fill="#3b8ade" fill-opacity="0.9" stroke="#b9c6d6" stroke-width="0.5" stroke-linejoin="round"/>
<path d="M452.9 1001.5H597.2V1103.9H452.9ZM525.2 1001.5V1103.9" fill="none" stroke="#8a8a8a" stroke-width="1"/>
<path d="M452.9 1027.0L597.2 1027.0M434.3 1052.5L616.1 1052.5M452.9 1078.3L597.2 1078.3" stroke="#c9c9c9" stroke-width="0.8" fill="none" stroke-opacity="0.7"/>
<circle cx="452.9" cy="1001.5" r="6.9" fill="#e60f0f"/><path d="M452.9 1001.5L447.1 997.8A6.9 6.9 0 0 1 452.7 994.6Z" fill="#1a7ce0"/><circle cx="452.9" cy="1001.5" r="6.9" fill="url(#sh)"/>
<circle cx="489.1" cy="1001.5" r="6.9" fill="#c8162f"/><path d="M489.1 1001.5L483.3 997.8A6.9 6.9 0 0 1 488.9 994.6Z" fill="#1a6ad0"/><circle cx="489.1" cy="1001.5" r="6.9" fill="url(#sh)"/>
<circle cx="525.2" cy="1001.5" r="6.9" fill="#e60f0f"/><path d="M525.2 1001.5L519.3 997.8A6.9 6.9 0 0 1 524.9 994.6Z" fill="#1a7ce0"/><circle cx="525.2" cy="1001.5" r="6.9" fill="url(#sh)"/>
<circle cx="561.0" cy="1001.5" r="6.9" fill="#c8162f"/><path d="M561.0 1001.5L555.2 997.8A6.9 6.9 0 0 1 560.8 994.6Z" fill="#1a6ad0"/><circle cx="561.0" cy="1001.5" r="6.9" fill="url(#sh)"/>
<circle cx="597.2" cy="1001.5" r="6.9" fill="#e60f0f"/><path d="M597.2 1001.5L591.4 997.8A6.9 6.9 0 0 1 597.0 994.6Z" fill="#1a7ce0"/><circle cx="597.2" cy="1001.5" r="6.9" fill="url(#sh)"/>
<circle cx="470.9" cy="1027.0" r="6.9" fill="#c8162f"/><path d="M470.9 1027.0L465.1 1023.3A6.9 6.9 0 0 1 470.7 1020.1Z" fill="#1a6ad0"/><circle cx="470.9" cy="1027.0" r="6.9" fill="url(#sh)"/>
<circle cx="507.1" cy="1027.0" r="6.9" fill="#c8162f"/><path d="M507.1 1027.0L501.3 1023.3A6.9 6.9 0 0 1 506.9 1020.1Z" fill="#1a6ad0"/><circle cx="507.1" cy="1027.0" r="6.9" fill="url(#sh)"/>
<circle cx="543.2" cy="1027.0" r="6.9" fill="#c8162f"/><path d="M543.2 1027.0L537.3 1023.3A6.9 6.9 0 0 1 542.9 1020.1Z" fill="#1a6ad0"/><circle cx="543.2" cy="1027.0" r="6.9" fill="url(#sh)"/>
<circle cx="579.1" cy="1027.0" r="6.9" fill="#c8162f"/><path d="M579.1 1027.0L573.2 1023.3A6.9 6.9 0 0 1 578.8 1020.1Z" fill="#1a6ad0"/><circle cx="579.1" cy="1027.0" r="6.9" fill="url(#sh)"/>
<circle cx="452.9" cy="1052.5" r="6.9" fill="#c8162f"/><path d="M452.9 1052.5L447.1 1048.8A6.9 6.9 0 0 1 452.7 1045.6Z" fill="#1a6ad0"/><circle cx="452.9" cy="1052.5" r="6.9" fill="url(#sh)"/>
<circle cx="489.1" cy="1052.5" r="6.9" fill="#e60f0f"/><path d="M489.1 1052.5L483.3 1048.8A6.9 6.9 0 0 1 488.9 1045.6Z" fill="#1a7ce0"/><circle cx="489.1" cy="1052.5" r="6.9" fill="url(#sh)"/>
<circle cx="525.2" cy="1052.5" r="6.9" fill="#c8162f"/><path d="M525.2 1052.5L519.3 1048.8A6.9 6.9 0 0 1 524.9 1045.6Z" fill="#1a6ad0"/><circle cx="525.2" cy="1052.5" r="6.9" fill="url(#sh)"/>
<circle cx="561.0" cy="1052.5" r="6.9" fill="#e60f0f"/><path d="M561.0 1052.5L555.2 1048.8A6.9 6.9 0 0 1 560.8 1045.6Z" fill="#1a7ce0"/><circle cx="561.0" cy="1052.5" r="6.9" fill="url(#sh)"/>
<circle cx="597.2" cy="1052.5" r="6.9" fill="#c8162f"/><path d="M597.2 1052.5L591.4 1048.8A6.9 6.9 0 0 1 597.0 1045.6Z" fill="#1a6ad0"/><circle cx="597.2" cy="1052.5" r="6.9" fill="url(#sh)"/>
<circle cx="470.9" cy="1078.3" r="6.9" fill="#c8162f"/><path d="M470.9 1078.3L465.1 1074.7A6.9 6.9 0 0 1 470.7 1071.4Z" fill="#1a6ad0"/><circle cx="470.9" cy="1078.3" r="6.9" fill="url(#sh)"/>
<circle cx="507.1" cy="1078.3" r="6.9" fill="#c8162f"/><path d="M507.1 1078.3L501.3 1074.7A6.9 6.9 0 0 1 506.9 1071.4Z" fill="#1a6ad0"/><circle cx="507.1" cy="1078.3" r="6.9" fill="url(#sh)"/>
<circle cx="543.2" cy="1078.3" r="6.9" fill="#c8162f"/><path d="M543.2 1078.3L537.3 1074.7A6.9 6.9 0 0 1 542.9 1071.4Z" fill="#1a6ad0"/><circle cx="543.2" cy="1078.3" r="6.9" fill="url(#sh)"/>
<circle cx="579.1" cy="1078.3" r="6.9" fill="#c8162f"/><path d="M579.1 1078.3L573.2 1074.7A6.9 6.9 0 0 1 578.8 1071.4Z" fill="#1a6ad0"/><circle cx="579.1" cy="1078.3" r="6.9" fill="url(#sh)"/>
<circle cx="452.9" cy="1103.9" r="6.9" fill="#e60f0f"/><path d="M452.9 1103.9L447.1 1100.2A6.9 6.9 0 0 1 452.7 1097.0Z" fill="#1a7ce0"/><circle cx="452.9" cy="1103.9" r="6.9" fill="url(#sh)"/>
<circle cx="489.1" cy="1103.9" r="6.9" fill="#c8162f"/><path d="M489.1 1103.9L483.3 1100.2A6.9 6.9 0 0 1 488.9 1097.0Z" fill="#1a6ad0"/><circle cx="489.1" cy="1103.9" r="6.9" fill="url(#sh)"/>
<circle cx="525.2" cy="1103.9" r="6.9" fill="#e60f0f"/><path d="M525.2 1103.9L519.3 1100.2A6.9 6.9 0 0 1 524.9 1097.0Z" fill="#1a7ce0"/><circle cx="525.2" cy="1103.9" r="6.9" fill="url(#sh)"/>
<circle cx="561.0" cy="1103.9" r="6.9" fill="#c8162f"/><path d="M561.0 1103.9L555.2 1100.2A6.9 6.9 0 0 1 560.8 1097.0Z" fill="#1a6ad0"/><circle cx="561.0" cy="1103.9" r="6.9" fill="url(#sh)"/>
<circle cx="597.2" cy="1103.9" r="6.9" fill="#e60f0f"/><path d="M597.2 1103.9L591.4 1100.2A6.9 6.9 0 0 1 597.0 1097.0Z" fill="#1a7ce0"/><circle cx="597.2" cy="1103.9" r="6.9" fill="url(#sh)"/>
<circle cx="489.1" cy="975.6" r="3.6" fill="url(#cl)"/>
<circle cx="525.2" cy="975.6" r="3.6" fill="url(#cl)"/>
<circle cx="561.0" cy="975.6" r="3.6" fill="url(#cl)"/>
<circle cx="470.1" cy="1001.5" r="3.6" fill="url(#cl)"/>
<circle cx="507.5" cy="1001.5" r="3.6" fill="url(#cl)"/>
<circle cx="542.5" cy="1001.5" r="3.6" fill="url(#cl)"/>
<circle cx="579.7" cy="1001.5" r="3.6" fill="url(#cl)"/>
<circle cx="452.9" cy="1027.0" r="3.6" fill="url(#cl)"/>
<circle cx="489.1" cy="1027.0" r="3.6" fill="url(#cl)"/>
<circle cx="525.2" cy="1027.0" r="3.6" fill="url(#cl)"/>
<circle cx="561.0" cy="1027.0" r="3.6" fill="url(#cl)"/>
<circle cx="597.2" cy="1027.0" r="3.6" fill="url(#cl)"/>
<circle cx="434.3" cy="1052.5" r="3.6" fill="url(#cl)"/>
<circle cx="471.6" cy="1052.5" r="3.6" fill="url(#cl)"/>
<circle cx="506.3" cy="1052.5" r="3.6" fill="url(#cl)"/>
<circle cx="543.8" cy="1052.5" r="3.6" fill="url(#cl)"/>
<circle cx="578.4" cy="1052.5" r="3.6" fill="url(#cl)"/>
<circle cx="616.1" cy="1052.5" r="3.6" fill="url(#cl)"/>
<circle cx="452.9" cy="1078.3" r="3.6" fill="url(#cl)"/>
<circle cx="489.1" cy="1078.3" r="3.6" fill="url(#cl)"/>
<circle cx="525.2" cy="1078.3" r="3.6" fill="url(#cl)"/>
<circle cx="561.0" cy="1078.3" r="3.6" fill="url(#cl)"/>
<circle cx="597.2" cy="1078.3" r="3.6" fill="url(#cl)"/>
<circle cx="470.1" cy="1103.9" r="3.6" fill="url(#cl)"/>
<circle cx="507.5" cy="1103.9" r="3.6" fill="url(#cl)"/>
<circle cx="542.5" cy="1103.9" r="3.6" fill="url(#cl)"/>
<circle cx="579.7" cy="1103.9" r="3.6" fill="url(#cl)"/>
<circle cx="489.1" cy="1129.4" r="3.6" fill="url(#cl)"/>
<circle cx="525.2" cy="1129.4" r="3.6" fill="url(#cl)"/>
<circle cx="561.0" cy="1129.4" r="3.6" fill="url(#cl)"/></g>
<g id="pc3"><path d="M527.5 1176.0L600.2 1218.2M600.2 1218.2L600.2 1302.4M600.2 1302.4L527.5 1344.3M527.5 1344.3L455.1 1302.4M455.1 1302.4L455.1 1218.2M455.1 1218.2L527.5 1176.0M527.5 1260.2L600.2 1218.2M527.5 1260.2L455.1 1218.2M527.5 1260.2L527.5 1344.3" stroke="#8a8a8a" stroke-width="1.0" fill="none"/>
<circle cx="527.5" cy="1196.9" r="6.9" fill="#e60f0f"/><path d="M527.5 1196.9L521.6 1193.3A6.9 6.9 0 0 1 527.3 1190.0Z" fill="#1a7ce0"/><circle cx="527.5" cy="1196.9" r="6.9" fill="url(#sh)"/>
<circle cx="509.6" cy="1207.3" r="6.9" fill="#e60f0f"/><path d="M509.6 1207.3L503.7 1203.6A6.9 6.9 0 0 1 509.3 1200.4Z" fill="#1a7ce0"/><circle cx="509.6" cy="1207.3" r="6.9" fill="url(#sh)"/>
<circle cx="545.6" cy="1207.3" r="6.9" fill="#e60f0f"/><path d="M545.6 1207.3L539.7 1203.6A6.9 6.9 0 0 1 545.3 1200.4Z" fill="#1a7ce0"/><circle cx="545.6" cy="1207.3" r="6.9" fill="url(#sh)"/>
<circle cx="491.5" cy="1218.2" r="6.9" fill="#e60f0f"/><path d="M491.5 1218.2L485.6 1214.5A6.9 6.9 0 0 1 491.2 1211.3Z" fill="#1a7ce0"/><circle cx="491.5" cy="1218.2" r="6.9" fill="url(#sh)"/>
<circle cx="564.0" cy="1218.2" r="6.9" fill="#e60f0f"/><path d="M564.0 1218.2L558.2 1214.5A6.9 6.9 0 0 1 563.8 1211.3Z" fill="#1a7ce0"/><circle cx="564.0" cy="1218.2" r="6.9" fill="url(#sh)"/>
<circle cx="473.6" cy="1228.2" r="6.9" fill="#e60f0f"/><path d="M473.6 1228.2L467.7 1224.6A6.9 6.9 0 0 1 473.3 1221.3Z" fill="#1a7ce0"/><circle cx="473.6" cy="1228.2" r="6.9" fill="url(#sh)"/>
<circle cx="509.6" cy="1228.2" r="6.9" fill="#e60f0f"/><path d="M509.6 1228.2L503.7 1224.6A6.9 6.9 0 0 1 509.3 1221.3Z" fill="#1a7ce0"/><circle cx="509.6" cy="1228.2" r="6.9" fill="url(#sh)"/>
<circle cx="545.6" cy="1228.2" r="6.9" fill="#e60f0f"/><path d="M545.6 1228.2L539.7 1224.6A6.9 6.9 0 0 1 545.3 1221.3Z" fill="#1a7ce0"/><circle cx="545.6" cy="1228.2" r="6.9" fill="url(#sh)"/>
<circle cx="581.9" cy="1228.2" r="6.9" fill="#e60f0f"/><path d="M581.9 1228.2L576.1 1224.6A6.9 6.9 0 0 1 581.7 1221.3Z" fill="#1a7ce0"/><circle cx="581.9" cy="1228.2" r="6.9" fill="url(#sh)"/>
<circle cx="527.5" cy="1239.1" r="6.9" fill="#e60f0f"/><path d="M527.5 1239.1L521.6 1235.5A6.9 6.9 0 0 1 527.3 1232.2Z" fill="#1a7ce0"/><circle cx="527.5" cy="1239.1" r="6.9" fill="url(#sh)"/>
<circle cx="473.6" cy="1249.2" r="6.9" fill="#e60f0f"/><path d="M473.6 1249.2L467.7 1245.5A6.9 6.9 0 0 1 473.3 1242.3Z" fill="#1a7ce0"/><circle cx="473.6" cy="1249.2" r="6.9" fill="url(#sh)"/>
<circle cx="509.6" cy="1249.7" r="6.9" fill="#e60f0f"/><path d="M509.6 1249.7L503.7 1246.0A6.9 6.9 0 0 1 509.3 1242.8Z" fill="#1a7ce0"/><circle cx="509.6" cy="1249.7" r="6.9" fill="url(#sh)"/>
<circle cx="545.6" cy="1249.7" r="6.9" fill="#e60f0f"/><path d="M545.6 1249.7L539.7 1246.0A6.9 6.9 0 0 1 545.3 1242.8Z" fill="#1a7ce0"/><circle cx="545.6" cy="1249.7" r="6.9" fill="url(#sh)"/>
<circle cx="581.9" cy="1249.2" r="6.9" fill="#e60f0f"/><path d="M581.9 1249.2L576.1 1245.5A6.9 6.9 0 0 1 581.7 1242.3Z" fill="#1a7ce0"/><circle cx="581.9" cy="1249.2" r="6.9" fill="url(#sh)"/>
<circle cx="491.5" cy="1260.2" r="6.9" fill="#e60f0f"/><path d="M491.5 1260.2L485.6 1256.6A6.9 6.9 0 0 1 491.2 1253.3Z" fill="#1a7ce0"/><circle cx="491.5" cy="1260.2" r="6.9" fill="url(#sh)"/>
<circle cx="564.0" cy="1260.2" r="6.9" fill="#e60f0f"/><path d="M564.0 1260.2L558.2 1256.6A6.9 6.9 0 0 1 563.8 1253.3Z" fill="#1a7ce0"/><circle cx="564.0" cy="1260.2" r="6.9" fill="url(#sh)"/>
<circle cx="473.6" cy="1270.6" r="6.9" fill="#e60f0f"/><path d="M473.6 1270.6L467.7 1267.0A6.9 6.9 0 0 1 473.3 1263.7Z" fill="#1a7ce0"/><circle cx="473.6" cy="1270.6" r="6.9" fill="url(#sh)"/>
<circle cx="509.6" cy="1270.6" r="6.9" fill="#e60f0f"/><path d="M509.6 1270.6L503.7 1267.0A6.9 6.9 0 0 1 509.3 1263.7Z" fill="#1a7ce0"/><circle cx="509.6" cy="1270.6" r="6.9" fill="url(#sh)"/>
<circle cx="545.6" cy="1270.6" r="6.9" fill="#e60f0f"/><path d="M545.6 1270.6L539.7 1267.0A6.9 6.9 0 0 1 545.3 1263.7Z" fill="#1a7ce0"/><circle cx="545.6" cy="1270.6" r="6.9" fill="url(#sh)"/>
<circle cx="581.9" cy="1270.6" r="6.9" fill="#e60f0f"/><path d="M581.9 1270.6L576.1 1267.0A6.9 6.9 0 0 1 581.7 1263.7Z" fill="#1a7ce0"/><circle cx="581.9" cy="1270.6" r="6.9" fill="url(#sh)"/>
<circle cx="527.5" cy="1281.2" r="6.9" fill="#e60f0f"/><path d="M527.5 1281.2L521.6 1277.5A6.9 6.9 0 0 1 527.3 1274.3Z" fill="#1a7ce0"/><circle cx="527.5" cy="1281.2" r="6.9" fill="url(#sh)"/>
<circle cx="473.6" cy="1291.5" r="6.9" fill="#e60f0f"/><path d="M473.6 1291.5L467.7 1287.9A6.9 6.9 0 0 1 473.3 1284.6Z" fill="#1a7ce0"/><circle cx="473.6" cy="1291.5" r="6.9" fill="url(#sh)"/>
<circle cx="509.6" cy="1291.5" r="6.9" fill="#e60f0f"/><path d="M509.6 1291.5L503.7 1287.9A6.9 6.9 0 0 1 509.3 1284.6Z" fill="#1a7ce0"/><circle cx="509.6" cy="1291.5" r="6.9" fill="url(#sh)"/>
<circle cx="545.6" cy="1291.5" r="6.9" fill="#e60f0f"/><path d="M545.6 1291.5L539.7 1287.9A6.9 6.9 0 0 1 545.3 1284.6Z" fill="#1a7ce0"/><circle cx="545.6" cy="1291.5" r="6.9" fill="url(#sh)"/>
<circle cx="581.9" cy="1291.5" r="6.9" fill="#e60f0f"/><path d="M581.9 1291.5L576.1 1287.9A6.9 6.9 0 0 1 581.7 1284.6Z" fill="#1a7ce0"/><circle cx="581.9" cy="1291.5" r="6.9" fill="url(#sh)"/>
<circle cx="491.5" cy="1302.4" r="6.9" fill="#e60f0f"/><path d="M491.5 1302.4L485.6 1298.8A6.9 6.9 0 0 1 491.2 1295.5Z" fill="#1a7ce0"/><circle cx="491.5" cy="1302.4" r="6.9" fill="url(#sh)"/>
<circle cx="564.0" cy="1302.4" r="6.9" fill="#e60f0f"/><path d="M564.0 1302.4L558.2 1298.8A6.9 6.9 0 0 1 563.8 1295.5Z" fill="#1a7ce0"/><circle cx="564.0" cy="1302.4" r="6.9" fill="url(#sh)"/>
<circle cx="509.6" cy="1312.5" r="6.9" fill="#e60f0f"/><path d="M509.6 1312.5L503.7 1308.8A6.9 6.9 0 0 1 509.3 1305.6Z" fill="#1a7ce0"/><circle cx="509.6" cy="1312.5" r="6.9" fill="url(#sh)"/>
<circle cx="545.6" cy="1312.5" r="6.9" fill="#e60f0f"/><path d="M545.6 1312.5L539.7 1308.8A6.9 6.9 0 0 1 545.3 1305.6Z" fill="#1a7ce0"/><circle cx="545.6" cy="1312.5" r="6.9" fill="url(#sh)"/>
<circle cx="527.5" cy="1323.4" r="6.9" fill="#e60f0f"/><path d="M527.5 1323.4L521.6 1319.7A6.9 6.9 0 0 1 527.3 1316.5Z" fill="#1a7ce0"/><circle cx="527.5" cy="1323.4" r="6.9" fill="url(#sh)"/>
<polygon points="491.5,1218.2 509.6,1228.7 509.6,1249.6 491.5,1260.1 473.4,1249.6 473.4,1228.7" fill="#2f66a6" fill-opacity="0.45"/><polygon points="491.5,1218.2 509.6,1228.7 509.6,1249.6" fill="#28599a" fill-opacity="0.405"/><polygon points="509.6,1249.6 491.5,1260.1 473.4,1249.6" fill="#3d73b0" fill-opacity="0.405"/><polygon points="473.4,1249.6 473.4,1228.7 491.5,1218.2" fill="#2c5f9e" fill-opacity="0.405"/><polygon points="491.5,1218.2 509.6,1249.6 473.4,1249.6" fill="#e2f2f8" fill-opacity="0.45"/><polygon points="502.7,1232.6 491.5,1252.1 480.3,1232.6" fill="#f4fbfd" fill-opacity="0.3375"/><path d="M491.5 1239.1L509.6 1228.7M491.5 1239.1L491.5 1260.1M491.5 1239.1L473.4 1228.7" stroke="#b8cfe0" stroke-width="0.6" fill="none" stroke-opacity="0.7"/>
<polygon points="564.0,1218.2 582.1,1228.7 582.1,1249.6 564.0,1260.1 545.9,1249.6 545.9,1228.7" fill="#2f66a6" fill-opacity="0.45"/><polygon points="564.0,1218.2 582.1,1228.7 582.1,1249.6" fill="#28599a" fill-opacity="0.405"/><polygon points="582.1,1249.6 564.0,1260.1 545.9,1249.6" fill="#3d73b0" fill-opacity="0.405"/><polygon points="545.9,1249.6 545.9,1228.7 564.0,1218.2" fill="#2c5f9e" fill-opacity="0.405"/><polygon points="564.0,1218.2 582.1,1249.6 545.9,1249.6" fill="#e2f2f8" fill-opacity="0.45"/><polygon points="575.2,1232.6 564.0,1252.1 552.8,1232.6" fill="#f4fbfd" fill-opacity="0.3375"/><path d="M564.0 1239.1L582.1 1228.7M564.0 1239.1L564.0 1260.1M564.0 1239.1L545.9 1228.7" stroke="#b8cfe0" stroke-width="0.6" fill="none" stroke-opacity="0.7"/>
<polygon points="527.5,1281.5 545.6,1292.0 545.6,1312.9 527.5,1323.4 509.4,1312.9 509.4,1292.0" fill="#2f66a6" fill-opacity="0.45"/><polygon points="527.5,1281.5 545.6,1292.0 545.6,1312.9" fill="#28599a" fill-opacity="0.405"/><polygon points="545.6,1312.9 527.5,1323.4 509.4,1312.9" fill="#3d73b0" fill-opacity="0.405"/><polygon points="509.4,1312.9 509.4,1292.0 527.5,1281.5" fill="#2c5f9e" fill-opacity="0.405"/><polygon points="527.5,1281.5 545.6,1312.9 509.4,1312.9" fill="#e2f2f8" fill-opacity="0.45"/><polygon points="538.7,1295.9 527.5,1315.4 516.3,1295.9" fill="#f4fbfd" fill-opacity="0.3375"/><path d="M527.5 1302.4L545.6 1292.0M527.5 1302.4L527.5 1323.4M527.5 1302.4L509.4 1292.0" stroke="#b8cfe0" stroke-width="0.6" fill="none" stroke-opacity="0.7"/>
<circle cx="491.5" cy="1218.2" r="3.3" fill="url(#cl)"/>
<circle cx="509.6" cy="1228.7" r="3.3" fill="url(#cl)"/>
<circle cx="509.6" cy="1249.6" r="3.3" fill="url(#cl)"/>
<circle cx="491.5" cy="1260.1" r="3.3" fill="url(#cl)"/>
<circle cx="473.4" cy="1249.6" r="3.3" fill="url(#cl)"/>
<circle cx="473.4" cy="1228.7" r="3.3" fill="url(#cl)"/>
<circle cx="491.5" cy="1239.1" r="3.3" fill="url(#cl)"/>
<circle cx="564.0" cy="1218.2" r="3.3" fill="url(#cl)"/>
<circle cx="582.1" cy="1228.7" r="3.3" fill="url(#cl)"/>
<circle cx="582.1" cy="1249.6" r="3.3" fill="url(#cl)"/>
<circle cx="564.0" cy="1260.1" r="3.3" fill="url(#cl)"/>
<circle cx="545.9" cy="1249.6" r="3.3" fill="url(#cl)"/>
<circle cx="545.9" cy="1228.7" r="3.3" fill="url(#cl)"/>
<circle cx="564.0" cy="1239.1" r="3.3" fill="url(#cl)"/>
<circle cx="527.5" cy="1281.5" r="3.3" fill="url(#cl)"/>
<circle cx="545.6" cy="1292.0" r="3.3" fill="url(#cl)"/>
<circle cx="545.6" cy="1312.9" r="3.3" fill="url(#cl)"/>
<circle cx="527.5" cy="1323.4" r="3.3" fill="url(#cl)"/>
<circle cx="509.4" cy="1312.9" r="3.3" fill="url(#cl)"/>
<circle cx="509.4" cy="1292.0" r="3.3" fill="url(#cl)"/>
<circle cx="527.5" cy="1302.4" r="3.3" fill="url(#cl)"/>
<circle cx="491.5" cy="1218.2" r="6.9" fill="#e60f0f"/><path d="M491.5 1218.2L485.6 1214.5A6.9 6.9 0 0 1 491.2 1211.3Z" fill="#1a7ce0"/><circle cx="491.5" cy="1218.2" r="6.9" fill="url(#sh)"/>
<circle cx="564.0" cy="1218.2" r="6.9" fill="#e60f0f"/><path d="M564.0 1218.2L558.2 1214.5A6.9 6.9 0 0 1 563.8 1211.3Z" fill="#1a7ce0"/><circle cx="564.0" cy="1218.2" r="6.9" fill="url(#sh)"/>
<circle cx="473.6" cy="1249.2" r="6.9" fill="#e60f0f"/><path d="M473.6 1249.2L467.7 1245.5A6.9 6.9 0 0 1 473.3 1242.3Z" fill="#1a7ce0"/><circle cx="473.6" cy="1249.2" r="6.9" fill="url(#sh)"/>
<circle cx="581.9" cy="1249.2" r="6.9" fill="#e60f0f"/><path d="M581.9 1249.2L576.1 1245.5A6.9 6.9 0 0 1 581.7 1242.3Z" fill="#1a7ce0"/><circle cx="581.9" cy="1249.2" r="6.9" fill="url(#sh)"/>
<circle cx="509.6" cy="1312.5" r="6.9" fill="#e60f0f"/><path d="M509.6 1312.5L503.7 1308.8A6.9 6.9 0 0 1 509.3 1305.6Z" fill="#1a7ce0"/><circle cx="509.6" cy="1312.5" r="6.9" fill="url(#sh)"/>
<circle cx="545.6" cy="1312.5" r="6.9" fill="#e60f0f"/><path d="M545.6 1312.5L539.7 1308.8A6.9 6.9 0 0 1 545.3 1305.6Z" fill="#1a7ce0"/><circle cx="545.6" cy="1312.5" r="6.9" fill="url(#sh)"/>
<polygon points="527.5,1155.0 545.6,1165.5 545.6,1186.5 527.5,1196.9 509.4,1186.5 509.4,1165.5" fill="#2f66a6" fill-opacity="0.9"/><polygon points="527.5,1155.0 545.6,1165.5 545.6,1186.5" fill="#28599a" fill-opacity="0.81"/><polygon points="545.6,1186.5 527.5,1196.9 509.4,1186.5" fill="#3d73b0" fill-opacity="0.81"/><polygon points="509.4,1186.5 509.4,1165.5 527.5,1155.0" fill="#2c5f9e" fill-opacity="0.81"/><polygon points="527.5,1155.0 545.6,1186.5 509.4,1186.5" fill="#e2f2f8" fill-opacity="0.9"/><polygon points="538.7,1169.5 527.5,1189.0 516.3,1169.5" fill="#f4fbfd" fill-opacity="0.675"/><path d="M527.5 1176.0L545.6 1165.5M527.5 1176.0L527.5 1196.9M527.5 1176.0L509.4 1165.5" stroke="#b8cfe0" stroke-width="0.6" fill="none" stroke-opacity="0.7"/>
<polygon points="455.1,1197.3 473.2,1207.7 473.2,1228.7 455.1,1239.1 437.1,1228.7 437.1,1207.7" fill="#2f66a6" fill-opacity="0.9"/><polygon points="455.1,1197.3 473.2,1207.7 473.2,1228.7" fill="#28599a" fill-opacity="0.81"/><polygon points="473.2,1228.7 455.1,1239.1 437.1,1228.7" fill="#3d73b0" fill-opacity="0.81"/><polygon points="437.1,1228.7 437.1,1207.7 455.1,1197.3" fill="#2c5f9e" fill-opacity="0.81"/><polygon points="455.1,1197.3 473.2,1228.7 437.1,1228.7" fill="#e2f2f8" fill-opacity="0.9"/><polygon points="466.4,1211.7 455.1,1231.2 443.9,1211.7" fill="#f4fbfd" fill-opacity="0.675"/><path d="M455.1 1218.2L473.2 1207.7M455.1 1218.2L455.1 1239.1M455.1 1218.2L437.1 1207.7" stroke="#b8cfe0" stroke-width="0.6" fill="none" stroke-opacity="0.7"/>
<circle cx="455.1" cy="1218.2" r="4.4" fill="#e9a9ad"/><path d="M455.1 1218.2L456.7 1214.1A4.4 4.4 0 0 1 459.0 1220.4Z" fill="#a9d6f4"/><circle cx="455.1" cy="1218.2" r="4.4" fill="url(#sh)"/>
<polygon points="600.2,1197.3 618.3,1207.7 618.3,1228.7 600.2,1239.1 582.1,1228.7 582.1,1207.7" fill="#2f66a6" fill-opacity="0.9"/><polygon points="600.2,1197.3 618.3,1207.7 618.3,1228.7" fill="#28599a" fill-opacity="0.81"/><polygon points="618.3,1228.7 600.2,1239.1 582.1,1228.7" fill="#3d73b0" fill-opacity="0.81"/><polygon points="582.1,1228.7 582.1,1207.7 600.2,1197.3" fill="#2c5f9e" fill-opacity="0.81"/><polygon points="600.2,1197.3 618.3,1228.7 582.1,1228.7" fill="#e2f2f8" fill-opacity="0.9"/><polygon points="611.4,1211.7 600.2,1231.2 589.0,1211.7" fill="#f4fbfd" fill-opacity="0.675"/><path d="M600.2 1218.2L618.3 1207.7M600.2 1218.2L600.2 1239.1M600.2 1218.2L582.1 1207.7" stroke="#b8cfe0" stroke-width="0.6" fill="none" stroke-opacity="0.7"/>
<circle cx="600.2" cy="1218.2" r="4.4" fill="#e9a9ad"/><path d="M600.2 1218.2L601.7 1214.1A4.4 4.4 0 0 1 604.0 1220.4Z" fill="#a9d6f4"/><circle cx="600.2" cy="1218.2" r="4.4" fill="url(#sh)"/>
<polygon points="527.5,1197.3 545.6,1207.7 545.6,1228.7 527.5,1239.1 509.4,1228.7 509.4,1207.7" fill="#2f66a6" fill-opacity="0.9"/><polygon points="527.5,1197.3 545.6,1207.7 545.6,1228.7" fill="#28599a" fill-opacity="0.81"/><polygon points="545.6,1228.7 527.5,1239.1 509.4,1228.7" fill="#3d73b0" fill-opacity="0.81"/><polygon points="509.4,1228.7 509.4,1207.7 527.5,1197.3" fill="#2c5f9e" fill-opacity="0.81"/><polygon points="527.5,1197.3 545.6,1228.7 509.4,1228.7" fill="#e2f2f8" fill-opacity="0.9"/><polygon points="538.7,1211.7 527.5,1231.2 516.3,1211.7" fill="#f4fbfd" fill-opacity="0.675"/><path d="M527.5 1218.2L545.6 1207.7M527.5 1218.2L527.5 1239.1M527.5 1218.2L509.4 1207.7" stroke="#b8cfe0" stroke-width="0.6" fill="none" stroke-opacity="0.7"/>
<polygon points="527.5,1239.3 545.6,1249.8 545.6,1270.7 527.5,1281.2 509.4,1270.7 509.4,1249.8" fill="#2f66a6" fill-opacity="0.9"/><polygon points="527.5,1239.3 545.6,1249.8 545.6,1270.7" fill="#28599a" fill-opacity="0.81"/><polygon points="545.6,1270.7 527.5,1281.2 509.4,1270.7" fill="#3d73b0" fill-opacity="0.81"/><polygon points="509.4,1270.7 509.4,1249.8 527.5,1239.3" fill="#2c5f9e" fill-opacity="0.81"/><polygon points="527.5,1239.3 545.6,1270.7 509.4,1270.7" fill="#e2f2f8" fill-opacity="0.9"/><polygon points="538.7,1253.7 527.5,1273.2 516.3,1253.7" fill="#f4fbfd" fill-opacity="0.675"/><path d="M527.5 1260.2L545.6 1249.8M527.5 1260.2L527.5 1281.2M527.5 1260.2L509.4 1249.8" stroke="#b8cfe0" stroke-width="0.6" fill="none" stroke-opacity="0.7"/>
<circle cx="527.5" cy="1260.2" r="4.4" fill="#e9a9ad"/><path d="M527.5 1260.2L529.0 1256.1A4.4 4.4 0 0 1 531.3 1262.4Z" fill="#a9d6f4"/><circle cx="527.5" cy="1260.2" r="4.4" fill="url(#sh)"/>
<polygon points="491.5,1260.2 509.6,1270.7 509.6,1291.6 491.5,1302.1 473.4,1291.6 473.4,1270.7" fill="#2f66a6" fill-opacity="0.9"/><polygon points="491.5,1260.2 509.6,1270.7 509.6,1291.6" fill="#28599a" fill-opacity="0.81"/><polygon points="509.6,1291.6 491.5,1302.1 473.4,1291.6" fill="#3d73b0" fill-opacity="0.81"/><polygon points="473.4,1291.6 473.4,1270.7 491.5,1260.2" fill="#2c5f9e" fill-opacity="0.81"/><polygon points="491.5,1260.2 509.6,1291.6 473.4,1291.6" fill="#e2f2f8" fill-opacity="0.9"/><polygon points="502.7,1274.7 491.5,1294.1 480.3,1274.7" fill="#f4fbfd" fill-opacity="0.675"/><path d="M491.5 1281.2L509.6 1270.7M491.5 1281.2L491.5 1302.1M491.5 1281.2L473.4 1270.7" stroke="#b8cfe0" stroke-width="0.6" fill="none" stroke-opacity="0.7"/>
<polygon points="564.0,1260.2 582.1,1270.7 582.1,1291.6 564.0,1302.1 545.9,1291.6 545.9,1270.7" fill="#2f66a6" fill-opacity="0.9"/><polygon points="564.0,1260.2 582.1,1270.7 582.1,1291.6" fill="#28599a" fill-opacity="0.81"/><polygon points="582.1,1291.6 564.0,1302.1 545.9,1291.6" fill="#3d73b0" fill-opacity="0.81"/><polygon points="545.9,1291.6 545.9,1270.7 564.0,1260.2" fill="#2c5f9e" fill-opacity="0.81"/><polygon points="564.0,1260.2 582.1,1291.6 545.9,1291.6" fill="#e2f2f8" fill-opacity="0.9"/><polygon points="575.2,1274.7 564.0,1294.1 552.8,1274.7" fill="#f4fbfd" fill-opacity="0.675"/><path d="M564.0 1281.2L582.1 1270.7M564.0 1281.2L564.0 1302.1M564.0 1281.2L545.9 1270.7" stroke="#b8cfe0" stroke-width="0.6" fill="none" stroke-opacity="0.7"/>
<polygon points="455.1,1281.5 473.2,1292.0 473.2,1312.9 455.1,1323.4 437.1,1312.9 437.1,1292.0" fill="#2f66a6" fill-opacity="0.9"/><polygon points="455.1,1281.5 473.2,1292.0 473.2,1312.9" fill="#28599a" fill-opacity="0.81"/><polygon points="473.2,1312.9 455.1,1323.4 437.1,1312.9" fill="#3d73b0" fill-opacity="0.81"/><polygon points="437.1,1312.9 437.1,1292.0 455.1,1281.5" fill="#2c5f9e" fill-opacity="0.81"/><polygon points="455.1,1281.5 473.2,1312.9 437.1,1312.9" fill="#e2f2f8" fill-opacity="0.9"/><polygon points="466.4,1295.9 455.1,1315.4 443.9,1295.9" fill="#f4fbfd" fill-opacity="0.675"/><path d="M455.1 1302.4L473.2 1292.0M455.1 1302.4L455.1 1323.4M455.1 1302.4L437.1 1292.0" stroke="#b8cfe0" stroke-width="0.6" fill="none" stroke-opacity="0.7"/>
<polygon points="600.2,1281.5 618.3,1292.0 618.3,1312.9 600.2,1323.4 582.1,1312.9 582.1,1292.0" fill="#2f66a6" fill-opacity="0.9"/><polygon points="600.2,1281.5 618.3,1292.0 618.3,1312.9" fill="#28599a" fill-opacity="0.81"/><polygon points="618.3,1312.9 600.2,1323.4 582.1,1312.9" fill="#3d73b0" fill-opacity="0.81"/><polygon points="582.1,1312.9 582.1,1292.0 600.2,1281.5" fill="#2c5f9e" fill-opacity="0.81"/><polygon points="600.2,1281.5 618.3,1312.9 582.1,1312.9" fill="#e2f2f8" fill-opacity="0.9"/><polygon points="611.4,1295.9 600.2,1315.4 589.0,1295.9" fill="#f4fbfd" fill-opacity="0.675"/><path d="M600.2 1302.4L618.3 1292.0M600.2 1302.4L600.2 1323.4M600.2 1302.4L582.1 1292.0" stroke="#b8cfe0" stroke-width="0.6" fill="none" stroke-opacity="0.7"/>
<polygon points="527.5,1323.4 545.6,1333.8 545.6,1354.8 527.5,1365.2 509.4,1354.8 509.4,1333.8" fill="#2f66a6" fill-opacity="0.9"/><polygon points="527.5,1323.4 545.6,1333.8 545.6,1354.8" fill="#28599a" fill-opacity="0.81"/><polygon points="545.6,1354.8 527.5,1365.2 509.4,1354.8" fill="#3d73b0" fill-opacity="0.81"/><polygon points="509.4,1354.8 509.4,1333.8 527.5,1323.4" fill="#2c5f9e" fill-opacity="0.81"/><polygon points="527.5,1323.4 545.6,1354.8 509.4,1354.8" fill="#e2f2f8" fill-opacity="0.9"/><polygon points="538.7,1337.8 527.5,1357.3 516.3,1337.8" fill="#f4fbfd" fill-opacity="0.675"/><path d="M527.5 1344.3L545.6 1333.8M527.5 1344.3L527.5 1365.2M527.5 1344.3L509.4 1333.8" stroke="#b8cfe0" stroke-width="0.6" fill="none" stroke-opacity="0.7"/>
<circle cx="527.5" cy="1344.3" r="4.4" fill="#e9a9ad"/><path d="M527.5 1344.3L529.0 1340.2A4.4 4.4 0 0 1 531.3 1346.5Z" fill="#a9d6f4"/><circle cx="527.5" cy="1344.3" r="4.4" fill="url(#sh)"/>
<circle cx="527.5" cy="1155.0" r="3.3" fill="url(#cl)"/>
<circle cx="545.6" cy="1165.5" r="3.3" fill="url(#cl)"/>
<circle cx="545.6" cy="1186.5" r="3.3" fill="url(#cl)"/>
<circle cx="527.5" cy="1196.9" r="3.3" fill="url(#cl)"/>
<circle cx="509.4" cy="1186.5" r="3.3" fill="url(#cl)"/>
<circle cx="509.4" cy="1165.5" r="3.3" fill="url(#cl)"/>
<circle cx="527.5" cy="1176.0" r="3.3" fill="url(#cl)"/>
<circle cx="455.1" cy="1197.3" r="3.3" fill="url(#cl)"/>
<circle cx="473.2" cy="1207.7" r="3.3" fill="url(#cl)"/>
<circle cx="473.2" cy="1228.7" r="3.3" fill="url(#cl)"/>
<circle cx="455.1" cy="1239.1" r="3.3" fill="url(#cl)"/>
<circle cx="437.1" cy="1228.7" r="3.3" fill="url(#cl)"/>
<circle cx="437.1" cy="1207.7" r="3.3" fill="url(#cl)"/>
<circle cx="600.2" cy="1197.3" r="3.3" fill="url(#cl)"/>
<circle cx="618.3" cy="1207.7" r="3.3" fill="url(#cl)"/>
<circle cx="618.3" cy="1228.7" r="3.3" fill="url(#cl)"/>
<circle cx="600.2" cy="1239.1" r="3.3" fill="url(#cl)"/>
<circle cx="582.1" cy="1228.7" r="3.3" fill="url(#cl)"/>
<circle cx="582.1" cy="1207.7" r="3.3" fill="url(#cl)"/>
<circle cx="527.5" cy="1197.3" r="3.3" fill="url(#cl)"/>
<circle cx="545.6" cy="1207.7" r="3.3" fill="url(#cl)"/>
<circle cx="545.6" cy="1228.7" r="3.3" fill="url(#cl)"/>
<circle cx="527.5" cy="1239.1" r="3.3" fill="url(#cl)"/>
<circle cx="509.4" cy="1228.7" r="3.3" fill="url(#cl)"/>
<circle cx="509.4" cy="1207.7" r="3.3" fill="url(#cl)"/>
<circle cx="527.5" cy="1218.2" r="3.3" fill="url(#cl)"/>
<circle cx="527.5" cy="1239.3" r="3.3" fill="url(#cl)"/>
<circle cx="545.6" cy="1249.8" r="3.3" fill="url(#cl)"/>
<circle cx="545.6" cy="1270.7" r="3.3" fill="url(#cl)"/>
<circle cx="527.5" cy="1281.2" r="3.3" fill="url(#cl)"/>
<circle cx="509.4" cy="1270.7" r="3.3" fill="url(#cl)"/>
<circle cx="509.4" cy="1249.8" r="3.3" fill="url(#cl)"/>
<circle cx="491.5" cy="1260.2" r="3.3" fill="url(#cl)"/>
<circle cx="509.6" cy="1270.7" r="3.3" fill="url(#cl)"/>
<circle cx="509.6" cy="1291.6" r="3.3" fill="url(#cl)"/>
<circle cx="491.5" cy="1302.1" r="3.3" fill="url(#cl)"/>
<circle cx="473.4" cy="1291.6" r="3.3" fill="url(#cl)"/>
<circle cx="473.4" cy="1270.7" r="3.3" fill="url(#cl)"/>
<circle cx="491.5" cy="1281.2" r="3.3" fill="url(#cl)"/>
<circle cx="564.0" cy="1260.2" r="3.3" fill="url(#cl)"/>
<circle cx="582.1" cy="1270.7" r="3.3" fill="url(#cl)"/>
<circle cx="582.1" cy="1291.6" r="3.3" fill="url(#cl)"/>
<circle cx="564.0" cy="1302.1" r="3.3" fill="url(#cl)"/>
<circle cx="545.9" cy="1291.6" r="3.3" fill="url(#cl)"/>
<circle cx="545.9" cy="1270.7" r="3.3" fill="url(#cl)"/>
<circle cx="564.0" cy="1281.2" r="3.3" fill="url(#cl)"/>
<circle cx="455.1" cy="1281.5" r="3.3" fill="url(#cl)"/>
<circle cx="473.2" cy="1292.0" r="3.3" fill="url(#cl)"/>
<circle cx="473.2" cy="1312.9" r="3.3" fill="url(#cl)"/>
<circle cx="455.1" cy="1323.4" r="3.3" fill="url(#cl)"/>
<circle cx="437.1" cy="1312.9" r="3.3" fill="url(#cl)"/>
<circle cx="437.1" cy="1292.0" r="3.3" fill="url(#cl)"/>
<circle cx="455.1" cy="1302.4" r="3.3" fill="url(#cl)"/>
<circle cx="600.2" cy="1281.5" r="3.3" fill="url(#cl)"/>
<circle cx="618.3" cy="1292.0" r="3.3" fill="url(#cl)"/>
<circle cx="618.3" cy="1312.9" r="3.3" fill="url(#cl)"/>
<circle cx="600.2" cy="1323.4" r="3.3" fill="url(#cl)"/>
<circle cx="582.1" cy="1312.9" r="3.3" fill="url(#cl)"/>
<circle cx="582.1" cy="1292.0" r="3.3" fill="url(#cl)"/>
<circle cx="600.2" cy="1302.4" r="3.3" fill="url(#cl)"/>
<circle cx="527.5" cy="1323.4" r="3.3" fill="url(#cl)"/>
<circle cx="545.6" cy="1333.8" r="3.3" fill="url(#cl)"/>
<circle cx="545.6" cy="1354.8" r="3.3" fill="url(#cl)"/>
<circle cx="527.5" cy="1365.2" r="3.3" fill="url(#cl)"/>
<circle cx="509.4" cy="1354.8" r="3.3" fill="url(#cl)"/>
<circle cx="509.4" cy="1333.8" r="3.3" fill="url(#cl)"/>
<circle cx="491.5" cy="1197.1" r="3.3" fill="url(#cl)"/>
<circle cx="564.0" cy="1197.1" r="3.3" fill="url(#cl)"/>
<circle cx="455.1" cy="1260.2" r="3.3" fill="url(#cl)"/>
<circle cx="600.2" cy="1260.2" r="3.3" fill="url(#cl)"/>
<circle cx="491.5" cy="1323.4" r="3.3" fill="url(#cl)"/>
<circle cx="564.0" cy="1323.4" r="3.3" fill="url(#cl)"/></g>
<g id="pd1"><polygon points="787.9,694.5 814.2,729.2 793.2,759.9 766.9,724.2" fill="#5fa2e6" stroke="#cfc6bc" stroke-width="0.7" stroke-linejoin="round"/>
<polygon points="840.8,694.5 861.8,724.2 835.4,759.9 814.2,729.2" fill="#5fa2e6" stroke="#cfc6bc" stroke-width="0.7" stroke-linejoin="round"/>
<polygon points="882.9,694.5 909.3,729.0 888.6,759.9 861.8,724.2" fill="#5fa2e6" stroke="#cfc6bc" stroke-width="0.7" stroke-linejoin="round"/>
<polygon points="787.9,824.5 814.2,860.3 793.2,890.0 766.9,855.5" fill="#5fa2e6" stroke="#cfc6bc" stroke-width="0.7" stroke-linejoin="round"/>
<polygon points="840.8,824.5 861.8,855.5 835.4,890.0 814.2,860.3" fill="#5fa2e6" stroke="#cfc6bc" stroke-width="0.7" stroke-linejoin="round"/>
<polygon points="882.9,824.5 909.3,860.3 888.6,890.0 861.8,855.5" fill="#5fa2e6" stroke="#cfc6bc" stroke-width="0.7" stroke-linejoin="round"/>
<polygon points="793.2,759.9 814.2,790.1 787.9,824.5 766.9,794.7" fill="#2a80e0" stroke="#cfc6bc" stroke-width="0.7" stroke-linejoin="round"/>
<polygon points="835.4,759.9 861.8,794.7 840.8,824.5 814.2,790.1" fill="#2a80e0" stroke="#cfc6bc" stroke-width="0.7" stroke-linejoin="round"/>
<polygon points="888.6,759.9 909.3,790.4 882.9,824.5 861.8,794.7" fill="#2a80e0" stroke="#cfc6bc" stroke-width="0.7" stroke-linejoin="round"/>
<polygon points="814.2,729.2 835.4,759.9 814.2,790.1 793.2,759.9" fill="#2a80e0" stroke="#cfc6bc" stroke-width="0.7" stroke-linejoin="round"/>
<polygon points="861.8,794.7 882.9,824.5 861.8,855.5 840.8,824.5" fill="#2a80e0" stroke="#cfc6bc" stroke-width="0.7" stroke-linejoin="round"/>
<g opacity="0.72"><circle cx="790.6" cy="726.3" r="5.6" fill="#1a7ce0"/><path d="M790.6 726.3L785.0 726.3A5.6 5.6 0 0 1 790.6 720.7Z" fill="#b9d9f2"/><path d="M790.6 726.3L790.6 731.9A5.6 5.6 0 0 1 785.0 726.3Z" fill="#8a3c86"/><circle cx="790.6" cy="726.3" r="5.6" fill="url(#sh)"/></g>
<g opacity="0.72"><circle cx="838.1" cy="726.3" r="5.6" fill="#1a7ce0"/><path d="M838.1 726.3L832.5 726.3A5.6 5.6 0 0 1 838.1 720.7Z" fill="#b9d9f2"/><path d="M838.1 726.3L838.1 731.9A5.6 5.6 0 0 1 832.5 726.3Z" fill="#8a3c86"/><circle cx="838.1" cy="726.3" r="5.6" fill="url(#sh)"/></g>
<g opacity="0.72"><circle cx="885.4" cy="726.3" r="5.6" fill="#1a7ce0"/><path d="M885.4 726.3L879.8 726.3A5.6 5.6 0 0 1 885.4 720.7Z" fill="#b9d9f2"/><path d="M885.4 726.3L885.4 731.9A5.6 5.6 0 0 1 879.8 726.3Z" fill="#8a3c86"/><circle cx="885.4" cy="726.3" r="5.6" fill="url(#sh)"/></g>
<g opacity="0.72"><circle cx="814.2" cy="759.4" r="5.6" fill="#1a7ce0"/><path d="M814.2 759.4L808.6 759.4A5.6 5.6 0 0 1 814.2 753.8Z" fill="#b9d9f2"/><path d="M814.2 759.4L814.2 765.0A5.6 5.6 0 0 1 808.6 759.4Z" fill="#8a3c86"/><circle cx="814.2" cy="759.4" r="5.6" fill="url(#sh)"/></g>
<g opacity="0.72"><circle cx="790.6" cy="792.2" r="5.6" fill="#1a7ce0"/><path d="M790.6 792.2L785.0 792.2A5.6 5.6 0 0 1 790.6 786.6Z" fill="#b9d9f2"/><path d="M790.6 792.2L790.6 797.8A5.6 5.6 0 0 1 785.0 792.2Z" fill="#8a3c86"/><circle cx="790.6" cy="792.2" r="5.6" fill="url(#sh)"/></g>
<g opacity="0.72"><circle cx="838.1" cy="792.2" r="5.6" fill="#1a7ce0"/><path d="M838.1 792.2L832.5 792.2A5.6 5.6 0 0 1 838.1 786.6Z" fill="#b9d9f2"/><path d="M838.1 792.2L838.1 797.8A5.6 5.6 0 0 1 832.5 792.2Z" fill="#8a3c86"/><circle cx="838.1" cy="792.2" r="5.6" fill="url(#sh)"/></g>
<g opacity="0.72"><circle cx="885.4" cy="792.2" r="5.6" fill="#1a7ce0"/><path d="M885.4 792.2L879.8 792.2A5.6 5.6 0 0 1 885.4 786.6Z" fill="#b9d9f2"/><path d="M885.4 792.2L885.4 797.8A5.6 5.6 0 0 1 879.8 792.2Z" fill="#8a3c86"/><circle cx="885.4" cy="792.2" r="5.6" fill="url(#sh)"/></g>
<g opacity="0.72"><circle cx="861.8" cy="824.5" r="5.6" fill="#1a7ce0"/><path d="M861.8 824.5L856.2 824.5A5.6 5.6 0 0 1 861.8 818.9Z" fill="#b9d9f2"/><path d="M861.8 824.5L861.8 830.1A5.6 5.6 0 0 1 856.2 824.5Z" fill="#8a3c86"/><circle cx="861.8" cy="824.5" r="5.6" fill="url(#sh)"/></g>
<g opacity="0.72"><circle cx="790.6" cy="858.1" r="5.6" fill="#1a7ce0"/><path d="M790.6 858.1L785.0 858.1A5.6 5.6 0 0 1 790.6 852.5Z" fill="#b9d9f2"/><path d="M790.6 858.1L790.6 863.7A5.6 5.6 0 0 1 785.0 858.1Z" fill="#8a3c86"/><circle cx="790.6" cy="858.1" r="5.6" fill="url(#sh)"/></g>
<g opacity="0.72"><circle cx="838.1" cy="858.1" r="5.6" fill="#1a7ce0"/><path d="M838.1 858.1L832.5 858.1A5.6 5.6 0 0 1 838.1 852.5Z" fill="#b9d9f2"/><path d="M838.1 858.1L838.1 863.7A5.6 5.6 0 0 1 832.5 858.1Z" fill="#8a3c86"/><circle cx="838.1" cy="858.1" r="5.6" fill="url(#sh)"/></g>
<g opacity="0.72"><circle cx="885.4" cy="858.1" r="5.6" fill="#1a7ce0"/><path d="M885.4 858.1L879.8 858.1A5.6 5.6 0 0 1 885.4 852.5Z" fill="#b9d9f2"/><path d="M885.4 858.1L885.4 863.7A5.6 5.6 0 0 1 879.8 858.1Z" fill="#8a3c86"/><circle cx="885.4" cy="858.1" r="5.6" fill="url(#sh)"/></g>
<path d="M766.9 724.2L814.2 729.2M814.2 729.2L861.8 724.2M861.8 724.2L909.3 729.0M793.2 759.9L835.4 759.9M766.9 794.7L814.2 790.1M814.2 790.1L861.8 794.7M861.8 794.7L909.3 790.4M840.8 824.5L882.9 824.5M766.9 855.5L814.2 860.3M814.2 860.3L861.8 855.5M861.8 855.5L909.3 860.3" stroke="#cfc6bc" stroke-width="0.9" fill="none"/>
<rect x="790.6" y="726.6" width="94.9" height="131.5" fill="none" stroke="#2e2e2e" stroke-width="1.3"/>
<circle cx="861.8" cy="744.0" r="8.7" fill="url(#na)"/>
<circle cx="861.8" cy="774.9" r="8.7" fill="url(#na)"/>
<circle cx="814.2" cy="809.6" r="8.7" fill="url(#na)"/>
<circle cx="814.2" cy="840.3" r="8.7" fill="url(#na)"/>
<circle cx="787.9" cy="694.5" r="4.4" fill="url(#cl)"/>
<circle cx="840.8" cy="694.5" r="4.4" fill="url(#cl)"/>
<circle cx="882.9" cy="694.5" r="4.4" fill="url(#cl)"/>
<circle cx="766.9" cy="724.2" r="4.4" fill="url(#cl)"/>
<circle cx="814.2" cy="729.2" r="4.4" fill="url(#cl)"/>
<circle cx="861.8" cy="724.2" r="4.4" fill="url(#cl)"/>
<circle cx="909.3" cy="729.0" r="4.4" fill="url(#cl)"/>
<circle cx="793.2" cy="759.9" r="4.4" fill="url(#cl)"/>
<circle cx="835.4" cy="759.9" r="4.4" fill="url(#cl)"/>
<circle cx="888.6" cy="759.9" r="4.4" fill="url(#cl)"/>
<circle cx="766.9" cy="794.7" r="4.4" fill="url(#cl)"/>
<circle cx="814.2" cy="790.1" r="4.4" fill="url(#cl)"/>
<circle cx="861.8" cy="794.7" r="4.4" fill="url(#cl)"/>
<circle cx="909.3" cy="790.4" r="4.4" fill="url(#cl)"/>
<circle cx="787.9" cy="824.5" r="4.4" fill="url(#cl)"/>
<circle cx="840.8" cy="824.5" r="4.4" fill="url(#cl)"/>
<circle cx="882.9" cy="824.5" r="4.4" fill="url(#cl)"/>
<circle cx="766.9" cy="855.5" r="4.4" fill="url(#cl)"/>
<circle cx="814.2" cy="860.3" r="4.4" fill="url(#cl)"/>
<circle cx="861.8" cy="855.5" r="4.4" fill="url(#cl)"/>
<circle cx="909.3" cy="860.3" r="4.4" fill="url(#cl)"/>
<circle cx="793.2" cy="890.0" r="4.4" fill="url(#cl)"/>
<circle cx="835.4" cy="890.0" r="4.4" fill="url(#cl)"/>
<circle cx="888.6" cy="890.0" r="4.4" fill="url(#cl)"/></g>
<g id="pd2"><polygon points="814.0,962.4 838.5,997.2 814.0,1033.8 789.5,998.7" fill="#5fa2e6" stroke="#cfc6bc" stroke-width="0.8" stroke-linejoin="round"/>
<polygon points="863.4,962.4 887.5,998.7 862.5,1033.8 838.5,997.2" fill="#5fa2e6" stroke="#cfc6bc" stroke-width="0.8" stroke-linejoin="round"/>
<polygon points="814.0,1033.8 838.5,1070.6 814.0,1105.4 789.5,1068.3" fill="#5fa2e6" stroke="#cfc6bc" stroke-width="0.8" stroke-linejoin="round"/>
<polygon points="862.5,1033.8 887.5,1068.3 863.4,1105.4 838.5,1070.6" fill="#5fa2e6" stroke="#cfc6bc" stroke-width="0.8" stroke-linejoin="round"/>
<polygon points="838.5,927.6 863.4,962.4 838.5,997.2 814.0,962.4" fill="#1a78e0" stroke="#cfc6bc" stroke-width="0.8" stroke-linejoin="round"/>
<polygon points="789.5,998.7 814.0,1033.8 789.5,1068.3 765.3,1033.8" fill="#1a78e0" stroke="#cfc6bc" stroke-width="0.8" stroke-linejoin="round"/>
<polygon points="887.5,998.7 912.0,1033.8 887.5,1068.3 862.5,1033.8" fill="#1a78e0" stroke="#cfc6bc" stroke-width="0.8" stroke-linejoin="round"/>
<polygon points="838.5,1070.6 863.4,1105.4 838.5,1140.2 814.0,1105.4" fill="#1a78e0" stroke="#cfc6bc" stroke-width="0.8" stroke-linejoin="round"/>
<g opacity="0.72"><circle cx="838.5" cy="962.1" r="6" fill="#1a7ce0"/><path d="M838.5 962.1L832.5 962.1A6 6 0 0 1 838.5 956.1Z" fill="#b9d9f2"/><path d="M838.5 962.1L838.5 968.1A6 6 0 0 1 832.5 962.1Z" fill="#8a3c86"/><circle cx="838.5" cy="962.1" r="6" fill="url(#sh)"/></g>
<g opacity="0.72"><circle cx="814.5" cy="997.5" r="6" fill="#1a7ce0"/><path d="M814.5 997.5L808.5 997.5A6 6 0 0 1 814.5 991.5Z" fill="#b9d9f2"/><path d="M814.5 997.5L814.5 1003.5A6 6 0 0 1 808.5 997.5Z" fill="#8a3c86"/><circle cx="814.5" cy="997.5" r="6" fill="url(#sh)"/></g>
<g opacity="0.72"><circle cx="863.0" cy="997.5" r="6" fill="#1a7ce0"/><path d="M863.0 997.5L857.0 997.5A6 6 0 0 1 863.0 991.5Z" fill="#b9d9f2"/><path d="M863.0 997.5L863.0 1003.5A6 6 0 0 1 857.0 997.5Z" fill="#8a3c86"/><circle cx="863.0" cy="997.5" r="6" fill="url(#sh)"/></g>
<g opacity="0.72"><circle cx="789.5" cy="1033.5" r="6" fill="#1a7ce0"/><path d="M789.5 1033.5L783.5 1033.5A6 6 0 0 1 789.5 1027.5Z" fill="#b9d9f2"/><path d="M789.5 1033.5L789.5 1039.5A6 6 0 0 1 783.5 1033.5Z" fill="#8a3c86"/><circle cx="789.5" cy="1033.5" r="6" fill="url(#sh)"/></g>
<g opacity="0.72"><circle cx="887.5" cy="1033.5" r="6" fill="#1a7ce0"/><path d="M887.5 1033.5L881.5 1033.5A6 6 0 0 1 887.5 1027.5Z" fill="#b9d9f2"/><path d="M887.5 1033.5L887.5 1039.5A6 6 0 0 1 881.5 1033.5Z" fill="#8a3c86"/><circle cx="887.5" cy="1033.5" r="6" fill="url(#sh)"/></g>
<g opacity="0.72"><circle cx="814.5" cy="1069.1" r="6" fill="#1a7ce0"/><path d="M814.5 1069.1L808.5 1069.1A6 6 0 0 1 814.5 1063.1Z" fill="#b9d9f2"/><path d="M814.5 1069.1L814.5 1075.1A6 6 0 0 1 808.5 1069.1Z" fill="#8a3c86"/><circle cx="814.5" cy="1069.1" r="6" fill="url(#sh)"/></g>
<g opacity="0.72"><circle cx="863.0" cy="1069.1" r="6" fill="#1a7ce0"/><path d="M863.0 1069.1L857.0 1069.1A6 6 0 0 1 863.0 1063.1Z" fill="#b9d9f2"/><path d="M863.0 1069.1L863.0 1075.1A6 6 0 0 1 857.0 1069.1Z" fill="#8a3c86"/><circle cx="863.0" cy="1069.1" r="6" fill="url(#sh)"/></g>
<g opacity="0.72"><circle cx="838.5" cy="1103.8" r="6" fill="#1a7ce0"/><path d="M838.5 1103.8L832.5 1103.8A6 6 0 0 1 838.5 1097.8Z" fill="#b9d9f2"/><path d="M838.5 1103.8L838.5 1109.8A6 6 0 0 1 832.5 1103.8Z" fill="#8a3c86"/><circle cx="838.5" cy="1103.8" r="6" fill="url(#sh)"/></g>
<path d="M814.0 962.4L863.4 962.4M789.5 998.7L838.5 997.2M838.5 997.2L887.5 998.7M765.3 1033.8L814.0 1033.8M862.5 1033.8L912.0 1033.8M789.5 1068.3L838.5 1070.6M838.5 1070.6L887.5 1068.3M814.0 1105.4L863.4 1105.4" stroke="#cfc6bc" stroke-width="0.9" fill="none"/>
<circle cx="789.8" cy="981.4" r="9.5" fill="url(#na)"/>
<circle cx="887.1" cy="981.4" r="9.5" fill="url(#na)"/>
<circle cx="838.5" cy="1014.9" r="9.5" fill="url(#na)"/>
<circle cx="838.5" cy="1052.5" r="9.5" fill="url(#na)"/>
<circle cx="789.8" cy="1086.1" r="9.5" fill="url(#na)"/>
<circle cx="887.1" cy="1086.1" r="9.5" fill="url(#na)"/>
<rect x="789.5" y="962.1" width="98.0" height="143.0" fill="none" stroke="#2e2e2e" stroke-width="1.3"/>
<circle cx="838.5" cy="927.6" r="4.5" fill="url(#cl)"/>
<circle cx="814.0" cy="965.6" r="4.5" fill="url(#cl)"/>
<circle cx="814.0" cy="960.5" r="4.5" fill="url(#cl)"/>
<circle cx="863.4" cy="965.6" r="4.5" fill="url(#cl)"/>
<circle cx="863.4" cy="960.5" r="4.5" fill="url(#cl)"/>
<circle cx="911.2" cy="960.0" r="4.5" fill="url(#cl)"/>
<circle cx="789.5" cy="998.7" r="4.5" fill="url(#cl)"/>
<circle cx="838.5" cy="997.2" r="4.5" fill="url(#cl)"/>
<circle cx="887.5" cy="998.7" r="4.5" fill="url(#cl)"/>
<circle cx="765.3" cy="1031.1" r="4.5" fill="url(#cl)"/>
<circle cx="765.3" cy="1036.7" r="4.5" fill="url(#cl)"/>
<circle cx="814.0" cy="1031.1" r="4.5" fill="url(#cl)"/>
<circle cx="814.0" cy="1036.7" r="4.5" fill="url(#cl)"/>
<circle cx="862.5" cy="1031.1" r="4.5" fill="url(#cl)"/>
<circle cx="862.5" cy="1036.7" r="4.5" fill="url(#cl)"/>
<circle cx="912.0" cy="1031.1" r="4.5" fill="url(#cl)"/>
<circle cx="912.0" cy="1036.7" r="4.5" fill="url(#cl)"/>
<circle cx="789.5" cy="1068.3" r="4.5" fill="url(#cl)"/>
<circle cx="838.5" cy="1070.6" r="4.5" fill="url(#cl)"/>
<circle cx="887.5" cy="1068.3" r="4.5" fill="url(#cl)"/>
<circle cx="765.8" cy="1107.4" r="4.5" fill="url(#cl)"/>
<circle cx="814.0" cy="1108.1" r="4.5" fill="url(#cl)"/>
<circle cx="814.0" cy="1103.0" r="4.5" fill="url(#cl)"/>
<circle cx="863.4" cy="1108.1" r="4.5" fill="url(#cl)"/>
<circle cx="863.4" cy="1103.0" r="4.5" fill="url(#cl)"/>
<circle cx="911.2" cy="1107.4" r="4.5" fill="url(#cl)"/>
<circle cx="838.5" cy="1140.2" r="4.5" fill="url(#cl)"/></g>
<g id="pd3"><rect x="765.0" y="1190.0" width="151.2" height="159.5" fill="#629ed8"/>
<rect x="815.0" y="1190.0" width="50.5" height="159.5" fill="#2d7acb"/>
<rect x="790.2" y="1216.2" width="100.6" height="106.8" fill="#1f6fc4" fill-opacity="0.3"/>
<rect x="815.0" y="1216.2" width="50.5" height="106.8" fill="#1a6ac4" fill-opacity="0.35"/>
<rect x="765.0" y="1267.0" width="151.2" height="7.6" fill="#9cc4ea" fill-opacity="0.25"/>
<circle cx="840.5" cy="1243.2" r="9.8" fill="url(#pu)" opacity="0.5"/>
<circle cx="790.2" cy="1296.1" r="9.8" fill="url(#pu)" opacity="0.5"/>
<circle cx="840.5" cy="1296.1" r="9.8" fill="url(#pu)" opacity="0.5"/>
<circle cx="890.8" cy="1296.1" r="9.8" fill="url(#pu)" opacity="0.5"/>
<path d="M815.0 1190.0L815.0 1349.5M865.5 1190.0L865.5 1349.5M765.0 1243.2L916.2 1243.2M765.0 1296.1L916.2 1296.1M790.2 1213.2L765.0 1190.0M790.2 1213.2L765.0 1243.2M790.2 1213.2L815.0 1190.0M790.2 1213.2L815.0 1243.2M840.5 1219.7L815.0 1190.0M840.5 1219.7L815.0 1243.2M840.5 1219.7L865.5 1190.0M840.5 1219.7L865.5 1243.2M890.8 1213.2L865.5 1190.0M890.8 1213.2L865.5 1243.2M890.8 1213.2L916.2 1190.0M890.8 1213.2L916.2 1243.2M790.2 1272.7L765.0 1243.2M790.2 1272.7L765.0 1296.1M790.2 1272.7L815.0 1243.2M790.2 1272.7L815.0 1296.1M840.5 1267.0L815.0 1243.2M840.5 1267.0L815.0 1296.1M840.5 1267.0L865.5 1243.2M840.5 1267.0L865.5 1296.1M890.8 1272.7L865.5 1243.2M890.8 1272.7L865.5 1296.1M890.8 1272.7L916.2 1243.2M890.8 1272.7L916.2 1296.1M790.2 1320.0L765.0 1296.1M790.2 1320.0L765.0 1349.5M790.2 1320.0L815.0 1296.1M790.2 1320.0L815.0 1349.5M840.5 1326.1L815.0 1296.1M840.5 1326.1L815.0 1349.5M840.5 1326.1L865.5 1296.1M840.5 1326.1L865.5 1349.5M890.8 1320.0L865.5 1296.1M890.8 1320.0L865.5 1349.5M890.8 1320.0L916.2 1296.1M890.8 1320.0L916.2 1349.5" stroke="#d9dde2" stroke-width="0.9" fill="none" stroke-opacity="0.72"/>
<rect x="790.2" y="1216.2" width="100.6" height="106.8" fill="none" stroke="#3c3c3c" stroke-width="1.4"/>
<g opacity="0.75"><circle cx="790.2" cy="1215.5" r="4.4" fill="#1a7ce0"/><path d="M790.2 1215.5L785.8 1215.5A4.4 4.4 0 0 1 790.2 1211.1Z" fill="#b9d9f2"/><path d="M790.2 1215.5L790.2 1219.9A4.4 4.4 0 0 1 785.8 1215.5Z" fill="#8a3c86"/><circle cx="790.2" cy="1215.5" r="4.4" fill="url(#sh)"/></g>
<g opacity="0.75"><circle cx="840.5" cy="1217.9" r="4.4" fill="#1a7ce0"/><path d="M840.5 1217.9L836.1 1217.9A4.4 4.4 0 0 1 840.5 1213.5Z" fill="#b9d9f2"/><path d="M840.5 1217.9L840.5 1222.3A4.4 4.4 0 0 1 836.1 1217.9Z" fill="#8a3c86"/><circle cx="840.5" cy="1217.9" r="4.4" fill="url(#sh)"/></g>
<g opacity="0.75"><circle cx="890.8" cy="1215.5" r="4.4" fill="#1a7ce0"/><path d="M890.8 1215.5L886.4 1215.5A4.4 4.4 0 0 1 890.8 1211.1Z" fill="#b9d9f2"/><path d="M890.8 1215.5L890.8 1219.9A4.4 4.4 0 0 1 886.4 1215.5Z" fill="#8a3c86"/><circle cx="890.8" cy="1215.5" r="4.4" fill="url(#sh)"/></g>
<g opacity="0.75"><circle cx="790.2" cy="1270.9" r="4.4" fill="#1a7ce0"/><path d="M790.2 1270.9L785.8 1270.9A4.4 4.4 0 0 1 790.2 1266.5Z" fill="#b9d9f2"/><path d="M790.2 1270.9L790.2 1275.3A4.4 4.4 0 0 1 785.8 1270.9Z" fill="#8a3c86"/><circle cx="790.2" cy="1270.9" r="4.4" fill="url(#sh)"/></g>
<g opacity="0.75"><circle cx="840.5" cy="1269.7" r="4.4" fill="#1a7ce0"/><path d="M840.5 1269.7L836.1 1269.7A4.4 4.4 0 0 1 840.5 1265.3Z" fill="#b9d9f2"/><path d="M840.5 1269.7L840.5 1274.1A4.4 4.4 0 0 1 836.1 1269.7Z" fill="#8a3c86"/><circle cx="840.5" cy="1269.7" r="4.4" fill="url(#sh)"/></g>
<g opacity="0.75"><circle cx="890.8" cy="1270.9" r="4.4" fill="#1a7ce0"/><path d="M890.8 1270.9L886.4 1270.9A4.4 4.4 0 0 1 890.8 1266.5Z" fill="#b9d9f2"/><path d="M890.8 1270.9L890.8 1275.3A4.4 4.4 0 0 1 886.4 1270.9Z" fill="#8a3c86"/><circle cx="890.8" cy="1270.9" r="4.4" fill="url(#sh)"/></g>
<g opacity="0.75"><circle cx="790.2" cy="1322.3" r="4.4" fill="#1a7ce0"/><path d="M790.2 1322.3L785.8 1322.3A4.4 4.4 0 0 1 790.2 1317.9Z" fill="#b9d9f2"/><path d="M790.2 1322.3L790.2 1326.7A4.4 4.4 0 0 1 785.8 1322.3Z" fill="#8a3c86"/><circle cx="790.2" cy="1322.3" r="4.4" fill="url(#sh)"/></g>
<g opacity="0.75"><circle cx="840.5" cy="1324.2" r="4.4" fill="#1a7ce0"/><path d="M840.5 1324.2L836.1 1324.2A4.4 4.4 0 0 1 840.5 1319.8Z" fill="#b9d9f2"/><path d="M840.5 1324.2L840.5 1328.6A4.4 4.4 0 0 1 836.1 1324.2Z" fill="#8a3c86"/><circle cx="840.5" cy="1324.2" r="4.4" fill="url(#sh)"/></g>
<g opacity="0.75"><circle cx="890.8" cy="1322.3" r="4.4" fill="#1a7ce0"/><path d="M890.8 1322.3L886.4 1322.3A4.4 4.4 0 0 1 890.8 1317.9Z" fill="#b9d9f2"/><path d="M890.8 1322.3L890.8 1326.7A4.4 4.4 0 0 1 886.4 1322.3Z" fill="#8a3c86"/><circle cx="890.8" cy="1322.3" r="4.4" fill="url(#sh)"/></g>
<circle cx="790.2" cy="1243.2" r="9.8" fill="url(#na)"/>
<circle cx="890.8" cy="1243.2" r="9.8" fill="url(#na)"/>
<circle cx="765.0" cy="1190.0" r="4.8" fill="url(#cl)"/>
<circle cx="815.0" cy="1190.0" r="4.8" fill="url(#cl)"/>
<circle cx="865.5" cy="1190.0" r="4.8" fill="url(#cl)"/>
<circle cx="916.2" cy="1190.0" r="4.8" fill="url(#cl)"/>
<circle cx="790.2" cy="1213.2" r="4.8" fill="url(#cl)"/>
<circle cx="840.5" cy="1219.7" r="4.8" fill="url(#cl)"/>
<circle cx="890.8" cy="1213.2" r="4.8" fill="url(#cl)"/>
<circle cx="765.0" cy="1243.2" r="4.8" fill="url(#cl)"/>
<circle cx="815.0" cy="1243.2" r="4.8" fill="url(#cl)"/>
<circle cx="865.5" cy="1243.2" r="4.8" fill="url(#cl)"/>
<circle cx="916.2" cy="1243.2" r="4.8" fill="url(#cl)"/>
<circle cx="790.2" cy="1272.7" r="4.8" fill="url(#cl)"/>
<circle cx="840.5" cy="1267.0" r="4.8" fill="url(#cl)"/>
<circle cx="890.8" cy="1272.7" r="4.8" fill="url(#cl)"/>
<circle cx="765.0" cy="1296.1" r="4.8" fill="url(#cl)"/>
<circle cx="815.0" cy="1296.1" r="4.8" fill="url(#cl)"/>
<circle cx="865.5" cy="1296.1" r="4.8" fill="url(#cl)"/>
<circle cx="916.2" cy="1296.1" r="4.8" fill="url(#cl)"/>
<circle cx="790.2" cy="1320.0" r="4.8" fill="url(#cl)"/>
<circle cx="840.5" cy="1326.1" r="4.8" fill="url(#cl)"/>
<circle cx="890.8" cy="1320.0" r="4.8" fill="url(#cl)"/>
<circle cx="765.0" cy="1349.5" r="4.8" fill="url(#cl)"/>
<circle cx="815.0" cy="1349.5" r="4.8" fill="url(#cl)"/>
<circle cx="865.5" cy="1349.5" r="4.8" fill="url(#cl)"/>
<circle cx="916.2" cy="1349.5" r="4.8" fill="url(#cl)"/></g>
<g id="pe1"><clipPath id="eclip"><polygon points="1095.8,705.3 1106.3,715.8 1117.0,705.3 1135.8,724.2 1154.2,705.3 1165.0,715.8 1175.5,705.3 1194.2,724.2 1213.0,705.3 1232.0,724.3 1232.0,728.7 1213.3,745.0 1232.0,761.3 1232.0,766.0 1223.7,774.3 1232.0,782.7 1232.0,787.3 1213.3,803.7 1232.0,820.2 1232.0,824.8 1223.7,833.0 1232.0,841.3 1232.0,845.0 1204.7,870.3 1194.0,859.7 1183.3,870.3 1164.7,851.7 1146.2,870.3 1135.5,859.7 1125.0,870.3 1106.5,851.7 1088.0,870.3 1070.0,852.3 1070.0,847.5 1085.0,833.0 1070.0,818.3 1070.0,811.7 1078.0,803.7 1070.0,795.7 1070.0,788.8 1085.0,774.2 1070.0,759.5 1070.0,753.3 1078.0,745.3 1070.0,737.3 1070.0,731.2"/></clipPath>
<circle cx="1106.3" cy="715.8" r="7.6" fill="#d0102a"/><path d="M1106.3 715.8L1099.0 713.9A7.6 7.6 0 0 1 1105.0 708.3Z" fill="#f0e8ea"/><circle cx="1106.3" cy="715.8" r="7.6" fill="url(#sh)"/>
<circle cx="1165.0" cy="715.8" r="7.6" fill="#d0102a"/><path d="M1165.0 715.8L1157.7 713.9A7.6 7.6 0 0 1 1163.7 708.3Z" fill="#f0e8ea"/><circle cx="1165.0" cy="715.8" r="7.6" fill="url(#sh)"/>
<circle cx="1135.8" cy="745.0" r="7.6" fill="#d0102a"/><path d="M1135.8 745.0L1128.5 743.0A7.6 7.6 0 0 1 1134.5 737.5Z" fill="#f0e8ea"/><circle cx="1135.8" cy="745.0" r="7.6" fill="url(#sh)"/>
<circle cx="1106.3" cy="774.2" r="7.6" fill="#d0102a"/><path d="M1106.3 774.2L1099.0 772.2A7.6 7.6 0 0 1 1105.0 766.7Z" fill="#f0e8ea"/><circle cx="1106.3" cy="774.2" r="7.6" fill="url(#sh)"/>
<circle cx="1223.7" cy="774.2" r="7.6" fill="#d0102a"/><path d="M1223.7 774.2L1216.3 772.2A7.6 7.6 0 0 1 1222.3 766.7Z" fill="#f0e8ea"/><circle cx="1223.7" cy="774.2" r="7.6" fill="url(#sh)"/>
<circle cx="1077.0" cy="803.8" r="7.6" fill="#d0102a"/><path d="M1077.0 803.8L1069.7 801.9A7.6 7.6 0 0 1 1075.7 796.3Z" fill="#f0e8ea"/><circle cx="1077.0" cy="803.8" r="7.6" fill="url(#sh)"/>
<circle cx="1194.2" cy="803.8" r="7.6" fill="#d0102a"/><path d="M1194.2 803.8L1186.8 801.9A7.6 7.6 0 0 1 1192.8 796.3Z" fill="#f0e8ea"/><circle cx="1194.2" cy="803.8" r="7.6" fill="url(#sh)"/>
<circle cx="1165.0" cy="833.0" r="7.6" fill="#d0102a"/><path d="M1165.0 833.0L1157.7 831.0A7.6 7.6 0 0 1 1163.7 825.5Z" fill="#f0e8ea"/><circle cx="1165.0" cy="833.0" r="7.6" fill="url(#sh)"/>
<circle cx="1223.7" cy="833.0" r="7.6" fill="#d0102a"/><path d="M1223.7 833.0L1216.3 831.0A7.6 7.6 0 0 1 1222.3 825.5Z" fill="#f0e8ea"/><circle cx="1223.7" cy="833.0" r="7.6" fill="url(#sh)"/>
<circle cx="1135.8" cy="862.5" r="7.6" fill="#d0102a"/><path d="M1135.8 862.5L1128.5 860.5A7.6 7.6 0 0 1 1134.5 855.0Z" fill="#f0e8ea"/><circle cx="1135.8" cy="862.5" r="7.6" fill="url(#sh)"/>
<g clip-path="url(#eclip)">
<polygon points="951.0,791.0 972.9,812.9 1172.9,612.9 1151.0,591.0" fill="#2a72c4" fill-opacity="0.42"/>
<polygon points="980.3,820.3 1002.1,842.1 1202.1,642.1 1180.3,620.3" fill="#2a72c4" fill-opacity="0.42"/>
<polygon points="1009.5,849.5 1031.4,871.4 1231.4,671.4 1209.5,649.5" fill="#2a72c4" fill-opacity="0.42"/>
<polygon points="1038.8,878.8 1060.6,900.6 1260.6,700.6 1238.8,678.8" fill="#2a72c4" fill-opacity="0.42"/>
<polygon points="1068.0,908.0 1089.9,929.9 1289.9,729.9 1268.0,708.0" fill="#2a72c4" fill-opacity="0.42"/>
<polygon points="1097.3,937.3 1119.1,959.1 1319.1,759.1 1297.3,737.3" fill="#2a72c4" fill-opacity="0.42"/>
<polygon points="1126.5,966.5 1148.4,988.4 1348.4,788.4 1326.5,766.5" fill="#2a72c4" fill-opacity="0.42"/>
<polygon points="961.5,768.5 1169.8,976.9 1191.6,955.0 983.3,746.7" fill="#2a72c4" fill-opacity="0.42"/>
<polygon points="990.7,739.3 1199.0,947.6 1220.9,925.8 1012.5,717.5" fill="#2a72c4" fill-opacity="0.42"/>
<polygon points="1020.0,710.0 1228.3,918.4 1250.1,896.5 1041.8,688.2" fill="#2a72c4" fill-opacity="0.42"/>
<polygon points="1049.2,680.8 1257.5,889.1 1279.4,867.3 1071.0,659.0" fill="#2a72c4" fill-opacity="0.42"/>
<polygon points="1078.5,651.5 1286.8,859.9 1308.6,838.0 1100.3,629.7" fill="#2a72c4" fill-opacity="0.42"/>
<polygon points="1107.7,622.3 1316.0,830.6 1337.9,808.8 1129.5,600.5" fill="#2a72c4" fill-opacity="0.42"/>
<polygon points="1057.6,745.3 1077.1,764.8 1096.6,745.3 1077.1,725.8" fill="#2a72c4" fill-opacity="0.42"/>
<path d="M1067.3 735.6L1086.8 755.1M1067.3 755.1L1086.8 735.6" stroke="#9cc0e8" stroke-width="1.6" fill="none" stroke-opacity="0.55"/>
<polygon points="1086.8,716.1 1106.3,735.6 1125.8,716.1 1106.3,696.6" fill="#2a72c4" fill-opacity="0.42"/>
<path d="M1096.6 706.3L1116.1 725.8M1096.6 725.8L1116.1 706.3" stroke="#9cc0e8" stroke-width="1.6" fill="none" stroke-opacity="0.55"/>
<polygon points="1057.6,803.8 1077.1,823.3 1096.6,803.8 1077.1,784.3" fill="#2a72c4" fill-opacity="0.42"/>
<path d="M1067.3 794.1L1086.8 813.6M1067.3 813.6L1086.8 794.1" stroke="#9cc0e8" stroke-width="1.6" fill="none" stroke-opacity="0.55"/>
<polygon points="1086.8,774.6 1106.3,794.1 1125.8,774.6 1106.3,755.1" fill="#2a72c4" fill-opacity="0.42"/>
<path d="M1096.6 764.8L1116.1 784.3M1096.6 784.3L1116.1 764.8" stroke="#9cc0e8" stroke-width="1.6" fill="none" stroke-opacity="0.55"/>
<polygon points="1116.1,745.3 1135.6,764.8 1155.1,745.3 1135.6,725.8" fill="#2a72c4" fill-opacity="0.42"/>
<path d="M1125.8 735.6L1145.3 755.1M1125.8 755.1L1145.3 735.6" stroke="#9cc0e8" stroke-width="1.6" fill="none" stroke-opacity="0.55"/>
<polygon points="1145.3,716.1 1164.8,735.6 1184.3,716.1 1164.8,696.6" fill="#2a72c4" fill-opacity="0.42"/>
<path d="M1155.1 706.3L1174.6 725.8M1155.1 725.8L1174.6 706.3" stroke="#9cc0e8" stroke-width="1.6" fill="none" stroke-opacity="0.55"/>
<polygon points="1057.6,862.3 1077.1,881.8 1096.6,862.3 1077.1,842.8" fill="#2a72c4" fill-opacity="0.42"/>
<path d="M1067.3 852.6L1086.8 872.1M1067.3 872.1L1086.8 852.6" stroke="#9cc0e8" stroke-width="1.6" fill="none" stroke-opacity="0.55"/>
<polygon points="1086.8,833.1 1106.3,852.6 1125.8,833.1 1106.3,813.6" fill="#2a72c4" fill-opacity="0.42"/>
<path d="M1096.6 823.3L1116.1 842.8M1096.6 842.8L1116.1 823.3" stroke="#9cc0e8" stroke-width="1.6" fill="none" stroke-opacity="0.55"/>
<polygon points="1116.1,803.8 1135.6,823.3 1155.1,803.8 1135.6,784.3" fill="#2a72c4" fill-opacity="0.42"/>
<path d="M1125.8 794.1L1145.3 813.6M1125.8 813.6L1145.3 794.1" stroke="#9cc0e8" stroke-width="1.6" fill="none" stroke-opacity="0.55"/>
<polygon points="1145.3,774.6 1164.8,794.1 1184.3,774.6 1164.8,755.1" fill="#2a72c4" fill-opacity="0.42"/>
<path d="M1155.1 764.8L1174.6 784.3M1155.1 784.3L1174.6 764.8" stroke="#9cc0e8" stroke-width="1.6" fill="none" stroke-opacity="0.55"/>
<polygon points="1174.6,745.3 1194.1,764.8 1213.6,745.3 1194.1,725.8" fill="#2a72c4" fill-opacity="0.42"/>
<path d="M1184.3 735.6L1203.8 755.1M1184.3 755.1L1203.8 735.6" stroke="#9cc0e8" stroke-width="1.6" fill="none" stroke-opacity="0.55"/>
<polygon points="1203.8,716.1 1223.3,735.6 1242.8,716.1 1223.3,696.6" fill="#2a72c4" fill-opacity="0.42"/>
<path d="M1213.6 706.3L1233.1 725.8M1213.6 725.8L1233.1 706.3" stroke="#9cc0e8" stroke-width="1.6" fill="none" stroke-opacity="0.55"/>
<polygon points="1116.1,862.3 1135.6,881.8 1155.1,862.3 1135.6,842.8" fill="#2a72c4" fill-opacity="0.42"/>
<path d="M1125.8 852.6L1145.3 872.1M1125.8 872.1L1145.3 852.6" stroke="#9cc0e8" stroke-width="1.6" fill="none" stroke-opacity="0.55"/>
<polygon points="1145.3,833.1 1164.8,852.6 1184.3,833.1 1164.8,813.6" fill="#2a72c4" fill-opacity="0.42"/>
<path d="M1155.1 823.3L1174.6 842.8M1155.1 842.8L1174.6 823.3" stroke="#9cc0e8" stroke-width="1.6" fill="none" stroke-opacity="0.55"/>
<polygon points="1174.6,803.8 1194.1,823.3 1213.6,803.8 1194.1,784.3" fill="#2a72c4" fill-opacity="0.42"/>
<path d="M1184.3 794.1L1203.8 813.6M1184.3 813.6L1203.8 794.1" stroke="#9cc0e8" stroke-width="1.6" fill="none" stroke-opacity="0.55"/>
<polygon points="1203.8,774.6 1223.3,794.1 1242.8,774.6 1223.3,755.1" fill="#2a72c4" fill-opacity="0.42"/>
<path d="M1213.6 764.8L1233.1 784.3M1213.6 784.3L1233.1 764.8" stroke="#9cc0e8" stroke-width="1.6" fill="none" stroke-opacity="0.55"/>
<polygon points="1174.6,862.3 1194.1,881.8 1213.6,862.3 1194.1,842.8" fill="#2a72c4" fill-opacity="0.42"/>
<path d="M1184.3 852.6L1203.8 872.1M1184.3 872.1L1203.8 852.6" stroke="#9cc0e8" stroke-width="1.6" fill="none" stroke-opacity="0.55"/>
<polygon points="1203.8,833.1 1223.3,852.6 1242.8,833.1 1223.3,813.6" fill="#2a72c4" fill-opacity="0.42"/>
<path d="M1213.6 823.3L1233.1 842.8M1213.6 842.8L1233.1 823.3" stroke="#9cc0e8" stroke-width="1.6" fill="none" stroke-opacity="0.55"/>
<path d="M1040 680H1254V900H1040ZM1091.7 730.3V848.0H1209.7V730.3Z" fill="#fff" fill-opacity=".22" fill-rule="evenodd"/>
</g>
<g clip-path="url(#eclip)">
<g opacity="0.35"><circle cx="1106.3" cy="715.8" r="7.6" fill="#8a1844"/><path d="M1106.3 715.8L1099.0 713.9A7.6 7.6 0 0 1 1105.0 708.3Z" fill="#b8a8c8"/><circle cx="1106.3" cy="715.8" r="7.6" fill="url(#sh)"/></g>
<g opacity="0.35"><circle cx="1165.0" cy="715.8" r="7.6" fill="#8a1844"/><path d="M1165.0 715.8L1157.7 713.9A7.6 7.6 0 0 1 1163.7 708.3Z" fill="#b8a8c8"/><circle cx="1165.0" cy="715.8" r="7.6" fill="url(#sh)"/></g>
<g opacity="0.35"><circle cx="1135.8" cy="745.0" r="7.6" fill="#8a1844"/><path d="M1135.8 745.0L1128.5 743.0A7.6 7.6 0 0 1 1134.5 737.5Z" fill="#b8a8c8"/><circle cx="1135.8" cy="745.0" r="7.6" fill="url(#sh)"/></g>
<g opacity="0.35"><circle cx="1106.3" cy="774.2" r="7.6" fill="#8a1844"/><path d="M1106.3 774.2L1099.0 772.2A7.6 7.6 0 0 1 1105.0 766.7Z" fill="#b8a8c8"/><circle cx="1106.3" cy="774.2" r="7.6" fill="url(#sh)"/></g>
<g opacity="0.35"><circle cx="1223.7" cy="774.2" r="7.6" fill="#8a1844"/><path d="M1223.7 774.2L1216.3 772.2A7.6 7.6 0 0 1 1222.3 766.7Z" fill="#b8a8c8"/><circle cx="1223.7" cy="774.2" r="7.6" fill="url(#sh)"/></g>
<g opacity="0.35"><circle cx="1077.0" cy="803.8" r="7.6" fill="#8a1844"/><path d="M1077.0 803.8L1069.7 801.9A7.6 7.6 0 0 1 1075.7 796.3Z" fill="#b8a8c8"/><circle cx="1077.0" cy="803.8" r="7.6" fill="url(#sh)"/></g>
<g opacity="0.35"><circle cx="1194.2" cy="803.8" r="7.6" fill="#8a1844"/><path d="M1194.2 803.8L1186.8 801.9A7.6 7.6 0 0 1 1192.8 796.3Z" fill="#b8a8c8"/><circle cx="1194.2" cy="803.8" r="7.6" fill="url(#sh)"/></g>
<g opacity="0.35"><circle cx="1165.0" cy="833.0" r="7.6" fill="#8a1844"/><path d="M1165.0 833.0L1157.7 831.0A7.6 7.6 0 0 1 1163.7 825.5Z" fill="#b8a8c8"/><circle cx="1165.0" cy="833.0" r="7.6" fill="url(#sh)"/></g>
<g opacity="0.35"><circle cx="1223.7" cy="833.0" r="7.6" fill="#8a1844"/><path d="M1223.7 833.0L1216.3 831.0A7.6 7.6 0 0 1 1222.3 825.5Z" fill="#b8a8c8"/><circle cx="1223.7" cy="833.0" r="7.6" fill="url(#sh)"/></g>
<g opacity="0.35"><circle cx="1135.8" cy="862.5" r="7.6" fill="#8a1844"/><path d="M1135.8 862.5L1128.5 860.5A7.6 7.6 0 0 1 1134.5 855.0Z" fill="#b8a8c8"/><circle cx="1135.8" cy="862.5" r="7.6" fill="url(#sh)"/></g>
</g>
<rect x="1091.7" y="730.3" width="118.0" height="117.7" fill="none" stroke="#3c3c3c" stroke-width="1.4"/>
<circle cx="1091.7" cy="730.3" r="7.6" fill="#f4f4f4"/><path d="M1091.7 730.3L1092.7 722.8A7.6 7.6 0 0 1 1097.0 725.0Z" fill="#e60f0f"/><circle cx="1091.7" cy="730.3" r="7.6" fill="url(#sh)"/>
<circle cx="1120.8" cy="730.3" r="7.6" fill="#1a7ce0"/><path d="M1120.8 730.3L1120.8 722.7A7.6 7.6 0 0 1 1120.8 737.9Z" fill="#b0204a"/><circle cx="1120.8" cy="730.3" r="7.6" fill="url(#sh)"/>
<circle cx="1150.0" cy="730.3" r="7.6" fill="#1a7ce0"/><path d="M1150.0 730.3L1150.0 722.7A7.6 7.6 0 0 1 1150.0 737.9Z" fill="#b0204a"/><circle cx="1150.0" cy="730.3" r="7.6" fill="url(#sh)"/>
<circle cx="1179.7" cy="730.3" r="7.6" fill="#f4f4f4"/><path d="M1179.7 730.3L1180.7 722.8A7.6 7.6 0 0 1 1185.0 725.0Z" fill="#e60f0f"/><circle cx="1179.7" cy="730.3" r="7.6" fill="url(#sh)"/>
<circle cx="1209.2" cy="730.3" r="7.6" fill="#f4f4f4"/><path d="M1209.2 730.3L1210.2 722.8A7.6 7.6 0 0 1 1214.5 725.0Z" fill="#e60f0f"/><circle cx="1209.2" cy="730.3" r="7.6" fill="url(#sh)"/>
<circle cx="1091.7" cy="759.5" r="7.6" fill="#f4f4f4"/><path d="M1091.7 759.5L1092.7 752.0A7.6 7.6 0 0 1 1097.0 754.1Z" fill="#e60f0f"/><circle cx="1091.7" cy="759.5" r="7.6" fill="url(#sh)"/>
<circle cx="1120.8" cy="759.5" r="7.6" fill="#1a7ce0"/><path d="M1120.8 759.5L1120.8 751.9A7.6 7.6 0 0 1 1120.8 767.1Z" fill="#b0204a"/><circle cx="1120.8" cy="759.5" r="7.6" fill="url(#sh)"/>
<circle cx="1150.0" cy="759.5" r="7.6" fill="#1a7ce0"/><path d="M1150.0 759.5L1150.0 751.9A7.6 7.6 0 0 1 1150.0 767.1Z" fill="#b0204a"/><circle cx="1150.0" cy="759.5" r="7.6" fill="url(#sh)"/>
<circle cx="1179.7" cy="759.5" r="7.6" fill="url(#wh)"/>
<circle cx="1209.2" cy="759.5" r="7.6" fill="#f4f4f4"/><path d="M1209.2 759.5L1210.2 752.0A7.6 7.6 0 0 1 1214.5 754.1Z" fill="#e60f0f"/><circle cx="1209.2" cy="759.5" r="7.6" fill="url(#sh)"/>
<circle cx="1091.7" cy="789.2" r="7.6" fill="#1a7ce0"/><path d="M1091.7 789.2L1091.7 781.6A7.6 7.6 0 0 1 1091.7 796.8Z" fill="#b0204a"/><circle cx="1091.7" cy="789.2" r="7.6" fill="url(#sh)"/>
<circle cx="1120.8" cy="789.2" r="7.6" fill="#f4f4f4"/><path d="M1120.8 789.2L1121.9 781.6A7.6 7.6 0 0 1 1126.2 783.8Z" fill="#e60f0f"/><circle cx="1120.8" cy="789.2" r="7.6" fill="url(#sh)"/>
<circle cx="1150.0" cy="789.2" r="7.6" fill="#f4f4f4"/><path d="M1150.0 789.2L1151.1 781.6A7.6 7.6 0 0 1 1155.4 783.8Z" fill="#e60f0f"/><circle cx="1150.0" cy="789.2" r="7.6" fill="url(#sh)"/>
<circle cx="1179.7" cy="789.2" r="7.6" fill="#1a7ce0"/><path d="M1179.7 789.2L1179.7 781.6A7.6 7.6 0 0 1 1179.7 796.8Z" fill="#b0204a"/><circle cx="1179.7" cy="789.2" r="7.6" fill="url(#sh)"/>
<circle cx="1209.2" cy="789.2" r="7.6" fill="#1a7ce0"/><path d="M1209.2 789.2L1209.2 781.6A7.6 7.6 0 0 1 1209.2 796.8Z" fill="#b0204a"/><circle cx="1209.2" cy="789.2" r="7.6" fill="url(#sh)"/>
<circle cx="1091.7" cy="818.3" r="7.6" fill="#1a7ce0"/><path d="M1091.7 818.3L1091.7 810.7A7.6 7.6 0 0 1 1091.7 825.9Z" fill="#b0204a"/><circle cx="1091.7" cy="818.3" r="7.6" fill="url(#sh)"/>
<circle cx="1120.8" cy="818.3" r="7.6" fill="url(#wh)"/>
<circle cx="1150.0" cy="818.3" r="7.6" fill="#f4f4f4"/><path d="M1150.0 818.3L1151.1 810.8A7.6 7.6 0 0 1 1155.4 813.0Z" fill="#e60f0f"/><circle cx="1150.0" cy="818.3" r="7.6" fill="url(#sh)"/>
<circle cx="1179.7" cy="818.3" r="7.6" fill="#1a7ce0"/><path d="M1179.7 818.3L1179.7 810.7A7.6 7.6 0 0 1 1179.7 825.9Z" fill="#b0204a"/><circle cx="1179.7" cy="818.3" r="7.6" fill="url(#sh)"/>
<circle cx="1209.2" cy="818.3" r="7.6" fill="#1a7ce0"/><path d="M1209.2 818.3L1209.2 810.7A7.6 7.6 0 0 1 1209.2 825.9Z" fill="#b0204a"/><circle cx="1209.2" cy="818.3" r="7.6" fill="url(#sh)"/>
<circle cx="1091.7" cy="847.5" r="7.6" fill="#f4f4f4"/><path d="M1091.7 847.5L1092.7 840.0A7.6 7.6 0 0 1 1097.0 842.1Z" fill="#e60f0f"/><circle cx="1091.7" cy="847.5" r="7.6" fill="url(#sh)"/>
<circle cx="1120.8" cy="847.5" r="7.6" fill="#1a7ce0"/><path d="M1120.8 847.5L1120.8 839.9A7.6 7.6 0 0 1 1120.8 855.1Z" fill="#b0204a"/><circle cx="1120.8" cy="847.5" r="7.6" fill="url(#sh)"/>
<circle cx="1150.0" cy="847.5" r="7.6" fill="#1a7ce0"/><path d="M1150.0 847.5L1150.0 839.9A7.6 7.6 0 0 1 1150.0 855.1Z" fill="#b0204a"/><circle cx="1150.0" cy="847.5" r="7.6" fill="url(#sh)"/>
<circle cx="1179.7" cy="847.5" r="7.6" fill="url(#wh)"/>
<circle cx="1209.2" cy="847.5" r="7.6" fill="#f4f4f4"/><path d="M1209.2 847.5L1210.2 840.0A7.6 7.6 0 0 1 1214.5 842.1Z" fill="#e60f0f"/><circle cx="1209.2" cy="847.5" r="7.6" fill="url(#sh)"/>
<circle cx="1077.0" cy="745.3" r="7.6" fill="#e60f0f"/><path d="M1077.0 745.3L1069.7 743.4A7.6 7.6 0 0 1 1075.7 737.8Z" fill="#f4f4f4"/><circle cx="1077.0" cy="745.3" r="7.6" fill="url(#sh)"/>
<circle cx="1194.2" cy="745.3" r="7.6" fill="#e60f0f"/><path d="M1194.2 745.3L1186.8 743.4A7.6 7.6 0 0 1 1192.8 737.8Z" fill="#f4f4f4"/><circle cx="1194.2" cy="745.3" r="7.6" fill="url(#sh)"/>
<circle cx="1165.0" cy="774.7" r="7.6" fill="#e60f0f"/><path d="M1165.0 774.7L1157.7 772.7A7.6 7.6 0 0 1 1163.7 767.2Z" fill="#f4f4f4"/><circle cx="1165.0" cy="774.7" r="7.6" fill="url(#sh)"/>
<circle cx="1135.8" cy="803.8" r="7.6" fill="#e60f0f"/><path d="M1135.8 803.8L1128.5 801.9A7.6 7.6 0 0 1 1134.5 796.3Z" fill="#f4f4f4"/><circle cx="1135.8" cy="803.8" r="7.6" fill="url(#sh)"/>
<circle cx="1106.3" cy="833.0" r="7.6" fill="#e60f0f"/><path d="M1106.3 833.0L1099.0 831.0A7.6 7.6 0 0 1 1105.0 825.5Z" fill="#f4f4f4"/><circle cx="1106.3" cy="833.0" r="7.6" fill="url(#sh)"/>
<circle cx="1194.2" cy="862.5" r="7.6" fill="#e60f0f"/><path d="M1194.2 862.5L1186.8 860.5A7.6 7.6 0 0 1 1192.8 855.0Z" fill="#f4f4f4"/><circle cx="1194.2" cy="862.5" r="7.6" fill="url(#sh)"/>
<circle cx="1088.0" cy="697.0" r="3.6" fill="url(#cl)"/>
<circle cx="1125.0" cy="697.0" r="3.6" fill="url(#cl)"/>
<circle cx="1146.2" cy="697.0" r="3.6" fill="url(#cl)"/>
<circle cx="1183.3" cy="697.0" r="3.6" fill="url(#cl)"/>
<circle cx="1204.7" cy="697.0" r="3.6" fill="url(#cl)"/>
<circle cx="1095.8" cy="705.3" r="3.6" fill="url(#cl)"/>
<circle cx="1117.0" cy="705.3" r="3.6" fill="url(#cl)"/>
<circle cx="1154.2" cy="705.3" r="3.6" fill="url(#cl)"/>
<circle cx="1175.5" cy="705.3" r="3.6" fill="url(#cl)"/>
<circle cx="1213.0" cy="705.3" r="3.6" fill="url(#cl)"/>
<circle cx="1058.7" cy="726.3" r="3.6" fill="url(#cl)"/>
<circle cx="1154.2" cy="726.3" r="3.6" fill="url(#cl)"/>
<circle cx="1175.5" cy="726.3" r="3.6" fill="url(#cl)"/>
<circle cx="1234.2" cy="726.3" r="3.6" fill="url(#cl)"/>
<circle cx="1096.7" cy="725.3" r="3.6" fill="url(#cl)"/>
<circle cx="1213.3" cy="725.3" r="3.6" fill="url(#cl)"/>
<circle cx="1066.7" cy="734.7" r="3.6" fill="url(#cl)"/>
<circle cx="1088.0" cy="734.7" r="3.6" fill="url(#cl)"/>
<circle cx="1125.0" cy="734.7" r="3.6" fill="url(#cl)"/>
<circle cx="1204.7" cy="734.7" r="3.6" fill="url(#cl)"/>
<circle cx="1242.2" cy="734.7" r="3.6" fill="url(#cl)"/>
<circle cx="1066.7" cy="755.8" r="3.6" fill="url(#cl)"/>
<circle cx="1146.2" cy="756.7" r="3.6" fill="url(#cl)"/>
<circle cx="1183.3" cy="755.8" r="3.6" fill="url(#cl)"/>
<circle cx="1242.2" cy="755.8" r="3.6" fill="url(#cl)"/>
<circle cx="1058.7" cy="763.7" r="3.6" fill="url(#cl)"/>
<circle cx="1095.8" cy="763.7" r="3.6" fill="url(#cl)"/>
<circle cx="1117.0" cy="763.7" r="3.6" fill="url(#cl)"/>
<circle cx="1213.0" cy="763.7" r="3.6" fill="url(#cl)"/>
<circle cx="1234.2" cy="763.7" r="3.6" fill="url(#cl)"/>
<circle cx="1058.7" cy="785.0" r="3.6" fill="url(#cl)"/>
<circle cx="1095.8" cy="785.0" r="3.6" fill="url(#cl)"/>
<circle cx="1117.0" cy="785.0" r="3.6" fill="url(#cl)"/>
<circle cx="1213.0" cy="785.0" r="3.6" fill="url(#cl)"/>
<circle cx="1234.2" cy="785.0" r="3.6" fill="url(#cl)"/>
<circle cx="1066.7" cy="793.3" r="3.6" fill="url(#cl)"/>
<circle cx="1146.2" cy="793.3" r="3.6" fill="url(#cl)"/>
<circle cx="1183.3" cy="793.3" r="3.6" fill="url(#cl)"/>
<circle cx="1242.2" cy="793.3" r="3.6" fill="url(#cl)"/>
<circle cx="1066.7" cy="814.2" r="3.6" fill="url(#cl)"/>
<circle cx="1088.0" cy="814.2" r="3.6" fill="url(#cl)"/>
<circle cx="1125.0" cy="814.2" r="3.6" fill="url(#cl)"/>
<circle cx="1204.7" cy="814.2" r="3.6" fill="url(#cl)"/>
<circle cx="1242.2" cy="814.2" r="3.6" fill="url(#cl)"/>
<circle cx="1058.7" cy="822.5" r="3.6" fill="url(#cl)"/>
<circle cx="1154.2" cy="822.5" r="3.6" fill="url(#cl)"/>
<circle cx="1175.5" cy="822.5" r="3.6" fill="url(#cl)"/>
<circle cx="1234.2" cy="822.5" r="3.6" fill="url(#cl)"/>
<circle cx="1058.7" cy="843.3" r="3.6" fill="url(#cl)"/>
<circle cx="1154.2" cy="843.3" r="3.6" fill="url(#cl)"/>
<circle cx="1175.5" cy="843.3" r="3.6" fill="url(#cl)"/>
<circle cx="1234.2" cy="843.3" r="3.6" fill="url(#cl)"/>
<circle cx="1096.7" cy="842.5" r="3.6" fill="url(#cl)"/>
<circle cx="1213.3" cy="842.5" r="3.6" fill="url(#cl)"/>
<circle cx="1066.7" cy="851.7" r="3.6" fill="url(#cl)"/>
<circle cx="1088.0" cy="851.7" r="3.6" fill="url(#cl)"/>
<circle cx="1125.0" cy="851.7" r="3.6" fill="url(#cl)"/>
<circle cx="1204.7" cy="851.7" r="3.6" fill="url(#cl)"/>
<circle cx="1242.2" cy="851.7" r="3.6" fill="url(#cl)"/>
<circle cx="1088.0" cy="873.3" r="3.6" fill="url(#cl)"/>
<circle cx="1125.0" cy="873.3" r="3.6" fill="url(#cl)"/>
<circle cx="1146.2" cy="873.3" r="3.6" fill="url(#cl)"/>
<circle cx="1183.3" cy="873.3" r="3.6" fill="url(#cl)"/>
<circle cx="1204.7" cy="873.3" r="3.6" fill="url(#cl)"/>
<circle cx="1095.8" cy="881.3" r="3.6" fill="url(#cl)"/>
<circle cx="1117.0" cy="881.3" r="3.6" fill="url(#cl)"/>
<circle cx="1154.2" cy="881.3" r="3.6" fill="url(#cl)"/>
<circle cx="1175.5" cy="881.3" r="3.6" fill="url(#cl)"/>
<circle cx="1213.0" cy="881.3" r="3.6" fill="url(#cl)"/></g>
<g id="pe2"><polygon points="1108.7,985.6 1120.6,1002.2 1099.8,1026.5 1087.5,1009.0" fill="#6fa9e6" fill-opacity="0.92"/>
<polygon points="1199.1,985.6 1220.6,1009.0 1208.2,1026.5 1187.1,1002.2" fill="#6fa9e6" fill-opacity="0.92"/>
<polygon points="1099.8,1032.1 1120.6,1055.9 1108.7,1072.5 1087.5,1049.2" fill="#6fa9e6" fill-opacity="0.92"/>
<polygon points="1208.2,1032.1 1220.6,1049.2 1199.1,1072.5 1187.1,1055.9" fill="#6fa9e6" fill-opacity="0.92"/>
<polygon points="1132.8,985.6 1153.9,1009.0 1141.8,1026.5 1120.6,1002.2" fill="#3a8ee6" fill-opacity="0.92"/>
<polygon points="1175.2,985.6 1187.1,1002.2 1166.1,1026.5 1153.9,1009.0" fill="#3a8ee6" fill-opacity="0.92"/>
<polygon points="1141.8,1032.1 1153.9,1049.2 1132.8,1072.5 1120.6,1055.9" fill="#3a8ee6" fill-opacity="0.92"/>
<polygon points="1166.1,1032.1 1187.1,1055.9 1175.2,1072.5 1153.9,1049.2" fill="#3a8ee6" fill-opacity="0.92"/>
<polygon points="1087.5,1008.7 1099.8,1028.6 1087.5,1048.7 1075.3,1028.6" fill="#6fa9e6" fill-opacity="0.85" stroke="#9fb4cc" stroke-width="0.5" stroke-linejoin="round"/>
<polygon points="1220.6,1008.7 1232.8,1028.6 1220.6,1048.7 1208.3,1028.6" fill="#6fa9e6" fill-opacity="0.85" stroke="#9fb4cc" stroke-width="0.5" stroke-linejoin="round"/>
<polygon points="1120.6,962.2 1132.8,982.1 1120.6,1002.2 1108.3,982.1" fill="#1a70d0" fill-opacity="0.92" stroke="#9fb4cc" stroke-width="0.5" stroke-linejoin="round"/>
<polygon points="1187.1,962.2 1199.3,982.1 1187.1,1002.2 1174.8,982.1" fill="#1a70d0" fill-opacity="0.92" stroke="#9fb4cc" stroke-width="0.5" stroke-linejoin="round"/>
<polygon points="1120.6,1056.2 1132.8,1076.0 1120.6,1096.2 1108.3,1076.0" fill="#1a70d0" fill-opacity="0.92" stroke="#9fb4cc" stroke-width="0.5" stroke-linejoin="round"/>
<polygon points="1187.1,1056.2 1199.3,1076.0 1187.1,1096.2 1174.8,1076.0" fill="#1a70d0" fill-opacity="0.92" stroke="#9fb4cc" stroke-width="0.5" stroke-linejoin="round"/>
<polygon points="1153.9,1008.7 1166.1,1028.6 1153.9,1048.7 1141.7,1028.6" fill="#1a70d0" fill-opacity="0.92" stroke="#9fb4cc" stroke-width="0.5" stroke-linejoin="round"/>
<path d="M1087.5 982.1H1220.6V1076.0H1087.5ZM1153.9 982.1V1076.0" fill="none" stroke="#8a8a8a" stroke-width="1"/>
<g opacity="0.9"><circle cx="1104.2" cy="1005.1" r="6.0" fill="#1a7ce0"/><path d="M1104.2 1005.1L1104.2 999.1A6.0 6.0 0 0 1 1104.2 1011.1Z" fill="#b0204a"/><circle cx="1104.2" cy="1005.1" r="6.0" fill="url(#sh)"/></g>
<g opacity="0.9"><circle cx="1203.7" cy="1005.1" r="6.0" fill="#1a7ce0"/><path d="M1203.7 1005.1L1203.7 999.1A6.0 6.0 0 0 1 1203.7 1011.1Z" fill="#b0204a"/><circle cx="1203.7" cy="1005.1" r="6.0" fill="url(#sh)"/></g>
<g opacity="0.9"><circle cx="1137.2" cy="1052.4" r="6.0" fill="#1a7ce0"/><path d="M1137.2 1052.4L1137.2 1046.4A6.0 6.0 0 0 1 1137.2 1058.4Z" fill="#b0204a"/><circle cx="1137.2" cy="1052.4" r="6.0" fill="url(#sh)"/></g>
<g opacity="0.9"><circle cx="1170.6" cy="1052.4" r="6.0" fill="#1a7ce0"/><path d="M1170.6 1052.4L1170.6 1046.4A6.0 6.0 0 0 1 1170.6 1058.4Z" fill="#b0204a"/><circle cx="1170.6" cy="1052.4" r="6.0" fill="url(#sh)"/></g>
<g opacity="0.9"><circle cx="1120.6" cy="982.1" r="6.0" fill="#1a7ce0"/><path d="M1120.6 982.1L1120.6 976.1A6.0 6.0 0 0 1 1120.6 988.1Z" fill="#b0204a"/><circle cx="1120.6" cy="982.1" r="6.0" fill="url(#sh)"/></g>
<g opacity="0.9"><circle cx="1187.1" cy="982.1" r="6.0" fill="#1a7ce0"/><path d="M1187.1 982.1L1187.1 976.1A6.0 6.0 0 0 1 1187.1 988.1Z" fill="#b0204a"/><circle cx="1187.1" cy="982.1" r="6.0" fill="url(#sh)"/></g>
<g opacity="0.9"><circle cx="1120.6" cy="1076.0" r="6.0" fill="#1a7ce0"/><path d="M1120.6 1076.0L1120.6 1070.0A6.0 6.0 0 0 1 1120.6 1082.0Z" fill="#b0204a"/><circle cx="1120.6" cy="1076.0" r="6.0" fill="url(#sh)"/></g>
<g opacity="0.9"><circle cx="1187.1" cy="1076.0" r="6.0" fill="#1a7ce0"/><path d="M1187.1 1076.0L1187.1 1070.0A6.0 6.0 0 0 1 1187.1 1082.0Z" fill="#b0204a"/><circle cx="1187.1" cy="1076.0" r="6.0" fill="url(#sh)"/></g>
<g opacity="0.9"><circle cx="1087.5" cy="1028.6" r="6.0" fill="#1a7ce0"/><path d="M1087.5 1028.6L1087.5 1022.6A6.0 6.0 0 0 1 1087.5 1034.6Z" fill="#b0204a"/><circle cx="1087.5" cy="1028.6" r="6.0" fill="url(#sh)"/></g>
<g opacity="0.9"><circle cx="1153.9" cy="1028.6" r="6.0" fill="#1a7ce0"/><path d="M1153.9 1028.6L1153.9 1022.6A6.0 6.0 0 0 1 1153.9 1034.6Z" fill="#b0204a"/><circle cx="1153.9" cy="1028.6" r="6.0" fill="url(#sh)"/></g>
<g opacity="0.9"><circle cx="1220.6" cy="1028.6" r="6.0" fill="#1a7ce0"/><path d="M1220.6 1028.6L1220.6 1022.6A6.0 6.0 0 0 1 1220.6 1034.6Z" fill="#b0204a"/><circle cx="1220.6" cy="1028.6" r="6.0" fill="url(#sh)"/></g>
<circle cx="1087.5" cy="982.1" r="6.0" fill="#f4f4f4"/><path d="M1087.5 982.1L1088.4 976.1A6.0 6.0 0 0 1 1091.8 977.8Z" fill="#e60f0f"/><circle cx="1087.5" cy="982.1" r="6.0" fill="url(#sh)"/>
<circle cx="1153.9" cy="982.1" r="6.0" fill="#f4f4f4"/><path d="M1153.9 982.1L1154.7 976.1A6.0 6.0 0 0 1 1158.1 977.8Z" fill="#e60f0f"/><circle cx="1153.9" cy="982.1" r="6.0" fill="url(#sh)"/>
<circle cx="1220.6" cy="982.1" r="6.0" fill="#f4f4f4"/><path d="M1220.6 982.1L1221.4 976.1A6.0 6.0 0 0 1 1224.8 977.8Z" fill="#e60f0f"/><circle cx="1220.6" cy="982.1" r="6.0" fill="url(#sh)"/>
<circle cx="1120.6" cy="1029.2" r="6.0" fill="#f4f4f4"/><path d="M1120.6 1029.2L1121.4 1023.3A6.0 6.0 0 0 1 1124.8 1025.0Z" fill="#e60f0f"/><circle cx="1120.6" cy="1029.2" r="6.0" fill="url(#sh)"/>
<circle cx="1187.1" cy="1029.2" r="6.0" fill="#f4f4f4"/><path d="M1187.1 1029.2L1187.9 1023.3A6.0 6.0 0 0 1 1191.3 1025.0Z" fill="#e60f0f"/><circle cx="1187.1" cy="1029.2" r="6.0" fill="url(#sh)"/>
<circle cx="1087.5" cy="1076.0" r="6.0" fill="#f4f4f4"/><path d="M1087.5 1076.0L1088.4 1070.1A6.0 6.0 0 0 1 1091.8 1071.8Z" fill="#e60f0f"/><circle cx="1087.5" cy="1076.0" r="6.0" fill="url(#sh)"/>
<circle cx="1153.9" cy="1076.0" r="6.0" fill="#f4f4f4"/><path d="M1153.9 1076.0L1154.7 1070.1A6.0 6.0 0 0 1 1158.1 1071.8Z" fill="#e60f0f"/><circle cx="1153.9" cy="1076.0" r="6.0" fill="url(#sh)"/>
<circle cx="1220.6" cy="1076.0" r="6.0" fill="#f4f4f4"/><path d="M1220.6 1076.0L1221.4 1070.1A6.0 6.0 0 0 1 1224.8 1071.8Z" fill="#e60f0f"/><circle cx="1220.6" cy="1076.0" r="6.0" fill="url(#sh)"/>
<circle cx="1137.2" cy="1005.1" r="6.0" fill="#f4f4f4"/><path d="M1137.2 1005.1L1138.1 999.1A6.0 6.0 0 0 1 1141.5 1000.8Z" fill="#e60f0f"/><circle cx="1137.2" cy="1005.1" r="6.0" fill="url(#sh)"/>
<circle cx="1170.6" cy="1005.1" r="6.0" fill="#f4f4f4"/><path d="M1170.6 1005.1L1171.4 999.1A6.0 6.0 0 0 1 1174.8 1000.8Z" fill="#e60f0f"/><circle cx="1170.6" cy="1005.1" r="6.0" fill="url(#sh)"/>
<circle cx="1104.2" cy="1052.4" r="6.0" fill="#f4f4f4"/><path d="M1104.2 1052.4L1105.0 1046.4A6.0 6.0 0 0 1 1108.4 1048.1Z" fill="#e60f0f"/><circle cx="1104.2" cy="1052.4" r="6.0" fill="url(#sh)"/>
<circle cx="1203.7" cy="1052.4" r="6.0" fill="#f4f4f4"/><path d="M1203.7 1052.4L1204.6 1046.4A6.0 6.0 0 0 1 1208.0 1048.1Z" fill="#e60f0f"/><circle cx="1203.7" cy="1052.4" r="6.0" fill="url(#sh)"/>
<circle cx="1153.9" cy="970.2" r="6.2" fill="#e60f0f"/><path d="M1153.9 970.2L1147.9 968.6A6.2 6.2 0 0 1 1152.8 964.1Z" fill="#f4f4f4"/><circle cx="1153.9" cy="970.2" r="6.2" fill="url(#sh)"/>
<circle cx="1087.5" cy="994.0" r="6.2" fill="#e60f0f"/><path d="M1087.5 994.0L1081.6 992.4A6.2 6.2 0 0 1 1086.5 987.9Z" fill="#f4f4f4"/><circle cx="1087.5" cy="994.0" r="6.2" fill="url(#sh)"/>
<circle cx="1153.9" cy="994.0" r="6.2" fill="#e60f0f"/><path d="M1153.9 994.0L1147.9 992.4A6.2 6.2 0 0 1 1152.8 987.9Z" fill="#f4f4f4"/><circle cx="1153.9" cy="994.0" r="6.2" fill="url(#sh)"/>
<circle cx="1220.6" cy="994.0" r="6.2" fill="#e60f0f"/><path d="M1220.6 994.0L1214.6 992.4A6.2 6.2 0 0 1 1219.5 987.9Z" fill="#f4f4f4"/><circle cx="1220.6" cy="994.0" r="6.2" fill="url(#sh)"/>
<circle cx="1120.6" cy="1017.3" r="6.2" fill="#e60f0f"/><path d="M1120.6 1017.3L1114.6 1015.7A6.2 6.2 0 0 1 1119.5 1011.2Z" fill="#f4f4f4"/><circle cx="1120.6" cy="1017.3" r="6.2" fill="url(#sh)"/>
<circle cx="1187.1" cy="1017.3" r="6.2" fill="#e60f0f"/><path d="M1187.1 1017.3L1181.1 1015.7A6.2 6.2 0 0 1 1186.0 1011.2Z" fill="#f4f4f4"/><circle cx="1187.1" cy="1017.3" r="6.2" fill="url(#sh)"/>
<circle cx="1120.6" cy="1040.8" r="6.2" fill="#e60f0f"/><path d="M1120.6 1040.8L1114.6 1039.2A6.2 6.2 0 0 1 1119.5 1034.7Z" fill="#f4f4f4"/><circle cx="1120.6" cy="1040.8" r="6.2" fill="url(#sh)"/>
<circle cx="1187.1" cy="1040.8" r="6.2" fill="#e60f0f"/><path d="M1187.1 1040.8L1181.1 1039.2A6.2 6.2 0 0 1 1186.0 1034.7Z" fill="#f4f4f4"/><circle cx="1187.1" cy="1040.8" r="6.2" fill="url(#sh)"/>
<circle cx="1087.5" cy="1064.3" r="6.2" fill="#e60f0f"/><path d="M1087.5 1064.3L1081.6 1062.7A6.2 6.2 0 0 1 1086.5 1058.2Z" fill="#f4f4f4"/><circle cx="1087.5" cy="1064.3" r="6.2" fill="url(#sh)"/>
<circle cx="1153.9" cy="1064.3" r="6.2" fill="#e60f0f"/><path d="M1153.9 1064.3L1147.9 1062.7A6.2 6.2 0 0 1 1152.8 1058.2Z" fill="#f4f4f4"/><circle cx="1153.9" cy="1064.3" r="6.2" fill="url(#sh)"/>
<circle cx="1220.6" cy="1064.3" r="6.2" fill="#e60f0f"/><path d="M1220.6 1064.3L1214.6 1062.7A6.2 6.2 0 0 1 1219.5 1058.2Z" fill="#f4f4f4"/><circle cx="1220.6" cy="1064.3" r="6.2" fill="url(#sh)"/>
<circle cx="1153.9" cy="1087.6" r="6.2" fill="#e60f0f"/><path d="M1153.9 1087.6L1147.9 1086.0A6.2 6.2 0 0 1 1152.8 1081.5Z" fill="#f4f4f4"/><circle cx="1153.9" cy="1087.6" r="6.2" fill="url(#sh)"/>
<circle cx="1087.5" cy="955.4" r="3.0" fill="url(#cl)"/>
<circle cx="1153.9" cy="955.4" r="3.0" fill="url(#cl)"/>
<circle cx="1220.6" cy="955.4" r="3.0" fill="url(#cl)"/>
<circle cx="1120.6" cy="961.7" r="3.0" fill="url(#cl)"/>
<circle cx="1187.1" cy="961.7" r="3.0" fill="url(#cl)"/>
<circle cx="1066.4" cy="978.6" r="3.0" fill="url(#cl)"/>
<circle cx="1066.4" cy="985.6" r="3.0" fill="url(#cl)"/>
<circle cx="1066.4" cy="1072.5" r="3.0" fill="url(#cl)"/>
<circle cx="1066.4" cy="1079.4" r="3.0" fill="url(#cl)"/>
<circle cx="1108.7" cy="978.6" r="3.0" fill="url(#cl)"/>
<circle cx="1108.7" cy="985.6" r="3.0" fill="url(#cl)"/>
<circle cx="1108.7" cy="1072.5" r="3.0" fill="url(#cl)"/>
<circle cx="1108.7" cy="1079.4" r="3.0" fill="url(#cl)"/>
<circle cx="1132.8" cy="978.6" r="3.0" fill="url(#cl)"/>
<circle cx="1132.8" cy="985.6" r="3.0" fill="url(#cl)"/>
<circle cx="1132.8" cy="1072.5" r="3.0" fill="url(#cl)"/>
<circle cx="1132.8" cy="1079.4" r="3.0" fill="url(#cl)"/>
<circle cx="1175.2" cy="978.6" r="3.0" fill="url(#cl)"/>
<circle cx="1175.2" cy="985.6" r="3.0" fill="url(#cl)"/>
<circle cx="1175.2" cy="1072.5" r="3.0" fill="url(#cl)"/>
<circle cx="1175.2" cy="1079.4" r="3.0" fill="url(#cl)"/>
<circle cx="1199.1" cy="978.6" r="3.0" fill="url(#cl)"/>
<circle cx="1199.1" cy="985.6" r="3.0" fill="url(#cl)"/>
<circle cx="1199.1" cy="1072.5" r="3.0" fill="url(#cl)"/>
<circle cx="1199.1" cy="1079.4" r="3.0" fill="url(#cl)"/>
<circle cx="1241.5" cy="978.6" r="3.0" fill="url(#cl)"/>
<circle cx="1241.5" cy="985.6" r="3.0" fill="url(#cl)"/>
<circle cx="1241.5" cy="1072.5" r="3.0" fill="url(#cl)"/>
<circle cx="1241.5" cy="1079.4" r="3.0" fill="url(#cl)"/>
<circle cx="1120.6" cy="1002.2" r="3.0" fill="url(#cl)"/>
<circle cx="1187.1" cy="1002.2" r="3.0" fill="url(#cl)"/>
<circle cx="1087.5" cy="1009.0" r="3.0" fill="url(#cl)"/>
<circle cx="1153.9" cy="1009.0" r="3.0" fill="url(#cl)"/>
<circle cx="1220.6" cy="1009.0" r="3.0" fill="url(#cl)"/>
<circle cx="1075.3" cy="1025.7" r="3.0" fill="url(#cl)"/>
<circle cx="1075.3" cy="1032.1" r="3.0" fill="url(#cl)"/>
<circle cx="1099.8" cy="1025.7" r="3.0" fill="url(#cl)"/>
<circle cx="1099.8" cy="1032.1" r="3.0" fill="url(#cl)"/>
<circle cx="1141.8" cy="1025.7" r="3.0" fill="url(#cl)"/>
<circle cx="1141.8" cy="1032.1" r="3.0" fill="url(#cl)"/>
<circle cx="1166.1" cy="1025.7" r="3.0" fill="url(#cl)"/>
<circle cx="1166.1" cy="1032.1" r="3.0" fill="url(#cl)"/>
<circle cx="1208.2" cy="1025.7" r="3.0" fill="url(#cl)"/>
<circle cx="1208.2" cy="1032.1" r="3.0" fill="url(#cl)"/>
<circle cx="1232.5" cy="1025.7" r="3.0" fill="url(#cl)"/>
<circle cx="1232.5" cy="1032.1" r="3.0" fill="url(#cl)"/>
<circle cx="1087.5" cy="1049.2" r="3.0" fill="url(#cl)"/>
<circle cx="1153.9" cy="1049.2" r="3.0" fill="url(#cl)"/>
<circle cx="1220.6" cy="1049.2" r="3.0" fill="url(#cl)"/>
<circle cx="1120.6" cy="1055.9" r="3.0" fill="url(#cl)"/>
<circle cx="1187.1" cy="1055.9" r="3.0" fill="url(#cl)"/>
<circle cx="1120.6" cy="1096.3" r="3.0" fill="url(#cl)"/>
<circle cx="1187.1" cy="1096.3" r="3.0" fill="url(#cl)"/>
<circle cx="1087.5" cy="1102.4" r="3.0" fill="url(#cl)"/>
<circle cx="1153.9" cy="1102.4" r="3.0" fill="url(#cl)"/>
<circle cx="1220.6" cy="1102.4" r="3.0" fill="url(#cl)"/></g>
<g id="pe3"><path d="M1149.7 1173.2L1224.3 1220.9M1224.3 1220.9L1224.3 1302.0M1224.3 1302.0L1149.7 1348.9M1149.7 1348.9L1075.0 1302.0M1075.0 1302.0L1075.0 1220.9M1075.0 1220.9L1149.7 1173.2M1149.7 1262.7L1224.3 1220.9M1149.7 1262.7L1075.0 1220.9M1149.7 1262.7L1149.7 1348.9M1149.7 1262.7L1149.7 1173.2" stroke="#7c7c7c" stroke-width="1.0" fill="none"/>
<rect x="1098.9" y="1187.7" width="27.3" height="148.5" fill="#7fb0e0" fill-opacity="0.72"/>
<rect x="1174.0" y="1187.7" width="26.5" height="148.5" fill="#7fb0e0" fill-opacity="0.72"/>
<rect x="1105.7" y="1213.3" width="13.7" height="27.3" fill="#d6eef4" fill-opacity="0.9"/>
<rect x="1180.8" y="1213.3" width="13.7" height="27.3" fill="#d6eef4" fill-opacity="0.9"/>
<rect x="1105.7" y="1274.7" width="13.7" height="29.0" fill="#d6eef4" fill-opacity="0.9"/>
<rect x="1180.8" y="1274.7" width="13.7" height="29.0" fill="#d6eef4" fill-opacity="0.9"/>
<polygon points="1098.9,1187.7 1126.2,1187.7 1149.7,1202.2 1174.0,1187.7 1200.4,1187.7 1200.4,1213.3 1174.0,1213.3 1149.7,1225.2 1126.2,1213.3 1098.9,1213.3" fill="#4f90d4" fill-opacity="0.72"/>
<polygon points="1098.9,1313.9 1126.2,1313.9 1149.7,1301.1 1174.0,1313.9 1200.4,1313.9 1200.4,1336.1 1174.0,1336.1 1149.7,1323.3 1126.2,1336.1 1098.9,1336.1" fill="#4f90d4" fill-opacity="0.72"/>
<polygon points="1062.2,1252.5 1098.9,1240.6 1200.4,1240.6 1238.0,1252.5 1238.0,1269.6 1200.4,1279.8 1149.7,1274.7 1098.9,1279.8 1062.2,1269.6" fill="#4587d0" fill-opacity="0.8"/>
<polygon points="1098.9,1240.6 1126.2,1240.6 1126.2,1279.8 1098.9,1279.8" fill="#2f70ba" fill-opacity="0.5"/>
<polygon points="1174.0,1240.6 1200.4,1240.6 1200.4,1279.8 1174.0,1279.8" fill="#2f70ba" fill-opacity="0.5"/>
<rect x="1142.0" y="1202.2" width="15.7" height="113.5" fill="#a9cdea" fill-opacity="0.55"/>
<rect x="1142.4" y="1230.3" width="15.4" height="20.5" fill="#cfe6f2" fill-opacity="0.6"/>
<rect x="1142.4" y="1281.5" width="15.4" height="22.2" fill="#cfe6f2" fill-opacity="0.6"/>
<g opacity="0.9"><circle cx="1112.5" cy="1224.4" r="6.8" fill="#5aa4e8"/><path d="M1112.5 1224.4L1112.5 1217.6A6.8 6.8 0 0 1 1112.5 1231.2Z" fill="#e87a80"/><circle cx="1112.5" cy="1224.4" r="6.8" fill="url(#sh)"/></g>
<g opacity="0.9"><circle cx="1187.6" cy="1224.4" r="6.8" fill="#5aa4e8"/><path d="M1187.6 1224.4L1187.6 1217.6A6.8 6.8 0 0 1 1187.6 1231.2Z" fill="#e87a80"/><circle cx="1187.6" cy="1224.4" r="6.8" fill="url(#sh)"/></g>
<g opacity="0.9"><circle cx="1149.7" cy="1288.3" r="6.8" fill="#5aa4e8"/><path d="M1149.7 1288.3L1149.7 1281.5A6.8 6.8 0 0 1 1149.7 1295.1Z" fill="#e87a80"/><circle cx="1149.7" cy="1288.3" r="6.8" fill="url(#sh)"/></g>
<g opacity="0.9"><circle cx="1112.5" cy="1298.6" r="6.8" fill="#5aa4e8"/><path d="M1112.5 1298.6L1112.5 1291.8A6.8 6.8 0 0 1 1112.5 1305.4Z" fill="#e87a80"/><circle cx="1112.5" cy="1298.6" r="6.8" fill="url(#sh)"/></g>
<g opacity="0.9"><circle cx="1187.6" cy="1298.6" r="6.8" fill="#5aa4e8"/><path d="M1187.6 1298.6L1187.6 1291.8A6.8 6.8 0 0 1 1187.6 1305.4Z" fill="#e87a80"/><circle cx="1187.6" cy="1298.6" r="6.8" fill="url(#sh)"/></g>
<g opacity="0.9"><circle cx="1149.7" cy="1238.0" r="6.8" fill="#5aa4e8"/><path d="M1149.7 1238.0L1149.7 1231.2A6.8 6.8 0 0 1 1149.7 1244.8Z" fill="#e87a80"/><circle cx="1149.7" cy="1238.0" r="6.8" fill="url(#sh)"/></g>
<circle cx="1112.5" cy="1197.9" r="6.8" fill="#1a7ce0"/><path d="M1112.5 1197.9L1112.5 1191.1A6.8 6.8 0 0 1 1112.5 1204.7Z" fill="#b0204a"/><circle cx="1112.5" cy="1197.9" r="6.8" fill="url(#sh)"/>
<circle cx="1132.2" cy="1203.9" r="6.8" fill="#1a7ce0"/><path d="M1132.2 1203.9L1132.2 1197.1A6.8 6.8 0 0 1 1132.2 1210.7Z" fill="#b0204a"/><circle cx="1132.2" cy="1203.9" r="6.8" fill="url(#sh)"/>
<circle cx="1168.0" cy="1203.9" r="6.8" fill="#1a7ce0"/><path d="M1168.0 1203.9L1168.0 1197.1A6.8 6.8 0 0 1 1168.0 1210.7Z" fill="#b0204a"/><circle cx="1168.0" cy="1203.9" r="6.8" fill="url(#sh)"/>
<circle cx="1187.6" cy="1197.9" r="6.8" fill="#1a7ce0"/><path d="M1187.6 1197.9L1187.6 1191.1A6.8 6.8 0 0 1 1187.6 1204.7Z" fill="#b0204a"/><circle cx="1187.6" cy="1197.9" r="6.8" fill="url(#sh)"/>
<circle cx="1075.0" cy="1262.7" r="6.8" fill="#1a7ce0"/><path d="M1075.0 1262.7L1075.0 1255.9A6.8 6.8 0 0 1 1075.0 1269.5Z" fill="#b0204a"/><circle cx="1075.0" cy="1262.7" r="6.8" fill="url(#sh)"/>
<circle cx="1092.9" cy="1256.8" r="6.8" fill="#1a7ce0"/><path d="M1092.9 1256.8L1092.9 1250.0A6.8 6.8 0 0 1 1092.9 1263.6Z" fill="#b0204a"/><circle cx="1092.9" cy="1256.8" r="6.8" fill="url(#sh)"/>
<circle cx="1112.5" cy="1250.8" r="6.8" fill="#1a7ce0"/><path d="M1112.5 1250.8L1112.5 1244.0A6.8 6.8 0 0 1 1112.5 1257.6Z" fill="#b0204a"/><circle cx="1112.5" cy="1250.8" r="6.8" fill="url(#sh)"/>
<circle cx="1132.2" cy="1256.8" r="6.8" fill="#1a7ce0"/><path d="M1132.2 1256.8L1132.2 1250.0A6.8 6.8 0 0 1 1132.2 1263.6Z" fill="#b0204a"/><circle cx="1132.2" cy="1256.8" r="6.8" fill="url(#sh)"/>
<circle cx="1168.0" cy="1256.8" r="6.8" fill="#1a7ce0"/><path d="M1168.0 1256.8L1168.0 1250.0A6.8 6.8 0 0 1 1168.0 1263.6Z" fill="#b0204a"/><circle cx="1168.0" cy="1256.8" r="6.8" fill="url(#sh)"/>
<circle cx="1187.6" cy="1250.8" r="6.8" fill="#1a7ce0"/><path d="M1187.6 1250.8L1187.6 1244.0A6.8 6.8 0 0 1 1187.6 1257.6Z" fill="#b0204a"/><circle cx="1187.6" cy="1250.8" r="6.8" fill="url(#sh)"/>
<circle cx="1206.4" cy="1256.8" r="6.8" fill="#1a7ce0"/><path d="M1206.4 1256.8L1206.4 1250.0A6.8 6.8 0 0 1 1206.4 1263.6Z" fill="#b0204a"/><circle cx="1206.4" cy="1256.8" r="6.8" fill="url(#sh)"/>
<circle cx="1224.3" cy="1262.7" r="6.8" fill="#1a7ce0"/><path d="M1224.3 1262.7L1224.3 1255.9A6.8 6.8 0 0 1 1224.3 1269.5Z" fill="#b0204a"/><circle cx="1224.3" cy="1262.7" r="6.8" fill="url(#sh)"/>
<circle cx="1149.7" cy="1315.6" r="6.8" fill="#1a7ce0"/><path d="M1149.7 1315.6L1149.7 1308.8A6.8 6.8 0 0 1 1149.7 1322.4Z" fill="#b0204a"/><circle cx="1149.7" cy="1315.6" r="6.8" fill="url(#sh)"/>
<circle cx="1130.4" cy="1320.8" r="6.8" fill="#1a7ce0"/><path d="M1130.4 1320.8L1130.4 1314.0A6.8 6.8 0 0 1 1130.4 1327.6Z" fill="#b0204a"/><circle cx="1130.4" cy="1320.8" r="6.8" fill="url(#sh)"/>
<circle cx="1169.7" cy="1320.8" r="6.8" fill="#1a7ce0"/><path d="M1169.7 1320.8L1169.7 1314.0A6.8 6.8 0 0 1 1169.7 1327.6Z" fill="#b0204a"/><circle cx="1169.7" cy="1320.8" r="6.8" fill="url(#sh)"/>
<circle cx="1112.5" cy="1325.9" r="6.8" fill="#1a7ce0"/><path d="M1112.5 1325.9L1112.5 1319.1A6.8 6.8 0 0 1 1112.5 1332.7Z" fill="#b0204a"/><circle cx="1112.5" cy="1325.9" r="6.8" fill="url(#sh)"/>
<circle cx="1187.6" cy="1325.9" r="6.8" fill="#1a7ce0"/><path d="M1187.6 1325.9L1187.6 1319.1A6.8 6.8 0 0 1 1187.6 1332.7Z" fill="#b0204a"/><circle cx="1187.6" cy="1325.9" r="6.8" fill="url(#sh)"/>
<circle cx="1149.7" cy="1197.9" r="6.5" fill="#f4f4f4"/><path d="M1149.7 1197.9L1150.6 1191.5A6.5 6.5 0 0 1 1154.3 1193.3Z" fill="#e60f0f"/><circle cx="1149.7" cy="1197.9" r="6.5" fill="url(#sh)"/>
<circle cx="1092.9" cy="1229.5" r="6.5" fill="#f4f4f4"/><path d="M1092.9 1229.5L1093.8 1223.0A6.5 6.5 0 0 1 1097.5 1224.9Z" fill="#e60f0f"/><circle cx="1092.9" cy="1229.5" r="6.5" fill="url(#sh)"/>
<circle cx="1132.2" cy="1229.5" r="6.5" fill="#f4f4f4"/><path d="M1132.2 1229.5L1133.1 1223.0A6.5 6.5 0 0 1 1136.7 1224.9Z" fill="#e60f0f"/><circle cx="1132.2" cy="1229.5" r="6.5" fill="url(#sh)"/>
<circle cx="1168.0" cy="1229.5" r="6.5" fill="#f4f4f4"/><path d="M1168.0 1229.5L1168.9 1223.0A6.5 6.5 0 0 1 1172.6 1224.9Z" fill="#e60f0f"/><circle cx="1168.0" cy="1229.5" r="6.5" fill="url(#sh)"/>
<circle cx="1206.4" cy="1229.5" r="6.5" fill="#f4f4f4"/><path d="M1206.4 1229.5L1207.3 1223.0A6.5 6.5 0 0 1 1211.0 1224.9Z" fill="#e60f0f"/><circle cx="1206.4" cy="1229.5" r="6.5" fill="url(#sh)"/>
<circle cx="1149.7" cy="1250.8" r="6.5" fill="#f4f4f4"/><path d="M1149.7 1250.8L1150.6 1244.4A6.5 6.5 0 0 1 1154.3 1246.2Z" fill="#e60f0f"/><circle cx="1149.7" cy="1250.8" r="6.5" fill="url(#sh)"/>
<circle cx="1130.4" cy="1282.4" r="6.5" fill="#f4f4f4"/><path d="M1130.4 1282.4L1131.3 1275.9A6.5 6.5 0 0 1 1135.0 1277.8Z" fill="#e60f0f"/><circle cx="1130.4" cy="1282.4" r="6.5" fill="url(#sh)"/>
<circle cx="1168.0" cy="1282.4" r="6.5" fill="#f4f4f4"/><path d="M1168.0 1282.4L1168.9 1275.9A6.5 6.5 0 0 1 1172.6 1277.8Z" fill="#e60f0f"/><circle cx="1168.0" cy="1282.4" r="6.5" fill="url(#sh)"/>
<circle cx="1092.9" cy="1293.5" r="6.5" fill="#f4f4f4"/><path d="M1092.9 1293.5L1093.8 1287.0A6.5 6.5 0 0 1 1097.5 1288.9Z" fill="#e60f0f"/><circle cx="1092.9" cy="1293.5" r="6.5" fill="url(#sh)"/>
<circle cx="1206.4" cy="1293.5" r="6.5" fill="#f4f4f4"/><path d="M1206.4 1293.5L1207.3 1287.0A6.5 6.5 0 0 1 1211.0 1288.9Z" fill="#e60f0f"/><circle cx="1206.4" cy="1293.5" r="6.5" fill="url(#sh)"/>
<circle cx="1132.2" cy="1293.5" r="6.5" fill="#f4f4f4"/><path d="M1132.2 1293.5L1133.1 1287.0A6.5 6.5 0 0 1 1136.7 1288.9Z" fill="#e60f0f"/><circle cx="1132.2" cy="1293.5" r="6.5" fill="url(#sh)"/>
<circle cx="1168.0" cy="1293.5" r="6.5" fill="#f4f4f4"/><path d="M1168.0 1293.5L1168.9 1287.0A6.5 6.5 0 0 1 1172.6 1288.9Z" fill="#e60f0f"/><circle cx="1168.0" cy="1293.5" r="6.5" fill="url(#sh)"/>
<circle cx="1149.7" cy="1173.8" r="6.8" fill="#e60f0f"/><path d="M1149.7 1173.8L1143.8 1170.4A6.8 6.8 0 0 1 1155.6 1170.4Z" fill="#f4f4f4"/><circle cx="1149.7" cy="1173.8" r="6.8" fill="url(#sh)"/>
<circle cx="1075.0" cy="1222.4" r="6.8" fill="#e60f0f"/><path d="M1075.0 1222.4L1069.1 1219.0A6.8 6.8 0 0 1 1080.9 1219.0Z" fill="#f4f4f4"/><circle cx="1075.0" cy="1222.4" r="6.8" fill="url(#sh)"/>
<circle cx="1224.3" cy="1222.4" r="6.8" fill="#e60f0f"/><path d="M1224.3 1222.4L1218.4 1219.0A6.8 6.8 0 0 1 1230.2 1219.0Z" fill="#f4f4f4"/><circle cx="1224.3" cy="1222.4" r="6.8" fill="url(#sh)"/>
<circle cx="1149.7" cy="1353.0" r="6.8" fill="#e60f0f"/><path d="M1149.7 1353.0L1143.8 1349.6A6.8 6.8 0 0 1 1155.6 1349.6Z" fill="#f4f4f4"/><circle cx="1149.7" cy="1353.0" r="6.8" fill="url(#sh)"/>
<circle cx="1075.0" cy="1298.0" r="6.8" fill="url(#wh)"/>
<circle cx="1075.0" cy="1304.0" r="6.8" fill="#e60f0f"/><path d="M1075.0 1304.0L1068.6 1301.7A6.8 6.8 0 0 1 1072.7 1297.6Z" fill="#f4f4f4"/><circle cx="1075.0" cy="1304.0" r="6.8" fill="url(#sh)"/>
<circle cx="1224.3" cy="1298.0" r="6.8" fill="url(#wh)"/>
<circle cx="1224.3" cy="1304.0" r="6.8" fill="#e60f0f"/><path d="M1224.3 1304.0L1217.9 1301.7A6.8 6.8 0 0 1 1222.0 1297.6Z" fill="#f4f4f4"/><circle cx="1224.3" cy="1304.0" r="6.8" fill="url(#sh)"/>
<circle cx="1149.7" cy="1218.1" r="6.8" fill="#f4f4f4"/><path d="M1149.7 1218.1L1150.7 1211.4A6.8 6.8 0 0 1 1154.5 1213.3Z" fill="#e60f0f"/><circle cx="1149.7" cy="1218.1" r="6.8" fill="url(#sh)"/>
<circle cx="1149.7" cy="1226.1" r="6.8" fill="#e60f0f"/><path d="M1149.7 1226.1L1143.2 1224.4A6.8 6.8 0 0 1 1148.5 1219.4Z" fill="#f4f4f4"/><circle cx="1149.7" cy="1226.1" r="6.8" fill="url(#sh)"/>
<circle cx="1112.5" cy="1282.1" r="6.8" fill="#f4f4f4"/><path d="M1112.5 1282.1L1113.5 1275.4A6.8 6.8 0 0 1 1117.3 1277.3Z" fill="#e60f0f"/><circle cx="1112.5" cy="1282.1" r="6.8" fill="url(#sh)"/>
<circle cx="1112.5" cy="1290.1" r="6.8" fill="#e60f0f"/><path d="M1112.5 1290.1L1106.0 1288.4A6.8 6.8 0 0 1 1111.3 1283.4Z" fill="#f4f4f4"/><circle cx="1112.5" cy="1290.1" r="6.8" fill="url(#sh)"/>
<circle cx="1187.6" cy="1282.1" r="6.8" fill="#f4f4f4"/><path d="M1187.6 1282.1L1188.6 1275.4A6.8 6.8 0 0 1 1192.4 1277.3Z" fill="#e60f0f"/><circle cx="1187.6" cy="1282.1" r="6.8" fill="url(#sh)"/>
<circle cx="1187.6" cy="1290.1" r="6.8" fill="#e60f0f"/><path d="M1187.6 1290.1L1181.0 1288.4A6.8 6.8 0 0 1 1186.4 1283.4Z" fill="#f4f4f4"/><circle cx="1187.6" cy="1290.1" r="6.8" fill="url(#sh)"/>
<circle cx="1149.7" cy="1276.4" r="7.2" fill="#f4f4f4"/><path d="M1149.7 1276.4L1150.7 1269.3A7.2 7.2 0 0 1 1154.8 1271.3Z" fill="#e60f0f"/><circle cx="1149.7" cy="1276.4" r="7.2" fill="url(#sh)"/>
<circle cx="1149.7" cy="1147.6" r="3.3" fill="url(#cl)"/>
<circle cx="1126.2" cy="1156.6" r="3.3" fill="url(#cl)"/>
<circle cx="1173.6" cy="1156.6" r="3.3" fill="url(#cl)"/>
<circle cx="1075.0" cy="1199.9" r="3.3" fill="url(#cl)"/>
<circle cx="1224.3" cy="1199.9" r="3.3" fill="url(#cl)"/>
<circle cx="1051.6" cy="1209.5" r="3.3" fill="url(#cl)"/>
<circle cx="1247.8" cy="1209.5" r="3.3" fill="url(#cl)"/>
<circle cx="1051.6" cy="1240.2" r="3.3" fill="url(#cl)"/>
<circle cx="1247.8" cy="1240.2" r="3.3" fill="url(#cl)"/>
<circle cx="1061.3" cy="1251.1" r="3.3" fill="url(#cl)"/>
<circle cx="1238.0" cy="1251.1" r="3.3" fill="url(#cl)"/>
<circle cx="1061.3" cy="1272.6" r="3.3" fill="url(#cl)"/>
<circle cx="1238.0" cy="1272.6" r="3.3" fill="url(#cl)"/>
<circle cx="1247.8" cy="1284.1" r="3.3" fill="url(#cl)"/>
<circle cx="1247.8" cy="1314.8" r="3.3" fill="url(#cl)"/>
<circle cx="1075.0" cy="1324.2" r="3.3" fill="url(#cl)"/>
<circle cx="1224.3" cy="1324.2" r="3.3" fill="url(#cl)"/>
<circle cx="1126.2" cy="1367.7" r="3.3" fill="url(#cl)"/>
<circle cx="1173.6" cy="1367.7" r="3.3" fill="url(#cl)"/>
<circle cx="1149.7" cy="1376.7" r="3.3" fill="url(#cl)"/>
<circle cx="1098.9" cy="1187.3" r="3.3" fill="url(#cl)"/>
<circle cx="1112.5" cy="1186.0" r="3.3" fill="url(#cl)"/>
<circle cx="1126.2" cy="1187.3" r="3.3" fill="url(#cl)"/>
<circle cx="1173.6" cy="1187.3" r="3.3" fill="url(#cl)"/>
<circle cx="1187.1" cy="1186.0" r="3.3" fill="url(#cl)"/>
<circle cx="1200.4" cy="1187.3" r="3.3" fill="url(#cl)"/>
<circle cx="1098.9" cy="1209.5" r="3.3" fill="url(#cl)"/>
<circle cx="1112.5" cy="1205.6" r="3.3" fill="url(#cl)"/>
<circle cx="1126.2" cy="1209.5" r="3.3" fill="url(#cl)"/>
<circle cx="1173.6" cy="1209.5" r="3.3" fill="url(#cl)"/>
<circle cx="1187.1" cy="1205.6" r="3.3" fill="url(#cl)"/>
<circle cx="1200.4" cy="1209.5" r="3.3" fill="url(#cl)"/>
<circle cx="1088.6" cy="1219.7" r="3.3" fill="url(#cl)"/>
<circle cx="1210.6" cy="1219.7" r="3.3" fill="url(#cl)"/>
<circle cx="1136.1" cy="1219.7" r="3.3" fill="url(#cl)"/>
<circle cx="1163.7" cy="1219.7" r="3.3" fill="url(#cl)"/>
<circle cx="1098.9" cy="1239.7" r="3.3" fill="url(#cl)"/>
<circle cx="1112.5" cy="1238.5" r="3.3" fill="url(#cl)"/>
<circle cx="1126.2" cy="1239.7" r="3.3" fill="url(#cl)"/>
<circle cx="1173.6" cy="1239.7" r="3.3" fill="url(#cl)"/>
<circle cx="1187.1" cy="1238.5" r="3.3" fill="url(#cl)"/>
<circle cx="1200.4" cy="1239.7" r="3.3" fill="url(#cl)"/>
<circle cx="1075.0" cy="1249.4" r="3.3" fill="url(#cl)"/>
<circle cx="1224.3" cy="1249.4" r="3.3" fill="url(#cl)"/>
<circle cx="1149.7" cy="1252.8" r="3.3" fill="url(#cl)"/>
<circle cx="1098.9" cy="1261.9" r="3.3" fill="url(#cl)"/>
<circle cx="1126.2" cy="1261.9" r="3.3" fill="url(#cl)"/>
<circle cx="1173.6" cy="1261.9" r="3.3" fill="url(#cl)"/>
<circle cx="1200.4" cy="1261.9" r="3.3" fill="url(#cl)"/>
<circle cx="1112.5" cy="1265.3" r="3.3" fill="url(#cl)"/>
<circle cx="1187.1" cy="1265.3" r="3.3" fill="url(#cl)"/>
<circle cx="1075.0" cy="1269.2" r="3.3" fill="url(#cl)"/>
<circle cx="1224.3" cy="1269.2" r="3.3" fill="url(#cl)"/>
<circle cx="1088.6" cy="1272.6" r="3.3" fill="url(#cl)"/>
<circle cx="1210.6" cy="1272.6" r="3.3" fill="url(#cl)"/>
<circle cx="1136.1" cy="1272.6" r="3.3" fill="url(#cl)"/>
<circle cx="1163.7" cy="1272.6" r="3.3" fill="url(#cl)"/>
<circle cx="1098.9" cy="1284.1" r="3.3" fill="url(#cl)"/>
<circle cx="1200.4" cy="1284.1" r="3.3" fill="url(#cl)"/>
<circle cx="1126.2" cy="1293.5" r="3.3" fill="url(#cl)"/>
<circle cx="1173.6" cy="1293.5" r="3.3" fill="url(#cl)"/>
<circle cx="1112.5" cy="1296.5" r="3.3" fill="url(#cl)"/>
<circle cx="1187.1" cy="1296.5" r="3.3" fill="url(#cl)"/>
<circle cx="1149.7" cy="1301.1" r="3.3" fill="url(#cl)"/>
<circle cx="1136.1" cy="1304.6" r="3.3" fill="url(#cl)"/>
<circle cx="1163.7" cy="1304.6" r="3.3" fill="url(#cl)"/>
<circle cx="1088.6" cy="1304.6" r="3.3" fill="url(#cl)"/>
<circle cx="1210.6" cy="1304.6" r="3.3" fill="url(#cl)"/>
<circle cx="1075.0" cy="1308.0" r="3.3" fill="url(#cl)"/>
<circle cx="1224.3" cy="1308.0" r="3.3" fill="url(#cl)"/>
<circle cx="1098.9" cy="1314.8" r="3.3" fill="url(#cl)"/>
<circle cx="1200.4" cy="1314.8" r="3.3" fill="url(#cl)"/>
<circle cx="1112.5" cy="1313.1" r="3.3" fill="url(#cl)"/>
<circle cx="1187.1" cy="1313.1" r="3.3" fill="url(#cl)"/>
<circle cx="1136.1" cy="1325.0" r="3.3" fill="url(#cl)"/>
<circle cx="1163.7" cy="1325.0" r="3.3" fill="url(#cl)"/>
<circle cx="1112.5" cy="1332.7" r="3.3" fill="url(#cl)"/>
<circle cx="1187.1" cy="1332.7" r="3.3" fill="url(#cl)"/>
<circle cx="1098.9" cy="1336.1" r="3.3" fill="url(#cl)"/>
<circle cx="1126.2" cy="1336.1" r="3.3" fill="url(#cl)"/>
<circle cx="1173.6" cy="1336.1" r="3.3" fill="url(#cl)"/>
<circle cx="1200.4" cy="1336.1" r="3.3" fill="url(#cl)"/>
<circle cx="1112.5" cy="1338.7" r="3.3" fill="url(#cl)"/>
<circle cx="1187.1" cy="1338.7" r="3.3" fill="url(#cl)"/>
<circle cx="1149.7" cy="1180.8" r="3.3" fill="url(#cl)"/>
<circle cx="1149.7" cy="1199.9" r="3.3" fill="url(#cl)"/>
<circle cx="1149.7" cy="1233.7" r="3.3" fill="url(#cl)"/></g>
<text x="28.2" y="697.8" font-size="46.5" font-weight="bold" font-family="Liberation Sans, Arial, Helvetica, sans-serif">b</text>
<text x="348.6" y="697.8" font-size="46.5" font-weight="bold" font-family="Liberation Sans, Arial, Helvetica, sans-serif">c</text>
<text x="661.1" y="697.8" font-size="46.5" font-weight="bold" font-family="Liberation Sans, Arial, Helvetica, sans-serif">d</text>
<text x="965.6" y="697.8" font-size="46.5" font-weight="bold" font-family="Liberation Sans, Arial, Helvetica, sans-serif">e</text>
<path d="M30.1 865.7L30.3 825.8" stroke="#0a0ae6" stroke-width="5.4"/><path d="M30.1 865.7L30.3 826.8" stroke="#5353f2" stroke-width="1.6"/><polygon points="30.4,806.8 37.9,826.8 22.7,826.8" fill="#0a0ae6"/><path d="M30.1 865.7L70.0 865.8" stroke="#0bd60b" stroke-width="5.4"/><path d="M30.1 865.7L69.0 865.8" stroke="#62ee62" stroke-width="1.6"/><polygon points="89.0,865.9 69.0,873.4 69.0,858.2" fill="#0bd60b"/><circle cx="30.1" cy="865.7" r="6.8" fill="#8b0000"/><text x="30.1" y="800.6" font-size="29" text-anchor="middle" font-family="Liberation Sans, Arial, Helvetica, sans-serif">c</text><text x="90.2" y="873.8" font-size="29" text-anchor="start" font-family="Liberation Sans, Arial, Helvetica, sans-serif">b</text><text x="3.1" y="882.9" font-size="29" text-anchor="start" font-family="Liberation Sans, Arial, Helvetica, sans-serif">a</text>
<path d="M355.1 865.0L355.3 825.8" stroke="#0a0ae6" stroke-width="5.4"/><path d="M355.1 865.0L355.3 826.8" stroke="#5353f2" stroke-width="1.6"/><polygon points="355.4,806.8 362.9,826.8 347.7,826.8" fill="#0a0ae6"/><path d="M355.1 865.0L394.8 865.0" stroke="#0bd60b" stroke-width="5.4"/><path d="M355.1 865.0L393.8 865.0" stroke="#62ee62" stroke-width="1.6"/><polygon points="413.8,865.0 393.8,872.6 393.8,857.4" fill="#0bd60b"/><circle cx="355.1" cy="865" r="6.8" fill="#8b0000"/><text x="355.6" y="800.6" font-size="29" text-anchor="middle" font-family="Liberation Sans, Arial, Helvetica, sans-serif">c</text><text x="415.4" y="877.7" font-size="29" text-anchor="start" font-family="Liberation Sans, Arial, Helvetica, sans-serif">b</text><text x="329.3" y="882.9" font-size="29" text-anchor="start" font-family="Liberation Sans, Arial, Helvetica, sans-serif">a</text>
<path d="M668.2 865.9L668.3 826.3" stroke="#0a0ae6" stroke-width="5.4"/><path d="M668.2 865.9L668.3 827.3" stroke="#5353f2" stroke-width="1.6"/><polygon points="668.4,807.3 675.9,827.3 660.7,827.3" fill="#0a0ae6"/><path d="M668.2 865.9L704.8 865.9" stroke="#0bd60b" stroke-width="5.4"/><path d="M668.2 865.9L703.8 865.9" stroke="#62ee62" stroke-width="1.6"/><polygon points="723.8,865.9 703.8,873.5 703.8,858.3" fill="#0bd60b"/><circle cx="668.2" cy="865.9" r="6.8" fill="#8b0000"/><text x="668.4" y="802.7" font-size="29" text-anchor="middle" font-family="Liberation Sans, Arial, Helvetica, sans-serif">c</text><text x="728.0" y="876.6" font-size="29" text-anchor="start" font-family="Liberation Sans, Arial, Helvetica, sans-serif">b</text><text x="642.3" y="885.3" font-size="29" text-anchor="start" font-family="Liberation Sans, Arial, Helvetica, sans-serif">a</text>
<path d="M970.2 862.1L970.3 823.2" stroke="#0a0ae6" stroke-width="5.4"/><path d="M970.2 862.1L970.3 824.2" stroke="#5353f2" stroke-width="1.6"/><polygon points="970.4,804.2 977.9,824.2 962.7,824.2" fill="#0a0ae6"/><path d="M970.2 862.1L1009.5 862.1" stroke="#0bd60b" stroke-width="5.4"/><path d="M970.2 862.1L1008.5 862.1" stroke="#62ee62" stroke-width="1.6"/><polygon points="1028.5,862.1 1008.5,869.7 1008.5,854.5" fill="#0bd60b"/><circle cx="970.2" cy="862.1" r="6.8" fill="#8b0000"/><text x="971.3" y="797.8" font-size="29" text-anchor="middle" font-family="Liberation Sans, Arial, Helvetica, sans-serif">c</text><text x="1030.9" y="871.8" font-size="29" text-anchor="start" font-family="Liberation Sans, Arial, Helvetica, sans-serif">b</text><text x="943.3" y="883.5" font-size="29" text-anchor="start" font-family="Liberation Sans, Arial, Helvetica, sans-serif">a</text>
<path d="M29.0 1101.6L29.1 1061.0" stroke="#e60a0a" stroke-width="5.4"/><path d="M29.0 1101.6L29.1 1062.0" stroke="#ff6262" stroke-width="1.6"/><polygon points="29.2,1042.0 36.7,1062.0 21.5,1062.0" fill="#e60a0a"/><path d="M29.0 1101.6L69.6 1101.6" stroke="#0a0ae6" stroke-width="5.4"/><path d="M29.0 1101.6L68.6 1101.6" stroke="#5353f2" stroke-width="1.6"/><polygon points="88.6,1101.6 68.6,1109.2 68.6,1094.0" fill="#0a0ae6"/><circle cx="29" cy="1101.6" r="6.8" fill="#008000"/><text x="30.0" y="1034.7" font-size="29" text-anchor="middle" font-family="Liberation Sans, Arial, Helvetica, sans-serif">a</text><text x="93.5" y="1108.3" font-size="29" text-anchor="start" font-family="Liberation Sans, Arial, Helvetica, sans-serif">c</text><text x="5.6" y="1119.7" font-size="29" text-anchor="start" font-family="Liberation Sans, Arial, Helvetica, sans-serif">b</text>
<path d="M374.8 1098.0L350.7 1098.0" stroke="#c20a0a" stroke-width="5"/><path d="M332.7 1098.0L345.6 1090.4Q351.7 1091.2 351.7 1093.8L351.7 1102.2Q351.7 1104.8 345.6 1105.6Z" fill="#e60a0a"/><path d="M374.8 1098.0L399.6 1098.0" stroke="#0ab00a" stroke-width="5"/><path d="M417.6 1098.0L404.7 1105.6Q398.6 1104.8 398.6 1102.2L398.6 1093.8Q398.6 1091.2 404.7 1090.4Z" fill="#0bd60b"/><path d="M374.8 1098.0L374.8 1055.8" stroke="#0a0ae6" stroke-width="5.6"/><polygon points="374.8,1038.3 382.0,1056.8 367.6,1056.8" fill="#0a0ae6"/><circle cx="374.8" cy="1098.0" r="6.6" fill="url(#wh)"/><text x="373.8" y="1031.9" font-size="29" text-anchor="middle" font-family="Liberation Sans, Arial, Helvetica, sans-serif">c</text><text x="311.3" y="1107.8" font-size="29" text-anchor="start" font-family="Liberation Sans, Arial, Helvetica, sans-serif">a</text><text x="421.0" y="1110.7" font-size="29" text-anchor="start" font-family="Liberation Sans, Arial, Helvetica, sans-serif">b</text>
<path d="M668.9 1047.0L709.0 1047.0" stroke="#e60a0a" stroke-width="5.4"/><path d="M668.9 1047.0L708.0 1047.0" stroke="#ff6262" stroke-width="1.6"/><polygon points="728.0,1047.0 708.0,1054.6 708.0,1039.4" fill="#e60a0a"/><path d="M668.9 1047.0L668.9 1087.8" stroke="#0a0ae6" stroke-width="5.4"/><path d="M668.9 1047.0L668.9 1086.8" stroke="#5353f2" stroke-width="1.6"/><polygon points="668.9,1106.8 661.3,1086.8 676.5,1086.8" fill="#0a0ae6"/><circle cx="668.9" cy="1047" r="6.8" fill="#008000"/><text x="642.8" y="1042.5" font-size="29" text-anchor="start" font-family="Liberation Sans, Arial, Helvetica, sans-serif">b</text><text x="732.5" y="1054.4" font-size="29" text-anchor="start" font-family="Liberation Sans, Arial, Helvetica, sans-serif">a</text><text x="668.4" y="1128.6" font-size="29" text-anchor="middle" font-family="Liberation Sans, Arial, Helvetica, sans-serif">c</text>
<path d="M1007.8 1098.0L984.0 1098.0" stroke="#c20a0a" stroke-width="5"/><path d="M966.0 1098.0L978.9 1090.4Q985.0 1091.2 985.0 1093.8L985.0 1102.2Q985.0 1104.8 978.9 1105.6Z" fill="#e60a0a"/><path d="M1007.8 1098.0L1032.8 1098.0" stroke="#0ab00a" stroke-width="5"/><path d="M1050.8 1098.0L1037.9 1105.6Q1031.8 1104.8 1031.8 1102.2L1031.8 1093.8Q1031.8 1091.2 1037.9 1090.4Z" fill="#0bd60b"/><path d="M1007.8 1098.0L1007.8 1055.8" stroke="#0a0ae6" stroke-width="5.6"/><polygon points="1007.8,1038.3 1015.0,1056.8 1000.6,1056.8" fill="#0a0ae6"/><circle cx="1007.8" cy="1098.0" r="6.6" fill="url(#wh)"/><text x="1007.2" y="1031.9" font-size="29" text-anchor="middle" font-family="Liberation Sans, Arial, Helvetica, sans-serif">c</text><text x="944.9" y="1108.5" font-size="29" text-anchor="start" font-family="Liberation Sans, Arial, Helvetica, sans-serif">a</text><text x="1054.0" y="1110.8" font-size="29" text-anchor="start" font-family="Liberation Sans, Arial, Helvetica, sans-serif">b</text>
<path d="M29.0 1347.4L29.1 1306.3" stroke="#0bd60b" stroke-width="5.4"/><path d="M29.0 1347.4L29.1 1307.3" stroke="#62ee62" stroke-width="1.6"/><polygon points="29.2,1287.3 36.7,1307.3 21.5,1307.3" fill="#0bd60b"/><path d="M29.0 1347.4L70.2 1347.4" stroke="#e60a0a" stroke-width="5.4"/><path d="M29.0 1347.4L69.2 1347.4" stroke="#ff6262" stroke-width="1.6"/><polygon points="89.2,1347.4 69.2,1355.0 69.2,1339.8" fill="#e60a0a"/><circle cx="29" cy="1347.4" r="6.8" fill="#00008b"/><text x="30.8" y="1283.2" font-size="29" text-anchor="middle" font-family="Liberation Sans, Arial, Helvetica, sans-serif">b</text><text x="94.2" y="1354.7" font-size="29" text-anchor="start" font-family="Liberation Sans, Arial, Helvetica, sans-serif">a</text><text x="7.1" y="1367.7" font-size="29" text-anchor="start" font-family="Liberation Sans, Arial, Helvetica, sans-serif">c</text>
<path d="M373.2 1324.5L344.9 1340.9" stroke="#c20a0a" stroke-width="5.4"/><polygon points="329.7,1349.6 341.6,1335.1 348.2,1346.6" fill="#e60a0a" stroke="#e60a0a" stroke-width="2" stroke-linejoin="round"/><path d="M373.2 1324.5L401.6 1339.6" stroke="#0ab00a" stroke-width="5.4"/><polygon points="417.0,1347.8 398.4,1345.4 404.7,1333.7" fill="#0bd60b" stroke="#0bd60b" stroke-width="2" stroke-linejoin="round"/><path d="M373.2 1324.5L372.9 1291.2" stroke="#0a0ae6" stroke-width="6"/><polygon points="372.7,1273.7 379.7,1291.1 366.1,1291.3" fill="#0a0ae6" stroke="#0a0ae6" stroke-width="2" stroke-linejoin="round"/><circle cx="373.2" cy="1324.5" r="6.6" fill="url(#wh)"/><text x="371.8" y="1261.1" font-size="29" text-anchor="middle" font-family="Liberation Sans, Arial, Helvetica, sans-serif">c</text><text x="308.5" y="1362.8" font-size="29" text-anchor="start" font-family="Liberation Sans, Arial, Helvetica, sans-serif">a</text><text x="419.1" y="1359.8" font-size="29" text-anchor="start" font-family="Liberation Sans, Arial, Helvetica, sans-serif">b</text>
<path d="M672.8 1344.9L672.9 1303.1" stroke="#0bd60b" stroke-width="5.4"/><path d="M672.8 1344.9L672.9 1304.1" stroke="#62ee62" stroke-width="1.6"/><polygon points="673.0,1284.1 680.5,1304.1 665.3,1304.1" fill="#0bd60b"/><path d="M672.8 1344.9L714.3 1344.6" stroke="#e60a0a" stroke-width="5.4"/><path d="M672.8 1344.9L713.3 1344.6" stroke="#ff6262" stroke-width="1.6"/><polygon points="733.3,1344.4 713.4,1352.2 713.2,1337.0" fill="#e60a0a"/><circle cx="672.8" cy="1344.9" r="6.8" fill="#00008b"/><text x="673.8" y="1278.5" font-size="29" text-anchor="middle" font-family="Liberation Sans, Arial, Helvetica, sans-serif">b</text><text x="736.0" y="1354.4" font-size="29" text-anchor="start" font-family="Liberation Sans, Arial, Helvetica, sans-serif">a</text><text x="648.4" y="1366.7" font-size="29" text-anchor="start" font-family="Liberation Sans, Arial, Helvetica, sans-serif">c</text>
<path d="M1006.8 1324.5L978.8 1340.8" stroke="#c20a0a" stroke-width="5.4"/><polygon points="963.7,1349.6 975.5,1335.1 982.1,1346.5" fill="#e60a0a" stroke="#e60a0a" stroke-width="2" stroke-linejoin="round"/><path d="M1006.8 1324.5L1034.8 1339.5" stroke="#0ab00a" stroke-width="5.4"/><polygon points="1050.2,1347.8 1031.7,1345.3 1037.9,1333.7" fill="#0bd60b" stroke="#0bd60b" stroke-width="2" stroke-linejoin="round"/><path d="M1006.8 1324.5L1006.5 1291.2" stroke="#0a0ae6" stroke-width="6"/><polygon points="1006.3,1273.7 1013.3,1291.1 999.7,1291.3" fill="#0a0ae6" stroke="#0a0ae6" stroke-width="2" stroke-linejoin="round"/><circle cx="1006.8" cy="1324.5" r="6.6" fill="url(#wh)"/><text x="1005.4" y="1261.1" font-size="29" text-anchor="middle" font-family="Liberation Sans, Arial, Helvetica, sans-serif">c</text><text x="941.5" y="1362.8" font-size="29" text-anchor="start" font-family="Liberation Sans, Arial, Helvetica, sans-serif">a</text><text x="1052.1" y="1359.8" font-size="29" text-anchor="start" font-family="Liberation Sans, Arial, Helvetica, sans-serif">b</text>
<polygon points="295.4,1043.8 314.9,1043.8 314.9,1035.1 341,1048.2 314.9,1061.2 314.9,1052.7 295.4,1052.7" fill="#000"/>
<path d="M435 1400L516 1352M592.5 1400L554 1331M782 1397.5L813 1312M926 1400L906 1340M1150.7 1397V1333" stroke="#000" stroke-width="1.15" fill="none"/>
<polygon points="523.8,1346 505.4,1348.5 513.8,1361" fill="#000"/>
<polygon points="548.1,1320.9 548.6,1339.3 563.2,1330.9" fill="#000"/>
<polygon points="817.7,1301.1 804.1,1313.2 820,1319.2" fill="#000"/>
<polygon points="903.3,1328.3 900.3,1347.3 916.2,1342" fill="#000"/>
<polygon points="1150.6,1320.8 1142,1337 1158.9,1337" fill="#000"/>
<text x="352" y="1427" font-size="32.6" font-family="Liberation Sans, Arial, Helvetica, sans-serif">Na/Fe 4a</text>
<text x="502.8" y="1427" font-size="32.6" font-family="Liberation Sans, Arial, Helvetica, sans-serif">Na/Fe 24d</text>
<text x="722" y="1426" font-size="32.6" font-family="Liberation Sans, Arial, Helvetica, sans-serif">Na/Fe 4b</text>
<text x="872" y="1426" font-size="32.6" font-family="Liberation Sans, Arial, Helvetica, sans-serif">Na/Fe 4d</text>
<text x="1077" y="1426" font-size="32.6" font-family="Liberation Sans, Arial, Helvetica, sans-serif">Na/Fe 16d</text>
<circle cx="128.1" cy="1482.1" r="23" fill="url(#na)"/>
<text x="169.5" y="1496.6" font-size="35" font-family="Liberation Sans, Arial, Helvetica, sans-serif">Na</text>
<circle cx="591.7" cy="1482.8" r="20.2" fill="url(#fe)"/>
<text x="630.5" y="1496.7" font-size="35" font-family="Liberation Sans, Arial, Helvetica, sans-serif">Fe</text>
<circle cx="1064.6" cy="1485.8" r="16.2" fill="url(#cl)"/>
<text x="1096" y="1498.6" font-size="35" font-family="Liberation Sans, Arial, Helvetica, sans-serif">Cl</text>
</svg>
</body></html>
